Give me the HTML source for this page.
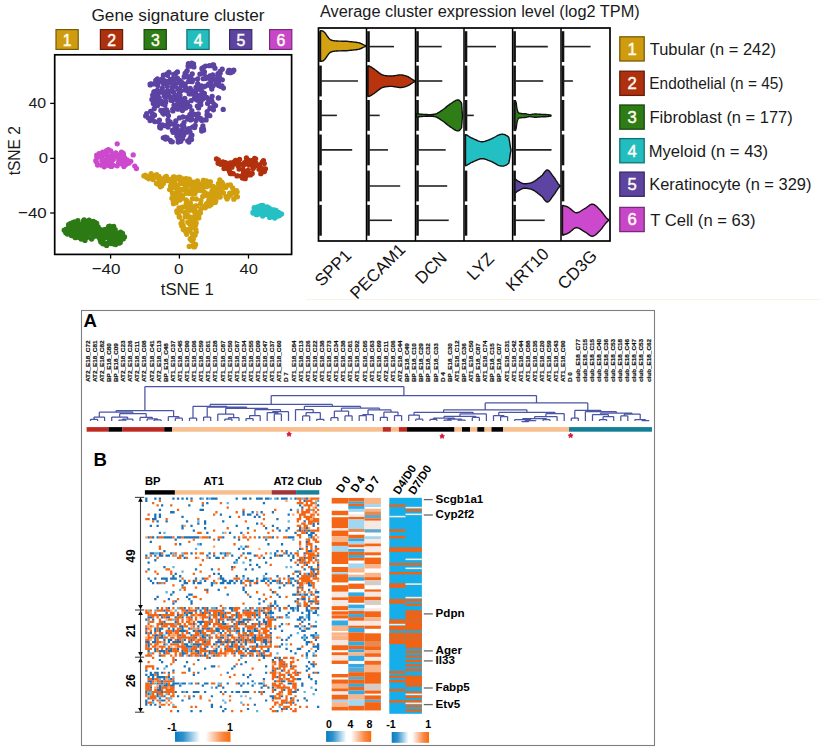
<!DOCTYPE html>
<html><head><meta charset="utf-8"><style>
html,body{margin:0;padding:0;background:#fff;}
body{width:820px;height:752px;overflow:hidden;}
svg{display:block;}
</style></head><body>
<svg width="820" height="752" viewBox="0 0 820 752">
<rect width="820" height="752" fill="#fff"/>
<text x="91.43" y="20.8" font-size="16.0" fill="#1a1a1a" textLength="173.15" lengthAdjust="spacingAndGlyphs" font-family="Liberation Sans, sans-serif" >Gene signature cluster</text>
<rect x="56.0" y="29.6" width="22.2" height="19.8" fill="#CE9C0E" stroke="#7A5C06" stroke-width="1.2"/>
<text x="67.2" y="45.9" font-size="15.8" fill="#FFFBEF" stroke="#FFFBEF" stroke-width="0.45" text-anchor="middle" font-family="Liberation Sans, sans-serif">1</text>
<rect x="100.39999999999999" y="29.6" width="22.2" height="19.8" fill="#AE310F" stroke="#661C08" stroke-width="1.2"/>
<text x="111.6" y="45.9" font-size="15.8" fill="#FFFBEF" stroke="#FFFBEF" stroke-width="0.45" text-anchor="middle" font-family="Liberation Sans, sans-serif">2</text>
<rect x="144.1" y="29.6" width="22.2" height="19.8" fill="#2E7C16" stroke="#1A480C" stroke-width="1.2"/>
<text x="155.3" y="45.9" font-size="15.8" fill="#FFFBEF" stroke="#FFFBEF" stroke-width="0.45" text-anchor="middle" font-family="Liberation Sans, sans-serif">3</text>
<rect x="186.9" y="29.6" width="22.2" height="19.8" fill="#22BDBF" stroke="#127172" stroke-width="1.2"/>
<text x="198.10000000000002" y="45.9" font-size="15.8" fill="#FFFBEF" stroke="#FFFBEF" stroke-width="0.45" text-anchor="middle" font-family="Liberation Sans, sans-serif">4</text>
<rect x="229.6" y="29.6" width="22.2" height="19.8" fill="#5D44A0" stroke="#392966" stroke-width="1.2"/>
<text x="240.8" y="45.9" font-size="15.8" fill="#FFFBEF" stroke="#FFFBEF" stroke-width="0.45" text-anchor="middle" font-family="Liberation Sans, sans-serif">5</text>
<rect x="269.6" y="29.6" width="22.2" height="19.8" fill="#C847C9" stroke="#772A78" stroke-width="1.2"/>
<text x="280.8" y="45.9" font-size="15.8" fill="#FFFBEF" stroke="#FFFBEF" stroke-width="0.45" text-anchor="middle" font-family="Liberation Sans, sans-serif">6</text>
<path d="M173.8 74.3h0M203.2 67.7h0M192.9 92.4h0M182.8 131.2h0M155.8 80.4h0M196.6 95.0h0M221.9 86.0h0M172.4 130.3h0M160.9 110.5h0M202.1 92.9h0M193.9 66.9h0M205.9 97.6h0M172.9 110.9h0M185.4 86.8h0M166.6 109.9h0M191.9 135.2h0M210.3 85.8h0M232.9 71.5h0M182.3 125.3h0M158.3 102.7h0M148.2 117.8h0M213.4 109.8h0M223.4 88.0h0M207.2 111.6h0M196.8 100.0h0M187.3 117.5h0M150.1 120.6h0M218.6 85.5h0M179.4 117.9h0M156.3 82.4h0M179.8 134.9h0M151.9 99.4h0M169.7 96.5h0M176.9 136.0h0M160.5 81.1h0M165.6 102.4h0M197.7 83.7h0M177.9 109.2h0M191.0 113.6h0M205.5 66.1h0M180.0 95.2h0M154.0 115.0h0M163.4 75.2h0M153.8 92.2h0M199.9 74.1h0M167.3 90.8h0M177.4 71.9h0M186.6 102.3h0M175.5 83.9h0M219.2 75.2h0M192.2 73.9h0M193.5 63.9h0M168.1 92.4h0M159.7 126.5h0M192.6 127.1h0M174.3 80.4h0M165.0 105.1h0M168.0 119.9h0M164.5 80.7h0M162.3 78.8h0M203.4 128.9h0M152.3 117.2h0M212.2 101.8h0M160.7 128.0h0M174.6 129.0h0M180.8 141.3h0M209.9 75.9h0M176.2 107.8h0M183.7 134.9h0M219.0 79.3h0M167.3 86.2h0M166.3 110.9h0M168.0 96.8h0M176.5 100.1h0M182.5 138.8h0M189.8 106.3h0M191.8 63.2h0M184.2 77.0h0M160.1 101.4h0M209.9 108.4h0M174.0 105.2h0M194.6 127.6h0M154.2 108.7h0M167.0 84.9h0M214.1 104.3h0M195.2 125.5h0M199.8 104.1h0M190.7 119.9h0M185.3 106.5h0M187.7 140.8h0M220.2 73.1h0M155.6 98.8h0M151.2 117.9h0M158.5 121.8h0M204.1 73.6h0M180.5 102.6h0M159.2 97.9h0M191.0 90.1h0M162.3 88.4h0M194.5 98.7h0M200.8 104.7h0M154.1 83.9h0M169.0 72.5h0M182.6 138.3h0M218.3 83.3h0M196.0 120.5h0M206.6 97.4h0M201.7 129.0h0M185.5 90.1h0M168.7 72.5h0M192.1 81.7h0M172.7 87.3h0M213.0 86.0h0M189.6 76.6h0M210.6 108.0h0M161.7 101.5h0M228.8 70.5h0M218.3 98.0h0M189.2 131.8h0M180.0 104.2h0M175.5 131.6h0M208.2 115.1h0M181.1 90.8h0M167.6 75.3h0M170.0 82.0h0M171.0 100.2h0M158.8 99.1h0M172.5 91.6h0M187.4 103.9h0M162.7 104.1h0M152.7 95.2h0M172.0 81.2h0M197.3 106.1h0M179.7 89.0h0M209.8 115.7h0M157.2 105.7h0M190.0 131.8h0M206.1 119.9h0M156.6 91.9h0M194.9 114.4h0M201.0 118.9h0M189.9 106.6h0M204.0 67.1h0M210.9 82.8h0M151.3 83.9h0M210.3 78.9h0M189.1 93.8h0M187.7 119.1h0M202.5 68.1h0M157.9 83.0h0M211.5 87.2h0M150.1 84.2h0M205.1 119.8h0M205.5 86.1h0M191.1 100.7h0M186.6 71.6h0M185.1 84.2h0M163.6 110.5h0M157.4 105.7h0M230.4 72.7h0M165.5 137.1h0M188.4 63.7h0M185.2 87.0h0M157.3 90.5h0M173.1 132.3h0M220.2 71.7h0M178.1 94.6h0M177.1 97.6h0M170.3 140.3h0M167.1 83.9h0M190.6 77.6h0M178.2 142.0h0M209.4 65.7h0M210.5 99.5h0M228.0 72.3h0M187.1 90.5h0M171.4 123.8h0M203.7 86.9h0M194.8 94.8h0M163.3 137.8h0M189.4 80.1h0M185.1 73.3h0M166.2 83.3h0M212.1 96.3h0M181.9 105.7h0M178.6 90.0h0M150.2 84.9h0M231.7 72.2h0M189.9 114.6h0M222.3 79.8h0M169.0 82.5h0M180.6 99.1h0M179.9 139.6h0M191.7 119.0h0M202.9 125.9h0M185.8 108.0h0M165.6 139.0h0M202.7 87.1h0M156.2 82.8h0M201.9 120.4h0M191.8 110.6h0M179.6 80.4h0M171.8 100.4h0M165.8 82.4h0M189.5 118.3h0M182.4 83.2h0M175.1 97.0h0M206.1 78.3h0M190.1 78.9h0M218.4 81.0h0M164.6 125.6h0M171.2 141.7h0M189.3 77.3h0M164.7 96.7h0M157.8 94.7h0M204.4 93.4h0M178.3 89.5h0M169.8 91.2h0M230.6 72.0h0M176.7 130.7h0M218.6 98.0h0M178.2 139.0h0M162.0 92.2h0M181.6 129.9h0M213.6 65.0h0M175.2 84.5h0M168.2 121.9h0M173.1 84.8h0M165.7 101.6h0M179.4 82.7h0M183.3 103.1h0M199.3 89.2h0M173.4 92.0h0M215.0 68.2h0M162.4 124.9h0M153.3 103.5h0M208.5 99.2h0M165.7 96.7h0M200.5 118.3h0M204.4 71.8h0M220.3 86.3h0M195.7 93.0h0M211.1 78.3h0M166.9 82.2h0M196.7 89.0h0M190.3 81.1h0M233.8 70.2h0M187.4 130.5h0M168.0 127.0h0M229.8 70.5h0M198.3 113.8h0M164.2 92.6h0M157.4 78.8h0M167.6 112.0h0M203.3 78.7h0M205.7 77.2h0M172.7 78.7h0M180.2 107.9h0M202.2 69.3h0M159.4 120.1h0M181.5 85.4h0M172.3 141.8h0M172.7 109.3h0M176.8 96.6h0M177.4 78.2h0M210.2 78.7h0M182.8 130.6h0M181.2 135.9h0M186.1 75.3h0M152.6 113.9h0M178.0 104.0h0M157.8 85.4h0M191.5 139.5h0M154.4 102.9h0M188.1 66.1h0M218.8 75.1h0M215.4 80.3h0M181.0 132.8h0M219.3 77.0h0M164.3 95.2h0M191.2 93.9h0M155.7 82.4h0M212.8 64.8h0M220.1 71.5h0M198.6 107.9h0M201.1 87.4h0M182.4 110.6h0M183.0 117.0h0M184.8 98.5h0M146.7 113.7h0M188.7 81.4h0M185.9 76.7h0M187.2 70.6h0M156.2 97.8h0M152.9 98.8h0M190.6 65.0h0M201.9 68.5h0M190.7 66.2h0M190.0 93.4h0M188.9 142.1h0M212.7 74.9h0M218.0 73.7h0M189.8 139.0h0M163.4 83.7h0M190.2 88.4h0M159.8 127.6h0M155.0 106.2h0M201.9 91.9h0M201.3 94.8h0M216.4 83.9h0M177.1 125.9h0M184.4 76.5h0M211.6 65.6h0M218.4 82.9h0M197.4 117.4h0M200.1 98.0h0M190.8 136.9h0M156.5 80.7h0M154.2 91.6h0M164.8 110.7h0M197.7 78.8h0M200.8 101.5h0M166.6 74.2h0M153.3 115.3h0M180.8 83.8h0M145.7 115.9h0M195.2 91.1h0M202.7 98.9h0M167.0 137.6h0M181.2 81.6h0M162.6 112.8h0M190.3 115.6h0M217.8 76.3h0M172.5 86.9h0M211.7 100.7h0M211.4 99.7h0M174.8 124.7h0M208.7 84.0h0M194.5 98.3h0M215.6 105.6h0M168.5 115.6h0M168.1 81.5h0M211.8 89.1h0M166.2 138.0h0M201.4 119.9h0M186.9 132.2h0M184.0 122.6h0M196.0 87.5h0M163.7 114.0h0M175.7 73.5h0M207.0 114.9h0M150.6 111.3h0M177.3 130.4h0M201.7 131.0h0M201.5 85.8h0M212.8 78.8h0M173.4 97.2h0M170.1 121.8h0M177.8 88.6h0M183.9 126.6h0M175.8 120.9h0M193.0 79.8h0M222.2 69.2h0M218.4 75.9h0M188.9 128.6h0M161.2 103.2h0M175.9 131.6h0M170.2 79.7h0M207.6 103.5h0M154.5 115.2h0M146.7 115.5h0M154.7 121.6h0M223.2 109.4h0M203.6 130.2h0" stroke="#5C42A2" stroke-width="5.3" stroke-linecap="round" fill="none"/>
<path d="M161.0 184.6h0M159.0 178.1h0M152.4 178.7h0M146.8 176.7h0M166.9 180.3h0M162.6 182.5h0M150.9 177.7h0M160.0 183.9h0M163.2 181.5h0M166.4 176.4h0M146.4 177.3h0M161.2 185.5h0M145.3 175.1h0M148.0 177.7h0M155.9 175.2h0M150.3 175.6h0M162.0 179.3h0M143.9 175.9h0M160.9 180.3h0M159.1 179.7h0M167.1 179.2h0M157.4 184.0h0M153.0 176.2h0M161.7 186.0h0M163.2 183.3h0M159.4 179.6h0M163.4 183.5h0M159.0 176.5h0M153.1 179.6h0M158.8 178.9h0M160.4 186.8h0M163.3 178.6h0M168.0 180.6h0M156.5 183.6h0M164.8 180.6h0M151.1 173.6h0M148.8 178.8h0M151.0 176.8h0M168.0 180.7h0M152.2 176.0h0M154.4 177.2h0M156.7 174.7h0M164.9 178.1h0M165.4 176.8h0M151.7 176.6h0" stroke="#D2A00E" stroke-width="5.3" stroke-linecap="round" fill="none"/>
<path d="M199.1 189.3h0M188.9 193.5h0M190.3 210.3h0M215.5 201.9h0M215.2 193.9h0M176.3 186.3h0M185.6 231.4h0M193.5 187.0h0M183.0 225.4h0M208.1 194.9h0M185.6 186.0h0M203.8 180.3h0M202.0 186.4h0M195.5 205.9h0M192.4 246.0h0M192.9 237.5h0M194.9 209.9h0M183.9 207.1h0M198.8 215.6h0M227.2 197.0h0M204.5 195.4h0M192.4 198.7h0M190.2 217.9h0M172.6 197.5h0M169.6 189.6h0M217.0 191.2h0M222.7 183.3h0M181.9 178.7h0M215.2 202.4h0M208.6 194.5h0M190.4 206.1h0M191.5 206.8h0M171.9 184.6h0M198.1 183.4h0M214.4 191.2h0M179.8 177.2h0M178.2 177.4h0M219.7 193.4h0M220.7 189.4h0M220.4 182.1h0M191.0 228.0h0M203.3 180.4h0M195.0 217.0h0M194.7 222.0h0M196.2 232.1h0M209.0 196.9h0M192.5 219.2h0M211.4 198.1h0M195.6 224.9h0M225.9 196.3h0M198.8 217.9h0M209.3 195.6h0M193.5 182.2h0M183.2 229.5h0M234.6 192.8h0M201.8 190.8h0M187.0 229.6h0M223.4 192.7h0M182.4 189.8h0M181.8 226.0h0M194.6 216.3h0M197.4 212.9h0M179.6 179.3h0M224.5 187.2h0M211.1 200.7h0M209.0 194.7h0M187.0 178.8h0M183.3 189.0h0M175.0 179.7h0M211.2 204.4h0M187.2 216.3h0M200.6 187.5h0M184.7 178.8h0M187.1 201.2h0M173.1 186.4h0M216.7 197.4h0M176.6 199.2h0M187.2 184.9h0M203.0 188.1h0M185.9 186.3h0M219.5 190.0h0M179.0 208.0h0M200.9 200.3h0M213.3 186.3h0M184.7 180.1h0M187.9 205.4h0M180.1 195.4h0M180.9 211.1h0M191.5 240.4h0M216.1 191.1h0M202.7 196.5h0M187.3 190.5h0M194.7 246.7h0M176.0 196.7h0M220.2 197.0h0M182.2 207.1h0M233.2 191.6h0M209.3 185.9h0M219.1 190.1h0M174.7 182.3h0M188.4 190.8h0M183.4 180.8h0M219.8 180.0h0M230.4 195.1h0M194.9 187.7h0M195.2 218.5h0M200.5 212.8h0M191.7 226.7h0M195.9 229.6h0M237.1 192.0h0M182.0 183.4h0M186.7 234.3h0M171.3 183.0h0M218.2 190.0h0M218.5 183.4h0M172.3 184.9h0M188.8 184.8h0M197.6 185.9h0M179.5 216.9h0M221.6 187.8h0M196.5 206.0h0M186.0 200.0h0M186.7 206.2h0M213.6 202.1h0M206.4 181.0h0M199.6 212.0h0M170.6 186.0h0M214.2 195.0h0M216.8 195.6h0M212.8 193.9h0M205.7 207.0h0M235.9 196.6h0M190.6 222.2h0M188.0 209.3h0M206.6 186.7h0M177.9 185.5h0M189.8 205.1h0M189.4 193.4h0M183.3 226.7h0M191.0 193.4h0M184.7 212.6h0M196.1 217.8h0M229.7 193.1h0M189.2 246.4h0M189.9 231.1h0M180.3 180.9h0M173.5 203.7h0M176.8 192.1h0M180.0 200.1h0M193.9 224.2h0M209.3 205.9h0M211.8 203.1h0M200.9 208.7h0M219.9 197.0h0M196.6 215.6h0M196.2 199.0h0M204.2 207.7h0M182.1 197.8h0M179.3 217.1h0M210.0 182.4h0M233.8 199.2h0M236.5 190.6h0M169.9 179.5h0M194.3 218.5h0M193.8 243.6h0M176.1 202.8h0M197.3 216.1h0M181.1 198.8h0M205.2 184.0h0M180.1 196.7h0M182.4 189.1h0M194.0 246.9h0M190.7 225.3h0M216.1 190.1h0M187.8 222.2h0M209.5 205.4h0M177.7 187.3h0M222.5 183.7h0M176.2 188.2h0M173.5 177.0h0M181.0 195.1h0M210.0 200.9h0M200.7 203.6h0M186.7 179.2h0M191.3 240.1h0M226.5 197.7h0M186.2 203.9h0M219.6 191.9h0M190.9 238.4h0M186.2 188.5h0M194.3 189.4h0M237.4 196.8h0M208.6 184.3h0M206.6 203.6h0M197.5 180.8h0M193.8 193.5h0M182.6 196.3h0M185.8 178.6h0M215.8 200.4h0M175.7 195.3h0M227.8 185.2h0M225.7 187.4h0M193.9 227.6h0M195.6 244.4h0M204.6 192.3h0M200.9 185.4h0M218.8 194.7h0M195.0 193.6h0M211.9 191.2h0M230.4 184.8h0M188.1 231.1h0M196.2 222.9h0M209.0 198.2h0M196.5 182.2h0M191.7 223.3h0M194.5 211.7h0M190.0 180.8h0M191.0 192.2h0M189.0 204.8h0M178.4 195.8h0M215.8 201.1h0M218.3 193.8h0M213.3 189.0h0M172.0 178.9h0M180.5 190.2h0M190.4 203.2h0M171.9 198.2h0M214.0 188.9h0M219.5 194.2h0M189.3 179.2h0M172.5 193.5h0M221.8 182.2h0M188.9 182.5h0M199.2 212.6h0M187.5 215.0h0M207.4 193.9h0M173.3 201.6h0M198.1 190.4h0M191.0 185.8h0M185.9 193.3h0M205.3 207.8h0M190.2 239.1h0M179.1 216.2h0M192.6 234.2h0M181.0 223.6h0M177.2 196.7h0M194.5 190.8h0M173.4 196.1h0M183.0 226.1h0M200.6 184.1h0M191.9 209.5h0M194.6 188.1h0M174.2 176.9h0M176.8 210.9h0M199.6 189.6h0M215.0 194.0h0M186.4 186.0h0M228.1 197.2h0M182.2 221.5h0M192.1 189.2h0M227.1 198.9h0M195.0 215.3h0M195.1 235.3h0M186.0 179.0h0M180.2 197.4h0M210.0 181.8h0M217.5 187.8h0M175.4 178.9h0M200.0 189.7h0M189.0 223.2h0M205.3 206.1h0M192.9 207.3h0M232.6 187.8h0M189.9 207.7h0M208.7 200.9h0M182.9 182.2h0M191.9 208.9h0M190.0 216.8h0M214.6 197.4h0M193.3 239.1h0M171.1 189.5h0M195.3 217.5h0M198.4 213.8h0M208.8 204.3h0M177.2 189.0h0M187.0 182.9h0M206.4 194.0h0M185.1 216.9h0M177.1 212.6h0M210.5 181.8h0" stroke="#D2A00E" stroke-width="5.3" stroke-linecap="round" fill="none"/>
<path d="M237.6 175.8h0M243.6 172.3h0M254.6 158.3h0M265.5 168.8h0M255.6 158.8h0M226.7 164.3h0M225.5 162.6h0M252.0 165.6h0M261.7 170.2h0M260.8 168.8h0M232.3 173.5h0M250.5 174.9h0M220.6 164.3h0M246.4 157.9h0M243.5 174.4h0M250.3 161.6h0M224.4 166.1h0M259.0 169.2h0M224.0 168.6h0M229.6 171.7h0M261.0 168.2h0M251.0 174.5h0M240.9 176.1h0M250.5 164.8h0M239.6 159.3h0M259.4 164.8h0M260.9 169.9h0M218.1 163.3h0M223.1 164.1h0M239.1 169.1h0M234.8 163.9h0M216.5 159.0h0M250.0 162.0h0M228.7 167.3h0M228.1 168.9h0M242.4 178.0h0M244.1 173.7h0M260.8 173.7h0M248.0 170.5h0M233.5 162.2h0M264.4 171.6h0M230.3 173.5h0M253.7 167.5h0M248.1 163.8h0M243.6 165.1h0M239.9 164.2h0M238.3 166.0h0M244.5 162.7h0M230.2 162.8h0M253.0 168.5h0M264.3 163.6h0M263.5 169.3h0M218.3 159.8h0M245.2 178.7h0M233.2 173.7h0M237.0 175.9h0M262.3 162.1h0M222.9 161.9h0M251.8 160.7h0M235.5 160.3h0M246.4 175.8h0M248.8 160.2h0M224.1 168.2h0M261.0 170.6h0M263.5 160.6h0M231.6 173.2h0M248.8 165.1h0M250.5 163.5h0M232.0 167.2h0M246.1 161.6h0M263.7 168.8h0M247.0 172.6h0M257.7 165.5h0M242.9 169.4h0M243.8 171.0h0M246.3 163.4h0M253.8 161.6h0M252.2 173.5h0M255.7 162.9h0M238.3 162.1h0" stroke="#B2300C" stroke-width="5.3" stroke-linecap="round" fill="none"/>
<path d="M266.4 214.3h0M276.0 210.3h0M253.0 212.2h0M269.0 207.8h0M255.9 207.8h0M274.8 218.0h0M271.6 210.1h0M276.9 211.7h0M253.0 213.1h0M281.5 213.9h0M258.3 208.8h0M259.5 211.3h0M258.5 208.1h0M275.5 214.1h0M258.1 213.1h0M275.3 216.6h0M260.2 209.9h0M256.3 214.7h0M270.3 211.6h0M269.7 217.4h0M262.7 216.0h0M260.7 205.7h0M254.2 207.7h0M274.2 217.4h0M267.3 208.5h0M265.0 206.8h0M255.0 212.0h0M255.5 211.2h0M256.9 214.7h0M267.2 206.9h0M262.5 212.1h0M279.5 215.4h0M259.9 207.8h0M259.6 206.3h0M264.2 213.0h0M262.8 205.5h0M273.3 214.3h0M268.6 212.9h0M279.2 215.2h0M264.0 209.7h0M263.6 210.6h0M264.3 207.3h0M259.3 213.7h0M263.2 208.7h0M257.5 207.0h0M278.2 216.1h0M273.4 209.8h0M271.9 212.9h0M278.6 212.3h0M258.6 214.0h0M275.0 210.5h0M274.0 210.7h0M268.0 213.7h0M272.9 209.8h0M271.3 212.8h0" stroke="#24C0C4" stroke-width="5.3" stroke-linecap="round" fill="none"/>
<path d="M102.7 161.1h0M104.2 166.8h0M111.5 163.2h0M113.2 158.5h0M102.7 152.1h0M113.3 159.5h0M123.4 153.9h0M100.9 165.1h0M111.1 161.6h0M123.9 166.5h0M108.3 165.3h0M100.3 154.2h0M98.5 156.2h0M123.1 159.3h0M110.8 151.0h0M119.3 158.0h0M111.7 164.6h0M121.5 152.2h0M118.8 156.4h0M113.2 153.9h0M107.9 155.9h0M108.3 149.7h0M101.9 160.3h0M120.1 154.6h0M106.3 154.0h0M117.2 165.8h0M102.0 157.5h0M122.7 161.2h0M107.9 150.2h0M110.4 156.4h0M119.9 155.0h0M109.2 161.8h0M123.4 156.1h0M108.4 160.4h0M129.0 163.0h0M108.0 162.1h0M106.5 150.7h0M121.4 156.6h0M113.3 158.9h0M126.5 163.9h0M95.8 160.7h0M111.1 158.2h0M124.4 157.3h0M111.5 166.4h0M110.3 158.8h0M112.9 165.2h0M118.4 163.5h0M109.0 150.1h0M118.8 160.0h0M121.9 164.1h0M99.0 153.6h0M97.6 165.0h0M121.3 160.2h0M96.8 162.4h0M119.9 158.6h0M96.8 162.6h0M109.6 160.5h0M106.6 159.3h0M104.5 154.4h0M105.9 154.2h0M125.0 160.0h0M112.8 157.4h0M96.7 155.2h0M125.3 164.7h0M113.7 156.5h0M111.2 158.7h0M115.4 156.4h0M123.0 153.2h0M127.2 160.0h0M96.7 155.4h0M113.6 157.2h0M114.7 155.6h0M104.5 164.6h0M105.1 163.0h0M123.1 160.7h0M110.5 166.2h0M96.9 157.7h0M115.8 152.8h0M127.3 160.1h0M123.0 158.9h0M117.2 143.8h0M133.2 154.9h0M136.4 168.5h0M130.8 161.3h0M134.8 166.1h0" stroke="#CC48CC" stroke-width="5.3" stroke-linecap="round" fill="none"/>
<path d="M87.7 233.9h0M73.8 223.5h0M93.7 222.0h0M96.7 223.4h0M78.2 233.5h0M88.2 222.2h0M73.8 224.0h0M84.3 225.9h0M83.6 222.2h0M96.4 226.0h0M93.9 222.2h0M76.9 233.1h0M71.2 231.0h0M66.4 229.1h0M89.7 228.4h0M87.9 221.3h0M93.4 221.5h0M97.5 230.5h0M73.6 226.5h0M90.5 229.9h0M80.8 238.1h0M84.9 230.9h0M94.0 223.8h0M85.0 240.4h0M75.2 228.8h0M72.1 235.4h0M83.5 220.9h0M83.2 236.4h0M84.8 229.1h0M64.2 230.2h0M66.5 233.2h0M67.8 231.7h0M75.9 227.1h0M87.3 222.4h0M75.1 237.6h0M95.0 229.5h0M81.2 230.7h0M67.3 229.2h0M69.0 230.7h0M81.6 227.0h0M70.2 227.8h0M81.4 238.7h0M80.9 236.4h0M83.9 234.2h0M71.4 235.5h0M68.6 224.7h0M82.0 225.3h0M84.2 224.0h0M84.8 236.3h0M89.1 220.2h0M72.0 232.2h0M85.7 234.2h0M92.9 226.4h0M92.7 229.1h0M97.5 228.0h0M77.9 220.7h0M72.0 235.2h0M87.9 222.2h0M75.6 221.9h0M70.3 223.7h0M80.6 229.9h0M91.6 239.1h0M90.6 233.0h0M70.3 232.7h0M94.0 236.3h0M75.8 222.4h0M98.4 233.8h0M90.3 221.8h0M96.2 235.4h0M93.5 236.7h0M84.6 228.5h0M93.3 236.3h0M94.9 225.5h0M98.2 230.6h0M71.5 223.2h0M79.8 224.1h0M81.1 239.1h0M88.1 234.6h0M77.4 236.3h0M92.1 234.0h0M77.9 220.7h0M86.9 237.5h0M75.4 232.1h0M93.7 236.5h0M92.8 228.1h0M85.2 229.0h0M75.3 223.5h0M76.0 237.6h0M85.7 225.3h0M88.7 228.6h0M87.2 236.8h0M67.4 234.0h0M69.7 224.8h0M98.1 226.9h0M85.4 238.7h0M77.5 229.9h0M98.1 230.1h0M93.5 222.4h0M79.7 236.9h0M72.2 226.6h0M66.7 231.1h0M94.6 230.3h0M95.8 233.7h0M65.8 232.7h0M76.3 233.5h0M86.2 227.2h0M82.1 233.9h0M96.3 229.9h0M88.1 231.2h0M79.4 235.6h0M95.7 235.1h0M74.9 221.8h0M68.3 231.9h0M84.1 219.8h0M77.4 235.5h0M86.5 225.0h0M91.0 225.3h0M83.0 228.2h0M98.9 233.3h0M92.5 233.9h0M89.0 234.2h0M73.2 222.4h0M84.1 237.2h0M92.1 226.5h0M68.1 230.3h0M95.2 222.4h0M90.1 222.6h0M73.9 227.3h0M69.8 225.7h0M74.8 228.6h0M77.4 227.4h0M79.5 237.5h0M86.4 236.2h0M74.5 222.2h0M90.8 229.3h0M83.5 233.8h0M90.6 224.9h0M82.4 225.2h0M86.1 224.6h0M93.3 231.4h0" stroke="#2C7A14" stroke-width="5.3" stroke-linecap="round" fill="none"/>
<path d="M106.6 245.4h0M104.1 230.4h0M98.5 237.0h0M118.1 239.8h0M108.3 242.6h0M99.7 231.8h0M114.7 240.1h0M118.7 233.7h0M106.3 233.6h0M119.6 232.7h0M111.8 236.4h0M115.7 244.6h0M100.3 232.5h0M98.4 234.1h0M110.9 243.5h0M115.7 237.6h0M108.1 237.5h0M104.4 243.4h0M119.1 243.2h0M100.8 239.6h0M118.1 235.9h0M117.8 242.8h0M115.1 244.1h0M100.3 240.3h0M116.7 238.3h0M113.8 242.9h0M104.3 229.7h0M119.5 232.9h0M120.6 232.2h0M100.5 231.1h0M98.2 234.8h0M112.4 242.5h0M99.7 230.0h0M114.6 232.5h0M106.0 237.4h0M102.7 242.2h0M102.5 243.2h0M119.7 236.7h0M97.3 236.0h0M108.7 226.5h0M114.6 240.8h0M113.3 233.8h0M111.2 237.8h0M103.0 243.8h0M110.2 228.0h0M109.5 239.9h0M116.8 234.9h0M106.3 229.2h0M108.1 231.2h0M102.1 241.0h0M111.3 234.6h0M102.2 240.3h0M102.1 230.9h0M112.6 240.3h0M117.2 240.7h0M117.2 238.7h0M104.1 232.8h0M101.2 238.8h0M106.7 244.5h0M119.6 235.0h0M100.9 241.9h0M110.2 242.9h0M112.7 236.1h0M102.5 230.6h0M117.5 233.4h0M102.6 237.8h0M120.3 242.1h0M109.8 226.1h0M122.0 236.7h0M98.5 232.1h0M114.4 244.2h0M110.4 238.9h0M102.4 230.4h0M122.5 233.4h0M99.5 237.9h0M100.1 229.5h0M109.6 237.8h0M114.8 240.4h0M109.1 226.6h0M110.0 233.8h0M115.8 240.5h0M103.4 239.1h0M116.4 235.3h0M113.7 226.5h0M103.1 233.6h0M119.1 242.9h0M114.7 241.1h0M102.8 239.6h0M123.2 238.9h0M101.9 242.5h0M101.2 236.2h0M112.5 242.8h0M110.9 238.5h0M113.6 242.4h0M112.2 231.4h0M120.3 242.6h0M109.6 227.8h0M115.2 229.6h0M108.8 227.5h0M124.5 236.9h0" stroke="#2C7A14" stroke-width="5.3" stroke-linecap="round" fill="none"/>
<rect x="54.7" y="54.8" width="236.9" height="199.6" fill="none" stroke="#000" stroke-width="1.7"/>
<line x1="50.2" y1="103.4" x2="54.7" y2="103.4" stroke="#000" stroke-width="1.3"/>
<line x1="50.2" y1="158.4" x2="54.7" y2="158.4" stroke="#000" stroke-width="1.3"/>
<line x1="50.2" y1="213.0" x2="54.7" y2="213.0" stroke="#000" stroke-width="1.3"/>
<line x1="110.6" y1="254.4" x2="110.6" y2="258.6" stroke="#000" stroke-width="1.3"/>
<line x1="179.4" y1="254.4" x2="179.4" y2="258.6" stroke="#000" stroke-width="1.3"/>
<line x1="248.5" y1="254.4" x2="248.5" y2="258.6" stroke="#000" stroke-width="1.3"/>
<text x="28.54" y="107.9" font-size="15.4" fill="#1a1a1a" textLength="17.69" lengthAdjust="spacingAndGlyphs" font-family="Liberation Sans, sans-serif" >40</text>
<text x="38.75" y="162.8" font-size="15.4" fill="#1a1a1a" textLength="9.31" lengthAdjust="spacingAndGlyphs" font-family="Liberation Sans, sans-serif" >0</text>
<text x="18.07" y="218.4" font-size="15.4" fill="#1a1a1a" textLength="28.70" lengthAdjust="spacingAndGlyphs" font-family="Liberation Sans, sans-serif" >−40</text>
<text x="91.66" y="274.0" font-size="15.4" fill="#1a1a1a" textLength="28.91" lengthAdjust="spacingAndGlyphs" font-family="Liberation Sans, sans-serif" >−40</text>
<text x="173.93" y="274.0" font-size="15.4" fill="#1a1a1a" textLength="9.54" lengthAdjust="spacingAndGlyphs" font-family="Liberation Sans, sans-serif" >0</text>
<text x="239.52" y="274.0" font-size="15.4" fill="#1a1a1a" textLength="18.32" lengthAdjust="spacingAndGlyphs" font-family="Liberation Sans, sans-serif" >40</text>
<text x="160.75" y="295.2" font-size="15.6" fill="#1a1a1a" textLength="52.97" lengthAdjust="spacingAndGlyphs" font-family="Liberation Sans, sans-serif" >tSNE 1</text>
<text transform="translate(20.40,175.10) rotate(-90)" x="-0.23" y="0" font-size="15.6" fill="#1a1a1a" textLength="49.11" lengthAdjust="spacingAndGlyphs" font-family="Liberation Sans, sans-serif" >tSNE 2</text>
<text x="319.97" y="16.7" font-size="16.0" fill="#1a1a1a" textLength="319.74" lengthAdjust="spacingAndGlyphs" font-family="Liberation Sans, sans-serif" >Average cluster expression level (log2 TPM)</text>
<line x1="320.5" y1="31.2" x2="320.5" y2="62.0" stroke="#111" stroke-width="2.6"/>
<line x1="320.5" y1="65.6" x2="320.5" y2="96.4" stroke="#111" stroke-width="2.6"/>
<line x1="320.5" y1="100.0" x2="320.5" y2="130.8" stroke="#111" stroke-width="2.6"/>
<line x1="320.5" y1="134.5" x2="320.5" y2="165.3" stroke="#111" stroke-width="2.6"/>
<line x1="320.5" y1="170.6" x2="320.5" y2="201.4" stroke="#111" stroke-width="2.6"/>
<line x1="320.5" y1="204.9" x2="320.5" y2="235.7" stroke="#111" stroke-width="2.6"/>
<line x1="368.5" y1="31.2" x2="368.5" y2="62.0" stroke="#111" stroke-width="2.6"/>
<line x1="368.5" y1="65.6" x2="368.5" y2="96.4" stroke="#111" stroke-width="2.6"/>
<line x1="368.5" y1="100.0" x2="368.5" y2="130.8" stroke="#111" stroke-width="2.6"/>
<line x1="368.5" y1="134.5" x2="368.5" y2="165.3" stroke="#111" stroke-width="2.6"/>
<line x1="368.5" y1="170.6" x2="368.5" y2="201.4" stroke="#111" stroke-width="2.6"/>
<line x1="368.5" y1="204.9" x2="368.5" y2="235.7" stroke="#111" stroke-width="2.6"/>
<line x1="417.5" y1="31.2" x2="417.5" y2="62.0" stroke="#111" stroke-width="2.6"/>
<line x1="417.5" y1="65.6" x2="417.5" y2="96.4" stroke="#111" stroke-width="2.6"/>
<line x1="417.5" y1="100.0" x2="417.5" y2="130.8" stroke="#111" stroke-width="2.6"/>
<line x1="417.5" y1="134.5" x2="417.5" y2="165.3" stroke="#111" stroke-width="2.6"/>
<line x1="417.5" y1="170.6" x2="417.5" y2="201.4" stroke="#111" stroke-width="2.6"/>
<line x1="417.5" y1="204.9" x2="417.5" y2="235.7" stroke="#111" stroke-width="2.6"/>
<line x1="466.0" y1="31.2" x2="466.0" y2="62.0" stroke="#111" stroke-width="2.6"/>
<line x1="466.0" y1="65.6" x2="466.0" y2="96.4" stroke="#111" stroke-width="2.6"/>
<line x1="466.0" y1="100.0" x2="466.0" y2="130.8" stroke="#111" stroke-width="2.6"/>
<line x1="466.0" y1="134.5" x2="466.0" y2="165.3" stroke="#111" stroke-width="2.6"/>
<line x1="466.0" y1="170.6" x2="466.0" y2="201.4" stroke="#111" stroke-width="2.6"/>
<line x1="466.0" y1="204.9" x2="466.0" y2="235.7" stroke="#111" stroke-width="2.6"/>
<line x1="514.6" y1="31.2" x2="514.6" y2="62.0" stroke="#111" stroke-width="2.6"/>
<line x1="514.6" y1="65.6" x2="514.6" y2="96.4" stroke="#111" stroke-width="2.6"/>
<line x1="514.6" y1="100.0" x2="514.6" y2="130.8" stroke="#111" stroke-width="2.6"/>
<line x1="514.6" y1="134.5" x2="514.6" y2="165.3" stroke="#111" stroke-width="2.6"/>
<line x1="514.6" y1="170.6" x2="514.6" y2="201.4" stroke="#111" stroke-width="2.6"/>
<line x1="514.6" y1="204.9" x2="514.6" y2="235.7" stroke="#111" stroke-width="2.6"/>
<line x1="563.0" y1="31.2" x2="563.0" y2="62.0" stroke="#111" stroke-width="2.6"/>
<line x1="563.0" y1="65.6" x2="563.0" y2="96.4" stroke="#111" stroke-width="2.6"/>
<line x1="563.0" y1="100.0" x2="563.0" y2="130.8" stroke="#111" stroke-width="2.6"/>
<line x1="563.0" y1="134.5" x2="563.0" y2="165.3" stroke="#111" stroke-width="2.6"/>
<line x1="563.0" y1="170.6" x2="563.0" y2="201.4" stroke="#111" stroke-width="2.6"/>
<line x1="563.0" y1="204.9" x2="563.0" y2="235.7" stroke="#111" stroke-width="2.6"/>
<line x1="320.5" y1="81.0" x2="358.0" y2="81.0" stroke="#222" stroke-width="1.6"/>
<line x1="320.5" y1="115.4" x2="336.9" y2="115.4" stroke="#222" stroke-width="1.6"/>
<line x1="320.5" y1="149.9" x2="352.2" y2="149.9" stroke="#222" stroke-width="1.6"/>
<line x1="368.5" y1="46.6" x2="394.0" y2="46.6" stroke="#222" stroke-width="1.6"/>
<line x1="368.5" y1="115.4" x2="379.7" y2="115.4" stroke="#222" stroke-width="1.6"/>
<line x1="368.5" y1="149.9" x2="388.0" y2="149.9" stroke="#222" stroke-width="1.6"/>
<line x1="368.5" y1="186.0" x2="400.2" y2="186.0" stroke="#222" stroke-width="1.6"/>
<line x1="368.5" y1="220.3" x2="392.0" y2="220.3" stroke="#222" stroke-width="1.6"/>
<line x1="417.5" y1="46.6" x2="441.7" y2="46.6" stroke="#222" stroke-width="1.6"/>
<line x1="417.5" y1="81.0" x2="442.3" y2="81.0" stroke="#222" stroke-width="1.6"/>
<line x1="417.5" y1="149.9" x2="445.7" y2="149.9" stroke="#222" stroke-width="1.6"/>
<line x1="417.5" y1="186.0" x2="447.2" y2="186.0" stroke="#222" stroke-width="1.6"/>
<line x1="417.5" y1="220.3" x2="448.7" y2="220.3" stroke="#222" stroke-width="1.6"/>
<line x1="466.0" y1="46.6" x2="496.0" y2="46.6" stroke="#222" stroke-width="1.6"/>
<line x1="466.0" y1="115.4" x2="473.8" y2="115.4" stroke="#222" stroke-width="1.6"/>
<line x1="514.6" y1="46.6" x2="547.8" y2="46.6" stroke="#222" stroke-width="1.6"/>
<line x1="514.6" y1="81.0" x2="543.2" y2="81.0" stroke="#222" stroke-width="1.6"/>
<line x1="514.6" y1="149.9" x2="551.5" y2="149.9" stroke="#222" stroke-width="1.6"/>
<line x1="514.6" y1="220.3" x2="544.7" y2="220.3" stroke="#222" stroke-width="1.6"/>
<line x1="563.0" y1="46.6" x2="590.6" y2="46.6" stroke="#222" stroke-width="1.6"/>
<line x1="563.0" y1="81.0" x2="572.9" y2="81.0" stroke="#222" stroke-width="1.6"/>
<path d="M320.5,30.7 L320.8,30.7 L321.1,30.8 L321.4,30.8 L321.7,30.8 L322.0,30.9 L322.3,30.9 L322.6,31.0 L322.9,31.1 L323.2,31.2 L323.5,31.4 L323.8,31.7 L324.1,32.0 L324.6,32.4 L325.1,32.9 L325.5,33.5 L326.0,34.1 L326.4,34.8 L326.9,35.5 L327.3,36.2 L327.8,36.8 L328.2,37.5 L328.7,38.1 L329.1,38.6 L329.6,39.0 L330.0,39.3 L330.4,39.6 L330.7,39.8 L331.1,40.0 L331.5,40.2 L331.9,40.3 L332.3,40.4 L332.6,40.5 L333.0,40.6 L333.4,40.6 L333.8,40.7 L334.1,40.8 L335.3,40.9 L336.4,41.0 L337.6,41.0 L338.7,41.1 L339.8,41.1 L341.0,41.1 L342.1,41.2 L343.2,41.2 L344.4,41.2 L345.5,41.3 L346.7,41.3 L347.8,41.4 L348.7,41.5 L349.7,41.6 L350.6,41.7 L351.6,41.8 L352.5,41.9 L353.5,42.0 L354.4,42.1 L355.4,42.2 L356.3,42.3 L357.3,42.5 L358.2,42.6 L359.2,42.8 L359.7,43.0 L360.3,43.2 L360.9,43.5 L361.4,43.7 L362.0,44.0 L362.6,44.3 L363.2,44.6 L363.7,44.8 L364.3,45.1 L364.9,45.3 L365.4,45.5 L366.0,45.6 L366.0,46.4 L365.4,46.5 L364.9,46.7 L364.3,46.9 L363.7,47.2 L363.2,47.4 L362.6,47.7 L362.0,48.0 L361.4,48.3 L360.9,48.5 L360.3,48.8 L359.7,49.0 L359.2,49.2 L358.2,49.4 L357.3,49.5 L356.3,49.7 L355.4,49.8 L354.4,49.9 L353.5,50.0 L352.5,50.1 L351.6,50.2 L350.6,50.3 L349.7,50.4 L348.7,50.5 L347.8,50.6 L346.7,50.7 L345.5,50.7 L344.4,50.8 L343.2,50.8 L342.1,50.8 L341.0,50.9 L339.8,50.9 L338.7,50.9 L337.6,51.0 L336.4,51.0 L335.3,51.1 L334.1,51.2 L333.8,51.3 L333.4,51.4 L333.0,51.4 L332.6,51.5 L332.3,51.6 L331.9,51.7 L331.5,51.8 L331.1,52.0 L330.7,52.2 L330.4,52.4 L330.0,52.7 L329.6,53.0 L329.1,53.4 L328.7,53.9 L328.2,54.5 L327.8,55.2 L327.3,55.8 L326.9,56.5 L326.4,57.2 L326.0,57.9 L325.5,58.5 L325.1,59.1 L324.6,59.6 L324.1,60.0 L323.8,60.3 L323.5,60.6 L323.2,60.8 L322.9,60.9 L322.6,61.0 L322.3,61.1 L322.0,61.1 L321.7,61.2 L321.4,61.2 L321.1,61.2 L320.8,61.3 L320.5,61.3Z" fill="#D4A112" stroke="#111" stroke-width="1.4" stroke-linejoin="round"/>
<path d="M368.0,65.9 L368.4,66.0 L368.8,66.1 L369.2,66.2 L369.6,66.3 L370.0,66.5 L370.4,66.6 L370.7,66.8 L371.1,67.0 L371.5,67.3 L371.9,67.5 L372.3,67.9 L372.7,68.2 L373.5,68.6 L374.3,69.1 L375.1,69.7 L375.8,70.2 L376.6,70.9 L377.4,71.5 L378.2,72.1 L379.0,72.8 L379.8,73.3 L380.5,73.9 L381.3,74.3 L382.1,74.7 L382.9,75.0 L383.7,75.2 L384.4,75.4 L385.2,75.6 L386.0,75.7 L386.8,75.8 L387.6,75.9 L388.4,75.9 L389.1,76.0 L389.9,76.0 L390.7,76.0 L391.5,76.0 L392.3,76.0 L393.1,75.9 L393.9,75.8 L394.6,75.7 L395.4,75.6 L396.2,75.4 L397.0,75.3 L397.8,75.1 L398.6,75.0 L399.3,74.9 L400.1,74.9 L400.9,74.9 L401.5,74.9 L402.1,75.0 L402.7,75.1 L403.2,75.2 L403.8,75.3 L404.4,75.5 L405.0,75.6 L405.6,75.8 L406.2,76.0 L406.8,76.2 L407.4,76.5 L407.9,76.7 L408.5,77.0 L409.1,77.3 L409.7,77.7 L410.3,78.0 L410.9,78.5 L411.5,78.9 L412.1,79.3 L412.6,79.7 L413.2,80.0 L413.8,80.3 L414.4,80.6 L415.0,80.8 L415.0,81.6 L414.4,81.8 L413.8,82.1 L413.2,82.4 L412.6,82.7 L412.1,83.1 L411.5,83.5 L410.9,83.9 L410.3,84.4 L409.7,84.7 L409.1,85.1 L408.5,85.4 L407.9,85.7 L407.4,85.9 L406.8,86.2 L406.2,86.4 L405.6,86.6 L405.0,86.8 L404.4,86.9 L403.8,87.1 L403.2,87.2 L402.7,87.3 L402.1,87.4 L401.5,87.5 L400.9,87.5 L400.1,87.5 L399.3,87.5 L398.6,87.4 L397.8,87.3 L397.0,87.1 L396.2,87.0 L395.4,86.8 L394.6,86.7 L393.9,86.6 L393.1,86.5 L392.3,86.4 L391.5,86.4 L390.7,86.4 L389.9,86.4 L389.1,86.4 L388.4,86.5 L387.6,86.5 L386.8,86.6 L386.0,86.7 L385.2,86.8 L384.4,87.0 L383.7,87.2 L382.9,87.4 L382.1,87.7 L381.3,88.1 L380.5,88.5 L379.8,89.1 L379.0,89.6 L378.2,90.3 L377.4,90.9 L376.6,91.5 L375.8,92.2 L375.1,92.7 L374.3,93.3 L373.5,93.8 L372.7,94.2 L372.3,94.5 L371.9,94.9 L371.5,95.1 L371.1,95.4 L370.7,95.6 L370.4,95.8 L370.0,95.9 L369.6,96.1 L369.2,96.2 L368.8,96.3 L368.4,96.4 L368.0,96.5Z" fill="#B8340F" stroke="#111" stroke-width="1.4" stroke-linejoin="round"/>
<path d="M416.5,113.8 L417.1,113.8 L417.6,113.9 L418.2,113.9 L418.8,114.0 L419.4,114.0 L419.9,114.1 L420.5,114.2 L421.1,114.2 L421.7,114.3 L422.2,114.3 L422.8,114.4 L423.4,114.4 L424.4,114.4 L425.3,114.5 L426.3,114.5 L427.2,114.5 L428.2,114.6 L429.1,114.6 L430.1,114.6 L431.1,114.6 L432.0,114.5 L433.0,114.5 L433.9,114.3 L434.9,114.2 L435.5,114.0 L436.1,113.8 L436.6,113.6 L437.2,113.3 L437.8,113.0 L438.4,112.7 L438.9,112.3 L439.5,112.0 L440.1,111.6 L440.6,111.2 L441.2,110.8 L441.8,110.4 L442.5,110.0 L443.1,109.5 L443.8,109.0 L444.4,108.5 L445.1,108.0 L445.7,107.4 L446.4,106.9 L447.0,106.4 L447.7,105.8 L448.3,105.3 L449.0,104.9 L449.6,104.4 L450.3,103.9 L451.0,103.5 L451.7,103.0 L452.4,102.5 L453.1,102.0 L453.8,101.6 L454.4,101.1 L455.1,100.8 L455.8,100.4 L456.5,100.2 L457.2,100.0 L457.9,99.9 L458.2,99.9 L458.5,99.9 L458.8,100.0 L459.1,100.2 L459.4,100.4 L459.7,100.7 L460.0,101.0 L460.4,101.3 L460.7,101.8 L461.0,102.3 L461.3,102.8 L461.6,103.4 L461.7,104.1 L461.7,105.0 L461.8,106.0 L461.9,107.1 L462.0,108.2 L462.0,109.4 L462.1,110.5 L462.2,111.6 L462.3,112.6 L462.3,113.6 L462.4,114.3 L462.5,114.9 L462.5,115.9 L462.4,116.5 L462.3,117.2 L462.3,118.2 L462.2,119.2 L462.1,120.3 L462.0,121.4 L462.0,122.6 L461.9,123.7 L461.8,124.8 L461.7,125.8 L461.7,126.7 L461.6,127.4 L461.3,128.0 L461.0,128.5 L460.7,129.0 L460.4,129.5 L460.0,129.8 L459.7,130.2 L459.4,130.4 L459.1,130.6 L458.8,130.8 L458.5,130.9 L458.2,130.9 L457.9,130.9 L457.2,130.8 L456.5,130.6 L455.8,130.4 L455.1,130.0 L454.4,129.7 L453.8,129.2 L453.1,128.8 L452.4,128.3 L451.7,127.8 L451.0,127.3 L450.3,126.9 L449.6,126.4 L449.0,125.9 L448.3,125.5 L447.7,125.0 L447.0,124.4 L446.4,123.9 L445.7,123.4 L445.1,122.8 L444.4,122.3 L443.8,121.8 L443.1,121.3 L442.5,120.8 L441.8,120.4 L441.2,120.0 L440.6,119.6 L440.1,119.2 L439.5,118.8 L438.9,118.5 L438.4,118.1 L437.8,117.8 L437.2,117.5 L436.6,117.2 L436.1,117.0 L435.5,116.8 L434.9,116.6 L433.9,116.5 L433.0,116.3 L432.0,116.3 L431.1,116.2 L430.1,116.2 L429.1,116.2 L428.2,116.2 L427.2,116.3 L426.3,116.3 L425.3,116.3 L424.4,116.4 L423.4,116.4 L422.8,116.4 L422.2,116.5 L421.7,116.5 L421.1,116.6 L420.5,116.6 L419.9,116.7 L419.4,116.8 L418.8,116.8 L418.2,116.9 L417.6,116.9 L417.1,117.0 L416.5,117.0Z" fill="#2E7D16" stroke="#111" stroke-width="1.4" stroke-linejoin="round"/>
<path d="M465.5,134.7 L466.0,134.8 L466.4,135.0 L466.9,135.2 L467.3,135.4 L467.8,135.7 L468.2,135.9 L468.7,136.2 L469.1,136.5 L469.6,136.8 L470.1,137.1 L470.5,137.4 L471.0,137.7 L471.8,138.0 L472.7,138.4 L473.6,138.8 L474.4,139.2 L475.3,139.6 L476.2,140.0 L477.1,140.4 L477.9,140.8 L478.8,141.1 L479.7,141.4 L480.6,141.6 L481.4,141.7 L482.2,141.7 L482.9,141.7 L483.7,141.6 L484.5,141.4 L485.2,141.2 L486.0,141.0 L486.7,140.7 L487.5,140.4 L488.2,140.1 L489.0,139.8 L489.8,139.5 L490.5,139.2 L491.4,138.9 L492.3,138.4 L493.1,138.0 L494.0,137.5 L494.9,137.0 L495.8,136.5 L496.6,136.0 L497.5,135.5 L498.4,135.1 L499.2,134.8 L500.1,134.5 L501.0,134.4 L501.6,134.3 L502.3,134.3 L502.9,134.3 L503.6,134.4 L504.2,134.5 L504.9,134.7 L505.5,135.0 L506.1,135.3 L506.8,135.6 L507.4,136.1 L508.1,136.6 L508.7,137.2 L508.9,137.9 L509.1,138.9 L509.3,139.9 L509.5,141.1 L509.7,142.4 L509.9,143.6 L510.1,144.9 L510.2,146.1 L510.4,147.2 L510.6,148.2 L510.8,149.1 L511.0,149.7 L511.0,150.7 L510.8,151.3 L510.6,152.2 L510.4,153.2 L510.2,154.3 L510.1,155.5 L509.9,156.8 L509.7,158.0 L509.5,159.3 L509.3,160.5 L509.1,161.5 L508.9,162.5 L508.7,163.2 L508.1,163.8 L507.4,164.3 L506.8,164.8 L506.1,165.1 L505.5,165.4 L504.9,165.7 L504.2,165.9 L503.6,166.0 L502.9,166.1 L502.3,166.1 L501.6,166.1 L501.0,166.0 L500.1,165.9 L499.2,165.6 L498.4,165.3 L497.5,164.9 L496.6,164.4 L495.8,163.9 L494.9,163.4 L494.0,162.9 L493.1,162.4 L492.3,162.0 L491.4,161.5 L490.5,161.2 L489.8,160.9 L489.0,160.6 L488.2,160.3 L487.5,160.0 L486.7,159.7 L486.0,159.4 L485.2,159.2 L484.5,159.0 L483.7,158.8 L482.9,158.7 L482.2,158.7 L481.4,158.7 L480.6,158.8 L479.7,159.0 L478.8,159.3 L477.9,159.6 L477.1,160.0 L476.2,160.4 L475.3,160.8 L474.4,161.2 L473.6,161.6 L472.7,162.0 L471.8,162.4 L471.0,162.7 L470.5,163.0 L470.1,163.3 L469.6,163.6 L469.1,163.9 L468.7,164.2 L468.2,164.4 L467.8,164.7 L467.3,165.0 L466.9,165.2 L466.4,165.4 L466.0,165.6 L465.5,165.7Z" fill="#22BFC3" stroke="#111" stroke-width="1.4" stroke-linejoin="round"/>
<path d="M515.0,100.6 L515.1,100.7 L515.2,100.8 L515.3,100.8 L515.4,100.9 L515.5,101.0 L515.5,101.2 L515.6,101.3 L515.7,101.5 L515.8,101.7 L515.9,102.0 L516.0,102.3 L516.1,102.6 L516.2,103.0 L516.3,103.5 L516.4,104.1 L516.4,104.7 L516.5,105.3 L516.6,106.0 L516.7,106.7 L516.8,107.3 L516.9,108.0 L517.0,108.6 L517.1,109.1 L517.2,109.6 L517.3,110.0 L517.4,110.4 L517.5,110.8 L517.6,111.1 L517.8,111.4 L517.9,111.7 L518.0,111.9 L518.1,112.2 L518.2,112.4 L518.4,112.6 L518.5,112.8 L518.6,113.0 L519.2,113.2 L519.8,113.3 L520.4,113.4 L521.0,113.5 L521.6,113.5 L522.2,113.6 L522.8,113.6 L523.4,113.6 L524.0,113.7 L524.6,113.7 L525.2,113.7 L525.8,113.8 L526.1,113.9 L526.4,113.9 L526.7,114.0 L527.0,114.1 L527.3,114.2 L527.6,114.3 L527.9,114.4 L528.2,114.4 L528.5,114.5 L528.8,114.5 L529.1,114.6 L529.4,114.6 L529.9,114.6 L530.3,114.6 L530.8,114.5 L531.2,114.5 L531.6,114.4 L532.1,114.3 L532.5,114.2 L533.0,114.2 L533.5,114.1 L533.9,114.1 L534.4,114.0 L534.8,114.0 L535.4,114.0 L536.0,114.0 L536.6,114.0 L537.2,114.1 L537.8,114.1 L538.4,114.1 L539.0,114.2 L539.6,114.2 L540.2,114.3 L540.8,114.3 L541.4,114.4 L542.0,114.4 L542.5,114.4 L542.9,114.4 L543.4,114.5 L543.8,114.5 L544.2,114.5 L544.7,114.5 L545.1,114.5 L545.6,114.5 L546.0,114.5 L546.5,114.6 L547.0,114.6 L547.4,114.6 L547.7,114.6 L548.0,114.7 L548.3,114.7 L548.6,114.8 L548.9,114.8 L549.2,114.9 L549.5,114.9 L549.8,115.0 L550.1,115.0 L550.4,115.0 L550.7,115.1 L551.0,115.1 L551.0,116.1 L550.7,116.1 L550.4,116.2 L550.1,116.2 L549.8,116.2 L549.5,116.3 L549.2,116.3 L548.9,116.4 L548.6,116.4 L548.3,116.5 L548.0,116.5 L547.7,116.6 L547.4,116.6 L547.0,116.6 L546.5,116.6 L546.0,116.7 L545.6,116.7 L545.1,116.7 L544.7,116.7 L544.2,116.7 L543.8,116.7 L543.4,116.7 L542.9,116.8 L542.5,116.8 L542.0,116.8 L541.4,116.8 L540.8,116.9 L540.2,116.9 L539.6,117.0 L539.0,117.0 L538.4,117.0 L537.8,117.1 L537.2,117.1 L536.6,117.2 L536.0,117.2 L535.4,117.2 L534.8,117.2 L534.4,117.2 L533.9,117.1 L533.5,117.1 L533.0,117.0 L532.5,116.9 L532.1,116.9 L531.6,116.8 L531.2,116.7 L530.8,116.7 L530.3,116.6 L529.9,116.6 L529.4,116.6 L529.1,116.6 L528.8,116.7 L528.5,116.7 L528.2,116.8 L527.9,116.8 L527.6,116.9 L527.3,117.0 L527.0,117.1 L526.7,117.2 L526.4,117.3 L526.1,117.3 L525.8,117.4 L525.2,117.5 L524.6,117.5 L524.0,117.5 L523.4,117.6 L522.8,117.6 L522.2,117.6 L521.6,117.7 L521.0,117.7 L520.4,117.8 L519.8,117.9 L519.2,118.0 L518.6,118.2 L518.5,118.4 L518.4,118.6 L518.2,118.8 L518.1,119.0 L518.0,119.3 L517.9,119.5 L517.8,119.8 L517.6,120.1 L517.5,120.4 L517.4,120.8 L517.3,121.2 L517.2,121.6 L517.1,122.1 L517.0,122.6 L516.9,123.2 L516.8,123.9 L516.7,124.5 L516.6,125.2 L516.5,125.9 L516.4,126.5 L516.4,127.1 L516.3,127.7 L516.2,128.2 L516.1,128.6 L516.0,128.9 L515.9,129.2 L515.8,129.5 L515.7,129.7 L515.6,129.9 L515.5,130.0 L515.5,130.2 L515.4,130.3 L515.3,130.4 L515.2,130.4 L515.1,130.5 L515.0,130.6Z" fill="#2E7D16" stroke="#151515" stroke-width="1.4" stroke-linejoin="round"/>
<path d="M515.0,179.0 L515.2,179.1 L515.5,179.2 L515.7,179.3 L515.9,179.5 L516.1,179.7 L516.4,179.8 L516.6,180.0 L516.8,180.2 L517.0,180.4 L517.2,180.6 L517.5,180.8 L517.7,181.0 L518.2,181.2 L518.8,181.5 L519.3,181.7 L519.8,182.0 L520.3,182.3 L520.9,182.6 L521.4,182.9 L521.9,183.1 L522.4,183.3 L523.0,183.5 L523.5,183.6 L524.0,183.7 L524.8,183.7 L525.5,183.7 L526.2,183.7 L527.0,183.6 L527.8,183.5 L528.5,183.4 L529.2,183.3 L530.0,183.1 L530.8,182.9 L531.5,182.6 L532.2,182.3 L533.0,182.0 L533.8,181.6 L534.5,181.2 L535.2,180.7 L536.0,180.2 L536.8,179.6 L537.5,179.0 L538.2,178.4 L539.0,177.8 L539.8,177.2 L540.5,176.6 L541.2,176.0 L542.0,175.5 L542.5,175.0 L542.9,174.4 L543.4,173.8 L543.8,173.1 L544.2,172.5 L544.7,171.9 L545.1,171.4 L545.6,170.9 L546.0,170.5 L546.5,170.2 L547.0,170.0 L547.4,170.0 L547.9,170.1 L548.5,170.4 L549.0,170.8 L549.5,171.3 L550.0,171.9 L550.5,172.6 L551.1,173.3 L551.6,174.1 L552.1,174.8 L552.6,175.6 L553.2,176.3 L553.7,177.0 L554.2,177.7 L554.8,178.4 L555.3,179.2 L555.8,180.1 L556.3,180.9 L556.9,181.7 L557.4,182.5 L557.9,183.3 L558.4,184.0 L559.0,184.6 L559.5,185.2 L560.0,185.6 L560.0,186.4 L559.5,186.8 L559.0,187.4 L558.4,188.0 L557.9,188.7 L557.4,189.5 L556.9,190.3 L556.3,191.1 L555.8,191.9 L555.3,192.8 L554.8,193.6 L554.2,194.3 L553.7,195.0 L553.2,195.7 L552.6,196.4 L552.1,197.2 L551.6,197.9 L551.1,198.7 L550.5,199.4 L550.0,200.1 L549.5,200.7 L549.0,201.2 L548.5,201.6 L547.9,201.9 L547.4,202.0 L547.0,202.0 L546.5,201.8 L546.0,201.5 L545.6,201.1 L545.1,200.6 L544.7,200.1 L544.2,199.5 L543.8,198.9 L543.4,198.2 L542.9,197.6 L542.5,197.0 L542.0,196.5 L541.2,196.0 L540.5,195.4 L539.8,194.8 L539.0,194.2 L538.2,193.6 L537.5,193.0 L536.8,192.4 L536.0,191.8 L535.2,191.3 L534.5,190.8 L533.8,190.4 L533.0,190.0 L532.2,189.7 L531.5,189.4 L530.8,189.1 L530.0,188.9 L529.2,188.7 L528.5,188.6 L527.8,188.5 L527.0,188.4 L526.2,188.3 L525.5,188.3 L524.8,188.3 L524.0,188.3 L523.5,188.4 L523.0,188.5 L522.4,188.7 L521.9,188.9 L521.4,189.1 L520.9,189.4 L520.3,189.7 L519.8,190.0 L519.3,190.3 L518.8,190.5 L518.2,190.8 L517.7,191.0 L517.5,191.2 L517.2,191.4 L517.0,191.6 L516.8,191.8 L516.6,192.0 L516.4,192.2 L516.1,192.3 L515.9,192.5 L515.7,192.7 L515.5,192.8 L515.2,192.9 L515.0,193.0Z" fill="#5E44A2" stroke="#111" stroke-width="1.4" stroke-linejoin="round"/>
<path d="M562.5,205.7 L563.0,205.8 L563.4,205.8 L563.9,205.9 L564.3,205.9 L564.8,206.0 L565.3,206.1 L565.7,206.2 L566.2,206.3 L566.6,206.5 L567.1,206.7 L567.6,206.9 L568.0,207.2 L568.7,207.6 L569.4,208.0 L570.1,208.5 L570.8,209.1 L571.5,209.7 L572.2,210.3 L572.9,210.9 L573.5,211.5 L574.2,211.9 L574.9,212.3 L575.6,212.6 L576.3,212.7 L577.1,212.7 L577.8,212.5 L578.6,212.3 L579.4,211.9 L580.1,211.5 L580.9,211.0 L581.7,210.5 L582.4,210.0 L583.2,209.5 L584.0,209.0 L584.7,208.6 L585.5,208.2 L586.1,207.8 L586.6,207.4 L587.2,207.0 L587.8,206.5 L588.4,206.0 L589.0,205.6 L589.5,205.2 L590.1,204.8 L590.7,204.6 L591.2,204.3 L591.8,204.2 L592.4,204.2 L593.0,204.3 L593.5,204.4 L594.1,204.7 L594.7,205.0 L595.3,205.4 L595.9,205.8 L596.4,206.3 L597.0,206.8 L597.6,207.4 L598.1,207.9 L598.7,208.6 L599.3,209.2 L600.1,209.9 L600.8,210.8 L601.6,211.7 L602.4,212.7 L603.1,213.7 L603.9,214.8 L604.7,215.8 L605.4,216.8 L606.2,217.7 L607.0,218.5 L607.7,219.2 L608.5,219.7 L608.5,220.7 L607.7,221.2 L607.0,221.9 L606.2,222.7 L605.4,223.6 L604.7,224.6 L603.9,225.6 L603.1,226.7 L602.4,227.7 L601.6,228.7 L600.8,229.6 L600.1,230.5 L599.3,231.2 L598.7,231.8 L598.1,232.5 L597.6,233.0 L597.0,233.6 L596.4,234.1 L595.9,234.6 L595.3,235.0 L594.7,235.4 L594.1,235.7 L593.5,236.0 L593.0,236.1 L592.4,236.2 L591.8,236.2 L591.2,236.1 L590.7,235.8 L590.1,235.6 L589.5,235.2 L589.0,234.8 L588.4,234.4 L587.8,233.9 L587.2,233.4 L586.6,233.0 L586.1,232.6 L585.5,232.2 L584.7,231.8 L584.0,231.4 L583.2,230.9 L582.4,230.4 L581.7,229.9 L580.9,229.4 L580.1,228.9 L579.4,228.5 L578.6,228.1 L577.8,227.9 L577.1,227.7 L576.3,227.7 L575.6,227.8 L574.9,228.1 L574.2,228.5 L573.5,228.9 L572.9,229.5 L572.2,230.1 L571.5,230.7 L570.8,231.3 L570.1,231.9 L569.4,232.4 L568.7,232.8 L568.0,233.2 L567.6,233.5 L567.1,233.7 L566.6,233.9 L566.2,234.1 L565.7,234.2 L565.3,234.3 L564.8,234.4 L564.3,234.5 L563.9,234.5 L563.4,234.6 L563.0,234.6 L562.5,234.7Z" fill="#CC48CC" stroke="#111" stroke-width="1.4" stroke-linejoin="round"/>
<rect x="318.5" y="28.0" width="291.5" height="213.0" fill="none" stroke="#000" stroke-width="1.7"/>
<line x1="366.5" y1="28.0" x2="366.5" y2="241.0" stroke="#000" stroke-width="1.5"/>
<line x1="415.5" y1="28.0" x2="415.5" y2="241.0" stroke="#000" stroke-width="1.5"/>
<line x1="464.0" y1="28.0" x2="464.0" y2="241.0" stroke="#000" stroke-width="1.5"/>
<line x1="512.6" y1="28.0" x2="512.6" y2="241.0" stroke="#000" stroke-width="1.5"/>
<line x1="561.0" y1="28.0" x2="561.0" y2="241.0" stroke="#000" stroke-width="1.5"/>
<text transform="translate(352.5,256.5) rotate(-45)" font-size="17" fill="#111" text-anchor="end" font-family="Liberation Sans, sans-serif">SPP1</text>
<text transform="translate(406.5,250.5) rotate(-45)" font-size="17" fill="#111" text-anchor="end" font-family="Liberation Sans, sans-serif">PECAM1</text>
<text transform="translate(448,259) rotate(-45)" font-size="17" fill="#111" text-anchor="end" font-family="Liberation Sans, sans-serif">DCN</text>
<text transform="translate(495,260) rotate(-45)" font-size="17" fill="#111" text-anchor="end" font-family="Liberation Sans, sans-serif">LYZ</text>
<text transform="translate(550,255) rotate(-45)" font-size="17" fill="#111" text-anchor="end" font-family="Liberation Sans, sans-serif">KRT10</text>
<text transform="translate(598,257) rotate(-45)" font-size="17" fill="#111" text-anchor="end" font-family="Liberation Sans, sans-serif">CD3G</text>
<rect x="619.8" y="36.8" width="24.4" height="24.2" fill="#CE9C0E" stroke="#7A5C06" stroke-width="1.3"/>
<text x="632.1" y="54.8" font-size="16.6" fill="#FFFBEF" stroke="#FFFBEF" stroke-width="0.45" text-anchor="middle" font-family="Liberation Sans, sans-serif">1</text>
<text x="649.73" y="54.9" font-size="16.0" fill="#1a1a1a" textLength="126.18" lengthAdjust="spacingAndGlyphs" font-family="Liberation Sans, sans-serif" >Tubular (n = 242)</text>
<rect x="619.8" y="71.2" width="24.4" height="24.2" fill="#AE310F" stroke="#661C08" stroke-width="1.3"/>
<text x="632.1" y="89.2" font-size="16.6" fill="#FFFBEF" stroke="#FFFBEF" stroke-width="0.45" text-anchor="middle" font-family="Liberation Sans, sans-serif">2</text>
<text x="649.34" y="89.3" font-size="16.0" fill="#1a1a1a" textLength="134.12" lengthAdjust="spacingAndGlyphs" font-family="Liberation Sans, sans-serif" >Endothelial (n = 45)</text>
<rect x="619.8" y="105.0" width="24.4" height="24.2" fill="#2E7C16" stroke="#1A480C" stroke-width="1.3"/>
<text x="632.1" y="123.0" font-size="16.6" fill="#FFFBEF" stroke="#FFFBEF" stroke-width="0.45" text-anchor="middle" font-family="Liberation Sans, sans-serif">3</text>
<text x="649.55" y="123.1" font-size="16.0" fill="#1a1a1a" textLength="143.17" lengthAdjust="spacingAndGlyphs" font-family="Liberation Sans, sans-serif" >Fibroblast (n = 177)</text>
<rect x="619.8" y="138.6" width="24.4" height="24.2" fill="#22BDBF" stroke="#127172" stroke-width="1.3"/>
<text x="632.1" y="156.6" font-size="16.6" fill="#FFFBEF" stroke="#FFFBEF" stroke-width="0.45" text-anchor="middle" font-family="Liberation Sans, sans-serif">4</text>
<text x="648.74" y="156.7" font-size="16.0" fill="#1a1a1a" textLength="119.39" lengthAdjust="spacingAndGlyphs" font-family="Liberation Sans, sans-serif" >Myeloid (n = 43)</text>
<rect x="619.8" y="172.1" width="24.4" height="24.2" fill="#5D44A0" stroke="#392966" stroke-width="1.3"/>
<text x="632.1" y="190.1" font-size="16.6" fill="#FFFBEF" stroke="#FFFBEF" stroke-width="0.45" text-anchor="middle" font-family="Liberation Sans, sans-serif">5</text>
<text x="649.25" y="190.2" font-size="16.0" fill="#1a1a1a" textLength="162.17" lengthAdjust="spacingAndGlyphs" font-family="Liberation Sans, sans-serif" >Keratinocyte (n = 329)</text>
<rect x="619.8" y="207.4" width="24.4" height="24.2" fill="#C847C9" stroke="#772A78" stroke-width="1.3"/>
<text x="632.1" y="225.4" font-size="16.6" fill="#FFFBEF" stroke="#FFFBEF" stroke-width="0.45" text-anchor="middle" font-family="Liberation Sans, sans-serif">6</text>
<text x="650.23" y="225.5" font-size="16.0" fill="#1a1a1a" textLength="105.30" lengthAdjust="spacingAndGlyphs" font-family="Liberation Sans, sans-serif" >T Cell (n = 63)</text>
<line x1="306" y1="299.5" x2="820" y2="299.5" stroke="#F7F4E6" stroke-width="1.2"/>
<rect x="81.5" y="310.5" width="573" height="435" fill="none" stroke="#7f7f7f" stroke-width="1.1"/>
<text x="83.6" y="326.6" font-size="18.6" font-weight="bold" fill="#000" font-family="Liberation Sans, sans-serif">A</text>
<g font-size="6.35" font-weight="bold" fill="#111" stroke="#111" stroke-width="0.2" font-family="Liberation Sans, sans-serif"><text transform="translate(89.60,382) rotate(-90) scale(1,0.92)">AT2_E18_C72</text><text transform="translate(96.70,382) rotate(-90) scale(1,0.92)">AT2_E18_C81</text><text transform="translate(103.80,382) rotate(-90) scale(1,0.92)">AT2_E18_C82</text><text transform="translate(110.90,382) rotate(-90) scale(1,0.92)">BP_E18_C80</text><text transform="translate(118.00,382) rotate(-90) scale(1,0.92)">BP_E18_C09</text><text transform="translate(125.10,382) rotate(-90) scale(1,0.92)">AT2_E18_C23</text><text transform="translate(132.20,382) rotate(-90) scale(1,0.92)">AT2_E18_C26</text><text transform="translate(139.30,382) rotate(-90) scale(1,0.92)">AT2_E18_C11</text><text transform="translate(146.40,382) rotate(-90) scale(1,0.92)">AT2_E18_C08</text><text transform="translate(153.50,382) rotate(-90) scale(1,0.92)">AT2_E18_C41</text><text transform="translate(160.60,382) rotate(-90) scale(1,0.92)">AT2_E18_C13</text><text transform="translate(167.70,382) rotate(-90) scale(1,0.92)">BP_E18_C48</text><text transform="translate(174.80,382) rotate(-90) scale(1,0.92)">AT1_E18_C37</text><text transform="translate(181.90,382) rotate(-90) scale(1,0.92)">AT1_E18_C45</text><text transform="translate(189.00,382) rotate(-90) scale(1,0.92)">AT1_E18_C90</text><text transform="translate(196.10,382) rotate(-90) scale(1,0.92)">AT1_E18_C06</text><text transform="translate(203.20,382) rotate(-90) scale(1,0.92)">AT1_E18_C59</text><text transform="translate(210.30,382) rotate(-90) scale(1,0.92)">AT1_E18_C61</text><text transform="translate(217.40,382) rotate(-90) scale(1,0.92)">AT1_E18_C28</text><text transform="translate(224.50,382) rotate(-90) scale(1,0.92)">AT1_E18_C87</text><text transform="translate(231.60,382) rotate(-90) scale(1,0.92)">AT1_E18_C50</text><text transform="translate(238.70,382) rotate(-90) scale(1,0.92)">AT1_E18_C67</text><text transform="translate(245.80,382) rotate(-90) scale(1,0.92)">AT1_E18_C34</text><text transform="translate(252.90,382) rotate(-90) scale(1,0.92)">AT1_E18_C55</text><text transform="translate(260.00,382) rotate(-90) scale(1,0.92)">AT1_E18_C09</text><text transform="translate(267.10,382) rotate(-90) scale(1,0.92)">AT1_E18_C47</text><text transform="translate(274.20,382) rotate(-90) scale(1,0.92)">AT1_E18_C37</text><text transform="translate(281.30,382) rotate(-90) scale(1,0.92)">AT1_E18_C60</text><text transform="translate(288.40,382) rotate(-90) scale(1,0.92)">D 7</text><text transform="translate(295.50,382) rotate(-90) scale(1,0.92)">AT1_E18_C84</text><text transform="translate(302.60,382) rotate(-90) scale(1,0.92)">AT1_E18_C13</text><text transform="translate(309.70,382) rotate(-90) scale(1,0.92)">AT1_E18_C26</text><text transform="translate(316.80,382) rotate(-90) scale(1,0.92)">AT1_E18_C22</text><text transform="translate(323.90,382) rotate(-90) scale(1,0.92)">AT1_E18_C38</text><text transform="translate(331.00,382) rotate(-90) scale(1,0.92)">AT1_E18_C73</text><text transform="translate(338.10,382) rotate(-90) scale(1,0.92)">AT1_E18_C34</text><text transform="translate(345.20,382) rotate(-90) scale(1,0.92)">AT1_E18_C38</text><text transform="translate(352.30,382) rotate(-90) scale(1,0.92)">AT1_E18_C61</text><text transform="translate(359.40,382) rotate(-90) scale(1,0.92)">AT1_E18_C92</text><text transform="translate(366.50,382) rotate(-90) scale(1,0.92)">AT1_E18_C65</text><text transform="translate(373.60,382) rotate(-90) scale(1,0.92)">AT1_E18_C63</text><text transform="translate(380.70,382) rotate(-90) scale(1,0.92)">AT1_E18_C69</text><text transform="translate(387.80,382) rotate(-90) scale(1,0.92)">AT2_E18_C11</text><text transform="translate(394.90,382) rotate(-90) scale(1,0.92)">AT1_E18_C06</text><text transform="translate(402.00,382) rotate(-90) scale(1,0.92)">AT2_E18_C44</text><text transform="translate(409.10,382) rotate(-90) scale(1,0.92)">BP_E18_C49</text><text transform="translate(416.20,382) rotate(-90) scale(1,0.92)">BP_E18_C10</text><text transform="translate(423.30,382) rotate(-90) scale(1,0.92)">BP_E18_C29</text><text transform="translate(430.40,382) rotate(-90) scale(1,0.92)">BP_E18_C32</text><text transform="translate(437.50,382) rotate(-90) scale(1,0.92)">BP_E18_C33</text><text transform="translate(444.60,382) rotate(-90) scale(1,0.92)">D 4</text><text transform="translate(451.70,382) rotate(-90) scale(1,0.92)">BP_E18_C30</text><text transform="translate(458.80,382) rotate(-90) scale(1,0.92)">AT1_E18_C12</text><text transform="translate(465.90,382) rotate(-90) scale(1,0.92)">BP_E18_C36</text><text transform="translate(473.00,382) rotate(-90) scale(1,0.92)">AT1_E18_C50</text><text transform="translate(480.10,382) rotate(-90) scale(1,0.92)">BP_E18_C87</text><text transform="translate(487.20,382) rotate(-90) scale(1,0.92)">AT1_E18_C74</text><text transform="translate(494.30,382) rotate(-90) scale(1,0.92)">BP_E18_C15</text><text transform="translate(501.40,382) rotate(-90) scale(1,0.92)">BP_E18_C07</text><text transform="translate(508.50,382) rotate(-90) scale(1,0.92)">AT1_E18_C31</text><text transform="translate(515.60,382) rotate(-90) scale(1,0.92)">AT1_E18_C42</text><text transform="translate(522.70,382) rotate(-90) scale(1,0.92)">AT1_E18_C44</text><text transform="translate(529.80,382) rotate(-90) scale(1,0.92)">AT1_E18_C88</text><text transform="translate(536.90,382) rotate(-90) scale(1,0.92)">AT1_E18_C35</text><text transform="translate(544.00,382) rotate(-90) scale(1,0.92)">AT1_E18_C20</text><text transform="translate(551.10,382) rotate(-90) scale(1,0.92)">AT1_E18_C59</text><text transform="translate(558.20,382) rotate(-90) scale(1,0.92)">AT1_E18_C43</text><text transform="translate(565.30,382) rotate(-90) scale(1,0.92)">AT1_E18_C90</text><text transform="translate(572.40,382) rotate(-90) scale(1,0.92)">D 0</text><text transform="translate(579.50,382) rotate(-90) scale(1,0.92)">club_E18_C77</text><text transform="translate(586.60,382) rotate(-90) scale(1,0.92)">club_E18_C15</text><text transform="translate(593.70,382) rotate(-90) scale(1,0.92)">club_E18_C15</text><text transform="translate(600.80,382) rotate(-90) scale(1,0.92)">club_E18_C40</text><text transform="translate(607.90,382) rotate(-90) scale(1,0.92)">club_E18_C36</text><text transform="translate(615.00,382) rotate(-90) scale(1,0.92)">club_E18_C53</text><text transform="translate(622.10,382) rotate(-90) scale(1,0.92)">club_E18_C18</text><text transform="translate(629.20,382) rotate(-90) scale(1,0.92)">club_E18_C46</text><text transform="translate(636.30,382) rotate(-90) scale(1,0.92)">club_E18_C47</text><text transform="translate(643.40,382) rotate(-90) scale(1,0.92)">club_E18_C53</text><text transform="translate(650.50,382) rotate(-90) scale(1,0.92)">club_E18_C62</text></g>
<path d="M90.5 421.0V419.3M97.6 421.0V419.3M90.5 419.3H97.6M94.0 419.3V417.0M104.6 421.0V417.0M94.0 417.0H104.6M118.8 421.0V420.2M125.8 421.0V420.2M118.8 420.2H125.8M122.3 420.2V419.2M132.9 421.0V419.2M122.3 419.2H132.9M111.7 421.0V417.0M127.6 419.2V417.0M111.7 417.0H127.6M154.1 421.0V419.9M161.2 421.0V419.9M154.1 419.9H161.2M147.1 421.0V418.9M157.7 419.9V418.9M147.1 418.9H157.7M140.0 421.0V417.4M152.4 418.9V417.4M140.0 417.4H152.4M119.7 417.0V413.5M146.2 417.4V413.5M119.7 413.5H146.2M99.3 417.0V412.2M132.9 413.5V412.2M99.3 412.2H132.9M175.3 421.0V418.2M182.4 421.0V418.2M175.3 418.2H182.4M168.3 421.0V416.5M178.9 418.2V416.5M168.3 416.5H178.9M116.1 412.2V410.6M173.6 416.5V410.6M116.1 410.6H173.6M246.0 421.0V418.5M253.1 421.0V418.5M246.0 418.5H253.1M249.6 418.5V415.5M260.2 421.0V415.5M249.6 415.5H260.2M274.3 421.0V413.9M281.4 421.0V413.9M274.3 413.9H281.4M267.2 421.0V412.6M277.9 413.9V412.6M267.2 412.6H277.9M272.6 412.6V411.5M288.5 421.0V411.5M272.6 411.5H288.5M254.9 415.5V409.5M280.5 411.5V409.5M254.9 409.5H280.5M224.8 421.0V419.0M231.9 421.0V419.0M224.8 419.0H231.9M228.4 419.0V417.7M239.0 421.0V417.7M228.4 417.7H239.0M217.8 421.0V414.0M233.7 417.7V414.0M217.8 414.0H233.7M225.7 414.0V408.3M267.7 409.5V408.3M225.7 408.3H267.7M203.6 421.0V417.0M210.7 421.0V417.0M203.6 417.0H210.7M207.2 417.0V407.2M246.7 408.3V407.2M207.2 407.2H246.7M189.5 421.0V418.0M196.6 421.0V418.0M189.5 418.0H196.6M193.0 418.0V406.3M226.9 407.2V406.3M193.0 406.3H226.9M359.2 421.0V415.5M366.2 421.0V415.5M359.2 415.5H366.2M362.7 415.5V414.5M373.3 421.0V414.5M362.7 414.5H373.3M380.4 421.0V417.3M387.4 421.0V417.3M380.4 417.3H387.4M394.5 421.0V415.6M401.6 421.0V415.6M394.5 415.6H401.6M383.9 417.3V412.0M398.0 415.6V412.0M383.9 412.0H398.0M368.0 414.5V409.8M391.0 412.0V409.8M368.0 409.8H391.0M330.9 421.0V417.7M338.0 421.0V417.7M330.9 417.7H338.0M345.0 421.0V415.8M352.1 421.0V415.8M345.0 415.8H352.1M334.4 417.7V411.0M348.6 415.8V411.0M334.4 411.0H348.6M341.5 411.0V408.2M379.5 409.8V408.2M341.5 408.2H379.5M302.6 421.0V415.9M309.7 421.0V415.9M302.6 415.9H309.7M316.7 421.0V419.3M323.8 421.0V419.3M316.7 419.3H323.8M306.1 415.9V412.6M320.3 419.3V412.6M306.1 412.6H320.3M295.5 421.0V409.5M313.2 412.6V409.5M295.5 409.5H313.2M304.4 409.5V406.3M360.5 408.2V406.3M304.4 406.3H360.5M210.0 406.3V404.4M332.4 406.3V404.4M210.0 404.4H332.4M415.7 421.0V419.2M422.8 421.0V419.2M415.7 419.2H422.8M408.7 421.0V415.0M419.3 419.2V415.0M408.7 415.0H419.3M429.9 421.0V419.4M436.9 421.0V419.4M429.9 419.4H436.9M444.0 421.0V420.2M451.1 421.0V420.2M444.0 420.2H451.1M458.1 421.0V420.2M465.2 421.0V420.2M458.1 420.2H465.2M447.5 420.2V419.2M461.7 420.2V419.2M447.5 419.2H461.7M433.4 419.4V418.1M454.6 419.2V418.1M433.4 418.1H454.6M472.3 421.0V417.4M479.4 421.0V417.4M472.3 417.4H479.4M444.0 418.1V416.3M475.8 417.4V416.3M444.0 416.3H475.8M459.9 416.3V413.8M486.4 421.0V413.8M459.9 413.8H486.4M414.0 415.0V412.3M473.2 413.8V412.3M414.0 412.3H473.2M500.6 421.0V416.5M507.6 421.0V416.5M500.6 416.5H507.6M493.5 421.0V415.5M504.1 416.5V415.5M493.5 415.5H504.1M521.8 421.0V421.6M528.8 421.0V421.6M521.8 421.6H528.8M525.3 421.6V420.6M535.9 421.0V420.6M525.3 420.6H535.9M514.7 421.0V419.6M530.6 420.6V419.6M514.7 419.6H530.6M543.0 421.0V419.6M550.0 421.0V419.6M543.0 419.6H550.0M522.7 419.6V418.6M546.5 419.6V418.6M522.7 418.6H546.5M534.6 418.6V416.5M557.1 421.0V416.5M534.6 416.5H557.1M545.9 416.5V413.5M564.2 421.0V413.5M545.9 413.5H564.2M498.8 415.5V412.3M555.0 413.5V412.3M498.8 412.3H555.0M443.6 412.3V409.8M526.9 412.3V409.8M443.6 409.8H526.9M599.5 421.0V419.5M606.6 421.0V419.5M599.5 419.5H606.6M603.1 419.5V416.6M613.7 421.0V416.6M603.1 416.6H613.7M592.5 421.0V414.5M608.4 416.6V414.5M592.5 414.5H608.4M620.8 421.0V415.8M627.8 421.0V415.8M620.8 415.8H627.8M642.0 421.0V420.5M649.0 421.0V420.5M642.0 420.5H649.0M634.9 421.0V419.5M645.5 420.5V419.5M634.9 419.5H645.5M624.3 415.8V414.0M640.2 419.5V414.0M624.3 414.0H640.2M600.4 414.5V413.2M632.2 414.0V413.2M600.4 413.2H632.2M585.4 421.0V411.5M616.3 413.2V411.5M585.4 411.5H616.3M571.3 421.0V418.0M578.3 421.0V418.0M571.3 418.0H578.3M574.8 418.0V410.3M600.9 411.5V410.3M574.8 410.3H600.9M485.2 409.8V402.9M587.8 410.3V402.9M485.2 402.9H587.8M271.2 404.4V395.6M536.5 402.9V395.6M271.2 395.6H536.5M144.9 410.6V386.5M403.9 395.6V386.5M144.9 386.5H403.9" stroke="#4A55A6" stroke-width="1.25" fill="none"/>
<rect x="86.6" y="427.1" width="21.95" height="4.6" fill="#BE2A22"/>
<rect x="108.5" y="427.1" width="13.85" height="4.6" fill="#000"/>
<rect x="122.3" y="427.1" width="41.95" height="4.6" fill="#BE2A22"/>
<rect x="164.2" y="427.1" width="8.05" height="4.6" fill="#000"/>
<rect x="172.2" y="427.1" width="210.65" height="4.6" fill="#F8BE8E"/>
<rect x="382.8" y="427.1" width="8.15" height="4.6" fill="#BE2A22"/>
<rect x="390.9" y="427.1" width="8.05" height="4.6" fill="#F8BE8E"/>
<rect x="398.9" y="427.1" width="8.15" height="4.6" fill="#BE2A22"/>
<rect x="407.0" y="427.1" width="47.55" height="4.6" fill="#000"/>
<rect x="454.5" y="427.1" width="7.55" height="4.6" fill="#F8BE8E"/>
<rect x="462.0" y="427.1" width="8.05" height="4.6" fill="#000"/>
<rect x="470.0" y="427.1" width="7.35" height="4.6" fill="#F8BE8E"/>
<rect x="477.3" y="427.1" width="7.25" height="4.6" fill="#000"/>
<rect x="484.5" y="427.1" width="7.05" height="4.6" fill="#F8BE8E"/>
<rect x="491.5" y="427.1" width="11.55" height="4.6" fill="#000"/>
<rect x="503.0" y="427.1" width="66.05" height="4.6" fill="#F8BE8E"/>
<rect x="569.0" y="427.1" width="82.95" height="4.6" fill="#137F96"/>
<path d="M289.1 431.7L290.0 433.2L291.40000000000003 433.6L290.40000000000003 434.9L290.6 436.3L289.1 435.6L287.6 436.3L287.8 434.9L286.8 433.6L288.20000000000005 433.2Z" fill="#D21E3C" stroke="#D21E3C" stroke-width="0.8"/>
<path d="M442.1 433.7L443.0 435.2L444.40000000000003 435.6L443.40000000000003 436.9L443.6 438.3L442.1 437.6L440.6 438.3L440.8 436.9L439.8 435.6L441.20000000000005 435.2Z" fill="#D21E3C" stroke="#D21E3C" stroke-width="0.8"/>
<path d="M570.6 433.0L571.5 434.5L572.9 434.90000000000003L571.9 436.2L572.1 437.6L570.6 436.90000000000003L569.1 437.6L569.3000000000001 436.2L568.3000000000001 434.90000000000003L569.7 434.5Z" fill="#D21E3C" stroke="#D21E3C" stroke-width="0.8"/>
<text x="93.6" y="466.2" font-size="18.6" font-weight="bold" fill="#000" font-family="Liberation Sans, sans-serif">B</text>
<text x="145.0" y="485.2" font-size="11.2" font-weight="bold" fill="#000" font-family="Liberation Sans, sans-serif">BP</text>
<text x="203.6" y="485.2" font-size="11.2" font-weight="bold" fill="#000" font-family="Liberation Sans, sans-serif">AT1</text>
<text x="273.4" y="485.2" font-size="11.2" font-weight="bold" fill="#000" font-family="Liberation Sans, sans-serif">AT2</text>
<text x="297.2" y="485.2" font-size="11.2" font-weight="bold" fill="#000" font-family="Liberation Sans, sans-serif">Club</text>
<rect x="144.9" y="490.2" width="30.00" height="4.4" fill="#000"/>
<rect x="174.9" y="490.2" width="96.80" height="4.4" fill="#F8BE8E"/>
<rect x="271.7" y="490.2" width="24.40" height="4.4" fill="#A3333A"/>
<rect x="296.1" y="490.2" width="23.20" height="4.4" fill="#1A8298"/>
<path d="M145.2 497.4h2.26v2.29h-2.26zM154.2 497.4h2.26v2.29h-2.26zM158.8 497.4h2.26v2.29h-2.26zM172.3 497.4h2.26v2.29h-2.26zM176.9 497.4h2.26v2.29h-2.26zM181.4 497.4h2.26v2.29h-2.26zM185.9 497.4h2.26v2.29h-2.26zM190.4 497.4h2.26v2.29h-2.26zM199.5 497.4h2.26v2.29h-2.26zM206.2 497.4h2.26v2.29h-2.26zM210.8 497.4h6.78v2.29h-6.78zM235.6 497.4h2.26v2.29h-2.26zM242.4 497.4h4.52v2.29h-4.52zM249.2 497.4h2.26v2.29h-2.26zM256.0 497.4h6.78v2.29h-6.78zM265.0 497.4h4.52v2.29h-4.52zM276.3 497.4h2.26v2.29h-2.26zM280.9 497.4h6.78v2.29h-6.78zM294.4 497.4h2.26v2.29h-2.26zM305.7 497.4h2.26v2.29h-2.26zM145.2 499.7h2.26v2.29h-2.26zM303.5 499.7h2.26v2.29h-2.26zM206.2 502.0h2.26v2.29h-2.26zM262.8 502.0h2.26v2.29h-2.26zM161.0 504.3h2.26v2.29h-2.26zM188.2 504.3h2.26v2.29h-2.26zM201.7 504.3h2.26v2.29h-2.26zM299.0 504.3h2.26v2.29h-2.26zM317.0 504.3h2.26v2.29h-2.26zM301.2 506.5h2.26v2.29h-2.26zM158.8 508.8h2.26v2.29h-2.26zM199.5 508.8h4.52v2.29h-4.52zM289.9 508.8h2.26v2.29h-2.26zM170.1 511.1h4.52v2.29h-4.52zM242.4 511.1h2.26v2.29h-2.26zM251.5 511.1h2.26v2.29h-2.26zM260.5 511.1h2.26v2.29h-2.26zM271.8 511.1h2.26v2.29h-2.26zM154.2 513.4h2.26v2.29h-2.26zM158.8 513.4h2.26v2.29h-2.26zM219.8 513.4h2.26v2.29h-2.26zM242.4 513.4h2.26v2.29h-2.26zM246.9 513.4h4.52v2.29h-4.52zM256.0 513.4h2.26v2.29h-2.26zM287.6 513.4h2.26v2.29h-2.26zM154.2 515.7h2.26v2.29h-2.26zM158.8 515.7h2.26v2.29h-2.26zM181.4 515.7h2.26v2.29h-2.26zM228.9 515.7h2.26v2.29h-2.26zM253.7 515.7h2.26v2.29h-2.26zM258.3 515.7h2.26v2.29h-2.26zM152.0 518.0h4.52v2.29h-4.52zM276.3 518.0h2.26v2.29h-2.26zM156.5 520.3h2.26v2.29h-2.26zM165.5 520.3h2.26v2.29h-2.26zM185.9 520.3h2.26v2.29h-2.26zM204.0 520.3h2.26v2.29h-2.26zM222.1 520.3h2.26v2.29h-2.26zM303.5 520.3h2.26v2.29h-2.26zM197.2 522.5h2.26v2.29h-2.26zM204.0 522.5h2.26v2.29h-2.26zM256.0 522.5h2.26v2.29h-2.26zM312.5 522.5h2.26v2.29h-2.26zM317.0 522.5h2.26v2.29h-2.26zM149.7 524.8h2.26v2.29h-2.26zM156.5 524.8h2.26v2.29h-2.26zM181.4 524.8h2.26v2.29h-2.26zM190.4 524.8h2.26v2.29h-2.26zM235.6 524.8h2.26v2.29h-2.26zM271.8 524.8h2.26v2.29h-2.26zM312.5 524.8h2.26v2.29h-2.26zM181.4 527.1h2.26v2.29h-2.26zM204.0 527.1h2.26v2.29h-2.26zM246.9 527.1h2.26v2.29h-2.26zM265.0 527.1h2.26v2.29h-2.26zM276.3 527.1h2.26v2.29h-2.26zM287.6 527.1h2.26v2.29h-2.26zM299.0 527.1h2.26v2.29h-2.26zM305.7 527.1h2.26v2.29h-2.26zM192.7 529.4h2.26v2.29h-2.26zM278.6 529.4h2.26v2.29h-2.26zM285.4 529.4h2.26v2.29h-2.26zM299.0 529.4h2.26v2.29h-2.26zM303.5 529.4h2.26v2.29h-2.26zM308.0 529.4h2.26v2.29h-2.26zM158.8 531.7h2.26v2.29h-2.26zM206.2 531.7h2.26v2.29h-2.26zM228.9 531.7h2.26v2.29h-2.26zM240.2 531.7h2.26v2.29h-2.26zM294.4 531.7h2.26v2.29h-2.26zM305.7 531.7h2.26v2.29h-2.26zM310.3 531.7h4.52v2.29h-4.52zM308.0 534.0h4.52v2.29h-4.52zM147.5 536.3h2.26v2.29h-2.26zM152.0 536.3h2.26v2.29h-2.26zM156.5 536.3h2.26v2.29h-2.26zM163.3 536.3h9.04v2.29h-9.04zM176.9 536.3h4.52v2.29h-4.52zM183.6 536.3h15.83v2.29h-15.83zM208.5 536.3h2.26v2.29h-2.26zM222.1 536.3h2.26v2.29h-2.26zM233.4 536.3h2.26v2.29h-2.26zM258.3 536.3h2.26v2.29h-2.26zM271.8 536.3h2.26v2.29h-2.26zM287.6 536.3h6.78v2.29h-6.78zM310.3 536.3h2.26v2.29h-2.26zM174.6 538.5h2.26v2.29h-2.26zM217.6 538.5h2.26v2.29h-2.26zM237.9 538.5h2.26v2.29h-2.26zM265.0 538.5h2.26v2.29h-2.26zM149.7 540.8h2.26v2.29h-2.26zM305.7 540.8h2.26v2.29h-2.26zM179.1 543.1h2.26v2.29h-2.26zM199.5 543.1h2.26v2.29h-2.26zM267.3 543.1h2.26v2.29h-2.26zM280.9 543.1h2.26v2.29h-2.26zM244.7 545.4h2.26v2.29h-2.26zM305.7 545.4h2.26v2.29h-2.26zM314.8 545.4h2.26v2.29h-2.26zM237.9 547.7h2.26v2.29h-2.26zM242.4 547.7h2.26v2.29h-2.26zM299.0 547.7h2.26v2.29h-2.26zM163.3 550.0h2.26v2.29h-2.26zM276.3 550.0h2.26v2.29h-2.26zM285.4 550.0h2.26v2.29h-2.26zM308.0 550.0h4.52v2.29h-4.52zM149.7 552.3h4.52v2.29h-4.52zM158.8 552.3h2.26v2.29h-2.26zM170.1 552.3h2.26v2.29h-2.26zM190.4 552.3h2.26v2.29h-2.26zM208.5 552.3h2.26v2.29h-2.26zM219.8 552.3h2.26v2.29h-2.26zM224.3 552.3h2.26v2.29h-2.26zM242.4 552.3h2.26v2.29h-2.26zM246.9 552.3h4.52v2.29h-4.52zM274.1 552.3h2.26v2.29h-2.26zM285.4 552.3h2.26v2.29h-2.26zM289.9 552.3h2.26v2.29h-2.26zM303.5 552.3h2.26v2.29h-2.26zM145.2 554.5h2.26v2.29h-2.26zM154.2 554.5h2.26v2.29h-2.26zM158.8 554.5h4.52v2.29h-4.52zM165.5 554.5h4.52v2.29h-4.52zM181.4 554.5h2.26v2.29h-2.26zM206.2 554.5h2.26v2.29h-2.26zM213.0 554.5h2.26v2.29h-2.26zM224.3 554.5h2.26v2.29h-2.26zM231.1 554.5h2.26v2.29h-2.26zM253.7 554.5h2.26v2.29h-2.26zM274.1 554.5h2.26v2.29h-2.26zM278.6 554.5h4.52v2.29h-4.52zM287.6 554.5h2.26v2.29h-2.26zM292.2 554.5h2.26v2.29h-2.26zM317.0 554.5h2.26v2.29h-2.26zM183.6 556.8h2.26v2.29h-2.26zM208.5 556.8h2.26v2.29h-2.26zM215.3 556.8h4.52v2.29h-4.52zM237.9 556.8h2.26v2.29h-2.26zM262.8 556.8h2.26v2.29h-2.26zM269.6 556.8h2.26v2.29h-2.26zM292.2 556.8h2.26v2.29h-2.26zM303.5 556.8h2.26v2.29h-2.26zM312.5 556.8h2.26v2.29h-2.26zM154.2 559.1h2.26v2.29h-2.26zM235.6 559.1h2.26v2.29h-2.26zM249.2 559.1h2.26v2.29h-2.26zM289.9 559.1h2.26v2.29h-2.26zM299.0 559.1h2.26v2.29h-2.26zM147.5 561.4h2.26v2.29h-2.26zM233.4 561.4h2.26v2.29h-2.26zM265.0 561.4h2.26v2.29h-2.26zM303.5 561.4h2.26v2.29h-2.26zM249.2 563.7h2.26v2.29h-2.26zM256.0 563.7h2.26v2.29h-2.26zM296.7 563.7h2.26v2.29h-2.26zM305.7 563.7h2.26v2.29h-2.26zM317.0 563.7h2.26v2.29h-2.26zM163.3 566.0h2.26v2.29h-2.26zM231.1 566.0h2.26v2.29h-2.26zM258.3 566.0h2.26v2.29h-2.26zM310.3 566.0h2.26v2.29h-2.26zM147.5 568.3h2.26v2.29h-2.26zM194.9 568.3h2.26v2.29h-2.26zM210.8 568.3h2.26v2.29h-2.26zM244.7 568.3h2.26v2.29h-2.26zM251.5 568.3h2.26v2.29h-2.26zM303.5 568.3h2.26v2.29h-2.26zM310.3 568.3h4.52v2.29h-4.52zM317.0 568.3h2.26v2.29h-2.26zM294.4 570.5h4.52v2.29h-4.52zM312.5 570.5h2.26v2.29h-2.26zM174.6 572.8h2.26v2.29h-2.26zM213.0 572.8h2.26v2.29h-2.26zM217.6 572.8h2.26v2.29h-2.26zM265.0 572.8h2.26v2.29h-2.26zM299.0 572.8h2.26v2.29h-2.26zM308.0 572.8h2.26v2.29h-2.26zM314.8 572.8h2.26v2.29h-2.26zM172.3 575.1h2.26v2.29h-2.26zM179.1 575.1h2.26v2.29h-2.26zM219.8 575.1h2.26v2.29h-2.26zM235.6 575.1h2.26v2.29h-2.26zM242.4 575.1h2.26v2.29h-2.26zM276.3 575.1h2.26v2.29h-2.26zM287.6 575.1h2.26v2.29h-2.26zM296.7 575.1h2.26v2.29h-2.26zM312.5 575.1h2.26v2.29h-2.26zM147.5 577.4h2.26v2.29h-2.26zM154.2 577.4h2.26v2.29h-2.26zM161.0 577.4h6.78v2.29h-6.78zM170.1 577.4h6.78v2.29h-6.78zM194.9 577.4h2.26v2.29h-2.26zM201.7 577.4h2.26v2.29h-2.26zM219.8 577.4h4.52v2.29h-4.52zM246.9 577.4h2.26v2.29h-2.26zM256.0 577.4h2.26v2.29h-2.26zM262.8 577.4h4.52v2.29h-4.52zM289.9 577.4h4.52v2.29h-4.52zM149.7 579.7h2.26v2.29h-2.26zM165.5 579.7h2.26v2.29h-2.26zM179.1 579.7h2.26v2.29h-2.26zM183.6 579.7h2.26v2.29h-2.26zM192.7 579.7h2.26v2.29h-2.26zM204.0 579.7h2.26v2.29h-2.26zM222.1 579.7h4.52v2.29h-4.52zM228.9 579.7h4.52v2.29h-4.52zM235.6 579.7h2.26v2.29h-2.26zM240.2 579.7h2.26v2.29h-2.26zM249.2 579.7h4.52v2.29h-4.52zM260.5 579.7h4.52v2.29h-4.52zM267.3 579.7h2.26v2.29h-2.26zM271.8 579.7h4.52v2.29h-4.52zM278.6 579.7h2.26v2.29h-2.26zM294.4 579.7h2.26v2.29h-2.26zM152.0 582.0h2.26v2.29h-2.26zM156.5 582.0h2.26v2.29h-2.26zM183.6 582.0h4.52v2.29h-4.52zM192.7 582.0h2.26v2.29h-2.26zM197.2 582.0h4.52v2.29h-4.52zM210.8 582.0h2.26v2.29h-2.26zM219.8 582.0h4.52v2.29h-4.52zM226.6 582.0h4.52v2.29h-4.52zM233.4 582.0h2.26v2.29h-2.26zM240.2 582.0h2.26v2.29h-2.26zM256.0 582.0h2.26v2.29h-2.26zM269.6 582.0h2.26v2.29h-2.26zM278.6 582.0h2.26v2.29h-2.26zM285.4 582.0h2.26v2.29h-2.26zM289.9 582.0h2.26v2.29h-2.26zM296.7 582.0h2.26v2.29h-2.26zM308.0 582.0h2.26v2.29h-2.26zM181.4 584.3h2.26v2.29h-2.26zM210.8 584.3h2.26v2.29h-2.26zM249.2 584.3h2.26v2.29h-2.26zM283.1 584.3h2.26v2.29h-2.26zM292.2 584.3h2.26v2.29h-2.26zM308.0 584.3h4.52v2.29h-4.52zM242.4 586.5h2.26v2.29h-2.26zM278.6 586.5h2.26v2.29h-2.26zM296.7 586.5h2.26v2.29h-2.26zM301.2 586.5h2.26v2.29h-2.26zM206.2 588.8h2.26v2.29h-2.26zM217.6 588.8h2.26v2.29h-2.26zM242.4 588.8h2.26v2.29h-2.26zM308.0 588.8h2.26v2.29h-2.26zM172.3 591.1h2.26v2.29h-2.26zM244.7 591.1h2.26v2.29h-2.26zM271.8 591.1h2.26v2.29h-2.26zM296.7 591.1h2.26v2.29h-2.26zM314.8 591.1h4.52v2.29h-4.52zM170.1 593.4h2.26v2.29h-2.26zM188.2 593.4h4.52v2.29h-4.52zM226.6 593.4h2.26v2.29h-2.26zM276.3 593.4h2.26v2.29h-2.26zM292.2 593.4h4.52v2.29h-4.52zM299.0 593.4h2.26v2.29h-2.26zM303.5 593.4h4.52v2.29h-4.52zM310.3 593.4h2.26v2.29h-2.26zM156.5 595.7h2.26v2.29h-2.26zM185.9 595.7h2.26v2.29h-2.26zM249.2 595.7h2.26v2.29h-2.26zM278.6 595.7h2.26v2.29h-2.26zM317.0 595.7h2.26v2.29h-2.26zM154.2 598.0h2.26v2.29h-2.26zM167.8 598.0h2.26v2.29h-2.26zM188.2 598.0h2.26v2.29h-2.26zM258.3 598.0h2.26v2.29h-2.26zM296.7 598.0h2.26v2.29h-2.26zM301.2 598.0h4.52v2.29h-4.52zM174.6 600.3h2.26v2.29h-2.26zM190.4 600.3h2.26v2.29h-2.26zM262.8 600.3h2.26v2.29h-2.26zM274.1 600.3h2.26v2.29h-2.26zM294.4 600.3h2.26v2.29h-2.26zM308.0 600.3h6.78v2.29h-6.78zM172.3 602.5h2.26v2.29h-2.26zM190.4 602.5h2.26v2.29h-2.26zM258.3 602.5h2.26v2.29h-2.26zM274.1 602.5h2.26v2.29h-2.26zM317.0 602.5h2.26v2.29h-2.26zM269.6 604.8h4.52v2.29h-4.52zM276.3 604.8h2.26v2.29h-2.26zM287.6 604.8h2.26v2.29h-2.26zM296.7 604.8h2.26v2.29h-2.26zM308.0 604.8h2.26v2.29h-2.26zM156.5 607.1h2.26v2.29h-2.26zM167.8 607.1h2.26v2.29h-2.26zM183.6 607.1h2.26v2.29h-2.26zM197.2 607.1h2.26v2.29h-2.26zM201.7 607.1h2.26v2.29h-2.26zM206.2 607.1h2.26v2.29h-2.26zM215.3 607.1h2.26v2.29h-2.26zM228.9 607.1h4.52v2.29h-4.52zM249.2 607.1h2.26v2.29h-2.26zM262.8 607.1h2.26v2.29h-2.26zM278.6 607.1h2.26v2.29h-2.26zM289.9 607.1h4.52v2.29h-4.52zM296.7 607.1h2.26v2.29h-2.26zM305.7 607.1h2.26v2.29h-2.26zM317.0 607.1h2.26v2.29h-2.26zM163.3 609.4h2.26v2.26h-2.26zM185.9 609.4h2.26v2.26h-2.26zM194.9 609.4h2.26v2.26h-2.26zM199.5 609.4h2.26v2.26h-2.26zM206.2 609.4h2.26v2.26h-2.26zM222.1 609.4h2.26v2.26h-2.26zM231.1 609.4h2.26v2.26h-2.26zM242.4 609.4h2.26v2.26h-2.26zM246.9 609.4h2.26v2.26h-2.26zM253.7 609.4h4.52v2.26h-4.52zM260.5 609.4h2.26v2.26h-2.26zM269.6 609.4h2.26v2.26h-2.26zM278.6 609.4h2.26v2.26h-2.26zM292.2 609.4h2.26v2.26h-2.26zM296.7 609.4h2.26v2.26h-2.26zM305.7 609.4h4.52v2.26h-4.52zM314.8 609.4h2.26v2.26h-2.26zM165.5 611.7h2.26v2.26h-2.26zM183.6 611.7h2.26v2.26h-2.26zM188.2 611.7h4.52v2.26h-4.52zM201.7 611.7h2.26v2.26h-2.26zM208.5 611.7h2.26v2.26h-2.26zM217.6 611.7h2.26v2.26h-2.26zM224.3 611.7h2.26v2.26h-2.26zM235.6 611.7h2.26v2.26h-2.26zM262.8 611.7h2.26v2.26h-2.26zM267.3 611.7h6.78v2.26h-6.78zM287.6 611.7h2.26v2.26h-2.26zM301.2 611.7h2.26v2.26h-2.26zM308.0 611.7h2.26v2.26h-2.26zM312.5 611.7h4.52v2.26h-4.52zM158.8 613.9h2.26v2.26h-2.26zM176.9 613.9h2.26v2.26h-2.26zM185.9 613.9h2.26v2.26h-2.26zM217.6 613.9h2.26v2.26h-2.26zM222.1 613.9h2.26v2.26h-2.26zM235.6 613.9h2.26v2.26h-2.26zM251.5 613.9h2.26v2.26h-2.26zM256.0 613.9h2.26v2.26h-2.26zM265.0 613.9h2.26v2.26h-2.26zM285.4 613.9h2.26v2.26h-2.26zM308.0 613.9h2.26v2.26h-2.26zM147.5 616.2h4.52v2.26h-4.52zM161.0 616.2h2.26v2.26h-2.26zM165.5 616.2h4.52v2.26h-4.52zM174.6 616.2h2.26v2.26h-2.26zM181.4 616.2h2.26v2.26h-2.26zM190.4 616.2h2.26v2.26h-2.26zM208.5 616.2h2.26v2.26h-2.26zM222.1 616.2h2.26v2.26h-2.26zM228.9 616.2h2.26v2.26h-2.26zM235.6 616.2h2.26v2.26h-2.26zM258.3 616.2h2.26v2.26h-2.26zM269.6 616.2h4.52v2.26h-4.52zM278.6 616.2h2.26v2.26h-2.26zM299.0 616.2h4.52v2.26h-4.52zM308.0 616.2h2.26v2.26h-2.26zM145.2 618.4h2.26v2.26h-2.26zM152.0 618.4h2.26v2.26h-2.26zM208.5 618.4h2.26v2.26h-2.26zM217.6 618.4h2.26v2.26h-2.26zM226.6 618.4h2.26v2.26h-2.26zM231.1 618.4h4.52v2.26h-4.52zM242.4 618.4h9.04v2.26h-9.04zM256.0 618.4h2.26v2.26h-2.26zM262.8 618.4h2.26v2.26h-2.26zM274.1 618.4h2.26v2.26h-2.26zM296.7 618.4h4.52v2.26h-4.52zM303.5 618.4h2.26v2.26h-2.26zM308.0 618.4h2.26v2.26h-2.26zM163.3 620.7h2.26v2.26h-2.26zM174.6 620.7h2.26v2.26h-2.26zM197.2 620.7h6.78v2.26h-6.78zM217.6 620.7h2.26v2.26h-2.26zM222.1 620.7h2.26v2.26h-2.26zM237.9 620.7h6.78v2.26h-6.78zM258.3 620.7h2.26v2.26h-2.26zM262.8 620.7h4.52v2.26h-4.52zM301.2 620.7h2.26v2.26h-2.26zM161.0 622.9h2.26v2.26h-2.26zM192.7 622.9h2.26v2.26h-2.26zM199.5 622.9h2.26v2.26h-2.26zM208.5 622.9h2.26v2.26h-2.26zM222.1 622.9h4.52v2.26h-4.52zM233.4 622.9h2.26v2.26h-2.26zM237.9 622.9h2.26v2.26h-2.26zM244.7 622.9h2.26v2.26h-2.26zM251.5 622.9h2.26v2.26h-2.26zM258.3 622.9h2.26v2.26h-2.26zM265.0 622.9h2.26v2.26h-2.26zM280.9 622.9h2.26v2.26h-2.26zM308.0 622.9h2.26v2.26h-2.26zM179.1 625.2h4.52v2.26h-4.52zM197.2 625.2h2.26v2.26h-2.26zM231.1 625.2h2.26v2.26h-2.26zM258.3 625.2h2.26v2.26h-2.26zM278.6 625.2h2.26v2.26h-2.26zM294.4 625.2h4.52v2.26h-4.52zM303.5 625.2h2.26v2.26h-2.26zM312.5 625.2h4.52v2.26h-4.52zM145.2 627.5h2.26v2.26h-2.26zM154.2 627.5h2.26v2.26h-2.26zM158.8 627.5h4.52v2.26h-4.52zM167.8 627.5h2.26v2.26h-2.26zM172.3 627.5h2.26v2.26h-2.26zM181.4 627.5h2.26v2.26h-2.26zM188.2 627.5h2.26v2.26h-2.26zM201.7 627.5h2.26v2.26h-2.26zM206.2 627.5h4.52v2.26h-4.52zM215.3 627.5h4.52v2.26h-4.52zM228.9 627.5h2.26v2.26h-2.26zM233.4 627.5h2.26v2.26h-2.26zM242.4 627.5h2.26v2.26h-2.26zM253.7 627.5h2.26v2.26h-2.26zM269.6 627.5h2.26v2.26h-2.26zM274.1 627.5h2.26v2.26h-2.26zM299.0 627.5h2.26v2.26h-2.26zM305.7 627.5h4.52v2.26h-4.52zM154.2 629.7h2.26v2.26h-2.26zM158.8 629.7h2.26v2.26h-2.26zM172.3 629.7h2.26v2.26h-2.26zM179.1 629.7h6.78v2.26h-6.78zM192.7 629.7h2.26v2.26h-2.26zM197.2 629.7h4.52v2.26h-4.52zM215.3 629.7h4.52v2.26h-4.52zM222.1 629.7h2.26v2.26h-2.26zM235.6 629.7h4.52v2.26h-4.52zM242.4 629.7h2.26v2.26h-2.26zM246.9 629.7h4.52v2.26h-4.52zM253.7 629.7h4.52v2.26h-4.52zM280.9 629.7h2.26v2.26h-2.26zM301.2 629.7h4.52v2.26h-4.52zM145.2 632.0h2.26v2.26h-2.26zM149.7 632.0h2.26v2.26h-2.26zM165.5 632.0h2.26v2.26h-2.26zM188.2 632.0h2.26v2.26h-2.26zM199.5 632.0h2.26v2.26h-2.26zM219.8 632.0h2.26v2.26h-2.26zM269.6 632.0h2.26v2.26h-2.26zM314.8 632.0h2.26v2.26h-2.26zM154.2 634.2h4.52v2.26h-4.52zM161.0 634.2h2.26v2.26h-2.26zM179.1 634.2h2.26v2.26h-2.26zM190.4 634.2h2.26v2.26h-2.26zM201.7 634.2h2.26v2.26h-2.26zM206.2 634.2h2.26v2.26h-2.26zM226.6 634.2h4.52v2.26h-4.52zM242.4 634.2h2.26v2.26h-2.26zM246.9 634.2h2.26v2.26h-2.26zM253.7 634.2h2.26v2.26h-2.26zM260.5 634.2h2.26v2.26h-2.26zM289.9 634.2h2.26v2.26h-2.26zM303.5 634.2h2.26v2.26h-2.26zM310.3 634.2h4.52v2.26h-4.52zM154.2 636.5h2.26v2.26h-2.26zM158.8 636.5h4.52v2.26h-4.52zM194.9 636.5h2.26v2.26h-2.26zM201.7 636.5h4.52v2.26h-4.52zM208.5 636.5h2.26v2.26h-2.26zM219.8 636.5h4.52v2.26h-4.52zM237.9 636.5h2.26v2.26h-2.26zM251.5 636.5h4.52v2.26h-4.52zM269.6 636.5h2.26v2.26h-2.26zM287.6 636.5h2.26v2.26h-2.26zM301.2 636.5h2.26v2.26h-2.26zM305.7 636.5h2.26v2.26h-2.26zM312.5 636.5h2.26v2.26h-2.26zM154.2 638.7h2.26v2.26h-2.26zM163.3 638.7h2.26v2.26h-2.26zM167.8 638.7h4.52v2.26h-4.52zM176.9 638.7h2.26v2.26h-2.26zM183.6 638.7h2.26v2.26h-2.26zM190.4 638.7h2.26v2.26h-2.26zM217.6 638.7h2.26v2.26h-2.26zM226.6 638.7h2.26v2.26h-2.26zM235.6 638.7h2.26v2.26h-2.26zM240.2 638.7h2.26v2.26h-2.26zM244.7 638.7h2.26v2.26h-2.26zM249.2 638.7h2.26v2.26h-2.26zM253.7 638.7h2.26v2.26h-2.26zM262.8 638.7h4.52v2.26h-4.52zM280.9 638.7h2.26v2.26h-2.26zM285.4 638.7h2.26v2.26h-2.26zM303.5 638.7h2.26v2.26h-2.26zM314.8 638.7h2.26v2.26h-2.26zM145.2 641.0h4.52v2.26h-4.52zM152.0 641.0h4.52v2.26h-4.52zM167.8 641.0h2.26v2.26h-2.26zM172.3 641.0h9.04v2.26h-9.04zM188.2 641.0h2.26v2.26h-2.26zM204.0 641.0h2.26v2.26h-2.26zM215.3 641.0h6.78v2.26h-6.78zM224.3 641.0h4.52v2.26h-4.52zM231.1 641.0h4.52v2.26h-4.52zM237.9 641.0h2.26v2.26h-2.26zM244.7 641.0h2.26v2.26h-2.26zM253.7 641.0h2.26v2.26h-2.26zM262.8 641.0h4.52v2.26h-4.52zM269.6 641.0h2.26v2.26h-2.26zM305.7 641.0h4.52v2.26h-4.52zM147.5 643.3h2.26v2.26h-2.26zM163.3 643.3h2.26v2.26h-2.26zM183.6 643.3h4.52v2.26h-4.52zM192.7 643.3h9.04v2.26h-9.04zM213.0 643.3h2.26v2.26h-2.26zM222.1 643.3h2.26v2.26h-2.26zM231.1 643.3h2.26v2.26h-2.26zM240.2 643.3h2.26v2.26h-2.26zM244.7 643.3h2.26v2.26h-2.26zM256.0 643.3h2.26v2.26h-2.26zM265.0 643.3h2.26v2.26h-2.26zM280.9 643.3h2.26v2.26h-2.26zM305.7 643.3h2.26v2.26h-2.26zM317.0 643.3h2.26v2.26h-2.26zM147.5 645.5h2.26v2.26h-2.26zM185.9 645.5h6.78v2.26h-6.78zM197.2 645.5h2.26v2.26h-2.26zM206.2 645.5h2.26v2.26h-2.26zM217.6 645.5h2.26v2.26h-2.26zM228.9 645.5h4.52v2.26h-4.52zM237.9 645.5h2.26v2.26h-2.26zM251.5 645.5h2.26v2.26h-2.26zM256.0 645.5h2.26v2.26h-2.26zM278.6 645.5h2.26v2.26h-2.26zM312.5 645.5h6.78v2.26h-6.78zM154.2 647.8h2.26v2.26h-2.26zM165.5 647.8h2.26v2.26h-2.26zM170.1 647.8h2.26v2.26h-2.26zM176.9 647.8h2.26v2.26h-2.26zM204.0 647.8h2.26v2.26h-2.26zM215.3 647.8h2.26v2.26h-2.26zM224.3 647.8h2.26v2.26h-2.26zM237.9 647.8h2.26v2.26h-2.26zM242.4 647.8h2.26v2.26h-2.26zM246.9 647.8h2.26v2.26h-2.26zM267.3 647.8h2.26v2.26h-2.26zM285.4 647.8h2.26v2.26h-2.26zM296.7 647.8h4.52v2.26h-4.52zM317.0 647.8h2.26v2.26h-2.26zM147.5 650.0h2.26v2.26h-2.26zM154.2 650.0h2.26v2.26h-2.26zM158.8 650.0h6.78v2.26h-6.78zM167.8 650.0h4.52v2.26h-4.52zM181.4 650.0h2.26v2.26h-2.26zM190.4 650.0h2.26v2.26h-2.26zM194.9 650.0h4.52v2.26h-4.52zM208.5 650.0h2.26v2.26h-2.26zM213.0 650.0h4.52v2.26h-4.52zM235.6 650.0h2.26v2.26h-2.26zM244.7 650.0h2.26v2.26h-2.26zM249.2 650.0h6.78v2.26h-6.78zM258.3 650.0h2.26v2.26h-2.26zM265.0 650.0h4.52v2.26h-4.52zM289.9 650.0h2.26v2.26h-2.26zM308.0 650.0h2.26v2.26h-2.26zM314.8 650.0h2.26v2.26h-2.26zM163.3 652.3h2.26v2.26h-2.26zM181.4 652.3h4.52v2.26h-4.52zM197.2 652.3h2.26v2.26h-2.26zM204.0 652.3h2.26v2.26h-2.26zM208.5 652.3h2.26v2.26h-2.26zM215.3 652.3h2.26v2.26h-2.26zM233.4 652.3h2.26v2.26h-2.26zM260.5 652.3h2.26v2.26h-2.26zM294.4 652.3h2.26v2.26h-2.26zM305.7 652.3h2.26v2.26h-2.26zM158.8 654.5h2.26v2.26h-2.26zM181.4 654.5h2.26v2.26h-2.26zM188.2 654.5h2.26v2.26h-2.26zM199.5 654.5h2.26v2.26h-2.26zM204.0 654.5h2.26v2.26h-2.26zM213.0 654.5h2.26v2.26h-2.26zM240.2 654.5h4.52v2.26h-4.52zM249.2 654.5h2.26v2.26h-2.26zM256.0 654.5h2.26v2.26h-2.26zM260.5 654.5h4.52v2.26h-4.52zM305.7 654.5h2.26v2.26h-2.26zM312.5 654.5h2.26v2.26h-2.26zM208.5 656.8h2.26v2.13h-2.26zM262.8 656.8h2.26v2.13h-2.26zM274.1 656.8h2.26v2.13h-2.26zM278.6 656.8h2.26v2.13h-2.26zM158.8 658.9h2.26v2.13h-2.26zM174.6 658.9h2.26v2.13h-2.26zM197.2 658.9h2.26v2.13h-2.26zM271.8 658.9h2.26v2.13h-2.26zM278.6 658.9h2.26v2.13h-2.26zM161.0 661.1h2.26v2.13h-2.26zM185.9 661.1h2.26v2.13h-2.26zM244.7 661.1h2.26v2.13h-2.26zM308.0 661.1h2.26v2.13h-2.26zM240.2 663.2h2.26v2.13h-2.26zM283.1 663.2h2.26v2.13h-2.26zM310.3 663.2h4.52v2.13h-4.52zM165.5 665.3h2.26v2.13h-2.26zM183.6 665.3h2.26v2.13h-2.26zM210.8 665.3h4.52v2.13h-4.52zM233.4 665.3h2.26v2.13h-2.26zM265.0 665.3h2.26v2.13h-2.26zM289.9 665.3h2.26v2.13h-2.26zM305.7 665.3h2.26v2.13h-2.26zM312.5 665.3h2.26v2.13h-2.26zM156.5 667.5h2.26v2.13h-2.26zM188.2 667.5h2.26v2.13h-2.26zM204.0 667.5h2.26v2.13h-2.26zM231.1 667.5h2.26v2.13h-2.26zM276.3 667.5h2.26v2.13h-2.26zM308.0 667.5h2.26v2.13h-2.26zM145.2 669.6h2.26v2.13h-2.26zM172.3 669.6h2.26v2.13h-2.26zM188.2 669.6h2.26v2.13h-2.26zM271.8 669.6h2.26v2.13h-2.26zM280.9 669.6h2.26v2.13h-2.26zM305.7 669.6h2.26v2.13h-2.26zM149.7 671.7h2.26v2.13h-2.26zM154.2 671.7h4.52v2.13h-4.52zM161.0 671.7h2.26v2.13h-2.26zM167.8 671.7h2.26v2.13h-2.26zM197.2 671.7h2.26v2.13h-2.26zM226.6 671.7h2.26v2.13h-2.26zM265.0 671.7h2.26v2.13h-2.26zM296.7 671.7h2.26v2.13h-2.26zM312.5 671.7h2.26v2.13h-2.26zM317.0 671.7h2.26v2.13h-2.26zM145.2 673.8h2.26v2.13h-2.26zM149.7 673.8h4.52v2.13h-4.52zM156.5 673.8h2.26v2.13h-2.26zM192.7 673.8h2.26v2.13h-2.26zM242.4 673.8h2.26v2.13h-2.26zM249.2 673.8h2.26v2.13h-2.26zM287.6 673.8h2.26v2.13h-2.26zM147.5 676.0h2.26v2.13h-2.26zM152.0 676.0h2.26v2.13h-2.26zM156.5 676.0h9.04v2.13h-9.04zM167.8 676.0h2.26v2.13h-2.26zM246.9 676.0h2.26v2.13h-2.26zM276.3 676.0h2.26v2.13h-2.26zM308.0 676.0h2.26v2.13h-2.26zM152.0 678.1h2.26v2.13h-2.26zM163.3 678.1h2.26v2.13h-2.26zM170.1 678.1h2.26v2.13h-2.26zM262.8 678.1h2.26v2.13h-2.26zM296.7 678.1h4.52v2.13h-4.52zM310.3 678.1h2.26v2.13h-2.26zM147.5 680.2h4.52v2.13h-4.52zM161.0 680.2h2.26v2.13h-2.26zM172.3 680.2h2.26v2.13h-2.26zM251.5 680.2h2.26v2.13h-2.26zM274.1 680.2h2.26v2.13h-2.26zM280.9 680.2h4.52v2.13h-4.52zM314.8 680.2h2.26v2.13h-2.26zM149.7 682.4h2.26v2.13h-2.26zM156.5 682.4h2.26v2.13h-2.26zM161.0 682.4h2.26v2.13h-2.26zM165.5 682.4h2.26v2.13h-2.26zM172.3 682.4h6.78v2.13h-6.78zM181.4 682.4h4.52v2.13h-4.52zM190.4 682.4h2.26v2.13h-2.26zM197.2 682.4h2.26v2.13h-2.26zM204.0 682.4h4.52v2.13h-4.52zM226.6 682.4h2.26v2.13h-2.26zM237.9 682.4h2.26v2.13h-2.26zM242.4 682.4h2.26v2.13h-2.26zM246.9 682.4h2.26v2.13h-2.26zM258.3 682.4h4.52v2.13h-4.52zM287.6 682.4h4.52v2.13h-4.52zM301.2 682.4h2.26v2.13h-2.26zM314.8 682.4h2.26v2.13h-2.26zM158.8 684.5h2.26v2.13h-2.26zM163.3 684.5h4.52v2.13h-4.52zM170.1 684.5h4.52v2.13h-4.52zM179.1 684.5h2.26v2.13h-2.26zM201.7 684.5h2.26v2.13h-2.26zM217.6 684.5h2.26v2.13h-2.26zM240.2 684.5h2.26v2.13h-2.26zM251.5 684.5h2.26v2.13h-2.26zM262.8 684.5h2.26v2.13h-2.26zM301.2 684.5h2.26v2.13h-2.26zM149.7 686.6h2.26v2.13h-2.26zM158.8 686.6h2.26v2.13h-2.26zM215.3 686.6h2.26v2.13h-2.26zM222.1 686.6h2.26v2.13h-2.26zM260.5 686.6h2.26v2.13h-2.26zM267.3 686.6h2.26v2.13h-2.26zM271.8 686.6h2.26v2.13h-2.26zM156.5 688.8h4.52v2.13h-4.52zM274.1 688.8h2.26v2.13h-2.26zM283.1 688.8h2.26v2.13h-2.26zM296.7 688.8h2.26v2.13h-2.26zM314.8 688.8h2.26v2.13h-2.26zM145.2 690.9h2.26v2.13h-2.26zM161.0 690.9h2.26v2.13h-2.26zM174.6 690.9h2.26v2.13h-2.26zM181.4 690.9h2.26v2.13h-2.26zM185.9 690.9h2.26v2.13h-2.26zM192.7 690.9h6.78v2.13h-6.78zM204.0 690.9h2.26v2.13h-2.26zM219.8 690.9h2.26v2.13h-2.26zM224.3 690.9h2.26v2.13h-2.26zM231.1 690.9h2.26v2.13h-2.26zM235.6 690.9h4.52v2.13h-4.52zM242.4 690.9h6.78v2.13h-6.78zM258.3 690.9h2.26v2.13h-2.26zM262.8 690.9h2.26v2.13h-2.26zM292.2 690.9h4.52v2.13h-4.52zM147.5 693.0h2.26v2.13h-2.26zM156.5 693.0h2.26v2.13h-2.26zM156.5 695.2h2.26v2.13h-2.26zM163.3 695.2h2.26v2.13h-2.26zM176.9 695.2h2.26v2.13h-2.26zM192.7 695.2h2.26v2.13h-2.26zM210.8 695.2h2.26v2.13h-2.26zM269.6 695.2h4.52v2.13h-4.52zM280.9 695.2h2.26v2.13h-2.26zM147.5 697.3h2.26v2.13h-2.26zM158.8 697.3h2.26v2.13h-2.26zM188.2 697.3h2.26v2.13h-2.26zM271.8 697.3h2.26v2.13h-2.26zM289.9 697.3h2.26v2.13h-2.26zM303.5 697.3h2.26v2.13h-2.26zM145.2 699.4h2.26v2.13h-2.26zM152.0 699.4h2.26v2.13h-2.26zM161.0 699.4h4.52v2.13h-4.52zM181.4 699.4h2.26v2.13h-2.26zM265.0 699.4h2.26v2.13h-2.26zM296.7 699.4h2.26v2.13h-2.26zM305.7 699.4h2.26v2.13h-2.26zM145.2 701.5h2.26v2.13h-2.26zM285.4 701.5h2.26v2.13h-2.26zM292.2 701.5h2.26v2.13h-2.26zM145.2 703.7h2.26v2.13h-2.26zM149.7 703.7h2.26v2.13h-2.26zM154.2 703.7h2.26v2.13h-2.26zM210.8 703.7h2.26v2.13h-2.26zM253.7 703.7h2.26v2.13h-2.26zM158.8 705.8h2.26v2.13h-2.26zM210.8 705.8h2.26v2.13h-2.26zM219.8 705.8h2.26v2.13h-2.26zM317.0 705.8h2.26v2.13h-2.26zM224.3 707.9h2.26v2.13h-2.26zM246.9 707.9h2.26v2.13h-2.26zM280.9 707.9h2.26v2.13h-2.26zM285.4 707.9h2.26v2.13h-2.26zM176.9 710.1h2.26v2.13h-2.26zM190.4 710.1h2.26v2.13h-2.26zM199.5 710.1h2.26v2.13h-2.26zM222.1 710.1h2.26v2.13h-2.26zM276.3 710.1h2.26v2.13h-2.26z" fill="#1B72B8"/>
<path d="M201.7 497.4h2.26v2.29h-2.26zM208.5 497.4h2.26v2.29h-2.26zM269.6 497.4h2.26v2.29h-2.26zM274.1 497.4h2.26v2.29h-2.26zM289.9 497.4h2.26v2.29h-2.26zM301.2 497.4h2.26v2.29h-2.26zM317.0 499.7h2.26v2.29h-2.26zM226.6 502.0h2.26v2.29h-2.26zM314.8 502.0h2.26v2.29h-2.26zM296.7 508.8h2.26v2.29h-2.26zM310.3 508.8h2.26v2.29h-2.26zM197.2 520.3h2.26v2.29h-2.26zM287.6 520.3h2.26v2.29h-2.26zM163.3 531.7h2.26v2.29h-2.26zM222.1 531.7h2.26v2.29h-2.26zM265.0 536.3h2.26v2.29h-2.26zM308.0 536.3h2.26v2.29h-2.26zM292.2 538.5h2.26v2.29h-2.26zM197.2 543.1h2.26v2.29h-2.26zM240.2 545.4h2.26v2.29h-2.26zM194.9 547.7h2.26v2.29h-2.26zM296.7 550.0h2.26v2.29h-2.26zM154.2 552.3h4.52v2.29h-4.52zM172.3 552.3h2.26v2.29h-2.26zM181.4 552.3h2.26v2.29h-2.26zM222.1 552.3h2.26v2.29h-2.26zM228.9 552.3h2.26v2.29h-2.26zM269.6 552.3h2.26v2.29h-2.26zM174.6 554.5h2.26v2.29h-2.26zM147.5 556.8h2.26v2.29h-2.26zM317.0 559.1h2.26v2.29h-2.26zM235.6 561.4h2.26v2.29h-2.26zM242.4 561.4h2.26v2.29h-2.26zM172.3 566.0h2.26v2.29h-2.26zM285.4 566.0h2.26v2.29h-2.26zM289.9 566.0h2.26v2.29h-2.26zM181.4 570.5h2.26v2.29h-2.26zM305.7 572.8h2.26v2.29h-2.26zM262.8 575.1h2.26v2.29h-2.26zM242.4 577.4h2.26v2.29h-2.26zM267.3 577.4h2.26v2.29h-2.26zM199.5 579.7h2.26v2.29h-2.26zM289.9 579.7h2.26v2.29h-2.26zM161.0 582.0h2.26v2.29h-2.26zM213.0 582.0h2.26v2.29h-2.26zM276.3 582.0h2.26v2.29h-2.26zM179.1 588.8h2.26v2.29h-2.26zM165.5 591.1h2.26v2.29h-2.26zM301.2 593.4h2.26v2.29h-2.26zM308.0 595.7h2.26v2.29h-2.26zM299.0 602.5h2.26v2.29h-2.26zM267.3 604.8h2.26v2.29h-2.26zM176.9 607.1h2.26v2.29h-2.26zM210.8 607.1h4.52v2.29h-4.52zM224.3 607.1h2.26v2.29h-2.26zM244.7 607.1h2.26v2.29h-2.26zM256.0 607.1h2.26v2.29h-2.26zM294.4 607.1h2.26v2.29h-2.26zM147.5 609.4h2.26v2.26h-2.26zM154.2 609.4h2.26v2.26h-2.26zM174.6 609.4h2.26v2.26h-2.26zM310.3 609.4h2.26v2.26h-2.26zM256.0 611.7h2.26v2.26h-2.26zM183.6 613.9h2.26v2.26h-2.26zM210.8 613.9h2.26v2.26h-2.26zM269.6 613.9h2.26v2.26h-2.26zM305.7 613.9h2.26v2.26h-2.26zM317.0 613.9h2.26v2.26h-2.26zM285.4 616.2h4.52v2.26h-4.52zM305.7 616.2h2.26v2.26h-2.26zM172.3 618.4h2.26v2.26h-2.26zM147.5 620.7h2.26v2.26h-2.26zM314.8 620.7h2.26v2.26h-2.26zM174.6 622.9h2.26v2.26h-2.26zM301.2 625.2h2.26v2.26h-2.26zM192.7 627.5h2.26v2.26h-2.26zM231.1 629.7h2.26v2.26h-2.26zM251.5 629.7h2.26v2.26h-2.26zM213.0 632.0h2.26v2.26h-2.26zM235.6 632.0h2.26v2.26h-2.26zM296.7 632.0h2.26v2.26h-2.26zM163.3 634.2h2.26v2.26h-2.26zM199.5 634.2h2.26v2.26h-2.26zM314.8 634.2h4.52v2.26h-4.52zM303.5 636.5h2.26v2.26h-2.26zM181.4 638.7h2.26v2.26h-2.26zM206.2 638.7h2.26v2.26h-2.26zM165.5 643.3h2.26v2.26h-2.26zM190.4 643.3h2.26v2.26h-2.26zM260.5 643.3h2.26v2.26h-2.26zM285.4 643.3h2.26v2.26h-2.26zM188.2 647.8h2.26v2.26h-2.26zM188.2 650.0h2.26v2.26h-2.26zM149.7 652.3h2.26v2.26h-2.26zM276.3 652.3h2.26v2.26h-2.26zM312.5 652.3h2.26v2.26h-2.26zM240.2 656.8h2.26v2.13h-2.26zM305.7 656.8h2.26v2.13h-2.26zM163.3 667.5h2.26v2.13h-2.26zM172.3 676.0h2.26v2.13h-2.26zM158.8 678.1h2.26v2.13h-2.26zM167.8 678.1h2.26v2.13h-2.26zM154.2 682.4h2.26v2.13h-2.26zM179.1 682.4h2.26v2.13h-2.26zM188.2 682.4h2.26v2.13h-2.26zM217.6 682.4h4.52v2.13h-4.52zM253.7 682.4h2.26v2.13h-2.26zM262.8 682.4h2.26v2.13h-2.26zM161.0 684.5h2.26v2.13h-2.26zM210.8 686.6h2.26v2.13h-2.26zM310.3 686.6h2.26v2.13h-2.26zM147.5 690.9h4.52v2.13h-4.52zM183.6 690.9h2.26v2.13h-2.26zM303.5 690.9h2.26v2.13h-2.26zM149.7 693.0h2.26v2.13h-2.26zM165.5 693.0h2.26v2.13h-2.26zM312.5 693.0h2.26v2.13h-2.26zM158.8 695.2h2.26v2.13h-2.26zM240.2 695.2h2.26v2.13h-2.26zM167.8 697.3h4.52v2.13h-4.52zM249.2 697.3h2.26v2.13h-2.26zM158.8 699.4h2.26v2.13h-2.26zM222.1 699.4h2.26v2.13h-2.26zM152.0 701.5h2.26v2.13h-2.26zM224.3 701.5h2.26v2.13h-2.26zM240.2 701.5h2.26v2.13h-2.26zM172.3 703.7h2.26v2.13h-2.26zM278.6 705.8h2.26v2.13h-2.26zM256.0 710.1h2.26v2.13h-2.26z" fill="#5DB4E0"/>
<path d="M296.7 497.4h4.52v2.29h-4.52zM303.5 497.4h2.26v2.29h-2.26zM310.3 497.4h9.04v2.29h-9.04zM158.8 499.7h2.26v2.29h-2.26zM190.4 499.7h2.26v2.29h-2.26zM299.0 499.7h2.26v2.29h-2.26zM305.7 499.7h6.78v2.29h-6.78zM152.0 502.0h2.26v2.29h-2.26zM201.7 502.0h2.26v2.29h-2.26zM219.8 502.0h2.26v2.29h-2.26zM296.7 502.0h6.78v2.29h-6.78zM305.7 502.0h2.26v2.29h-2.26zM310.3 502.0h4.52v2.29h-4.52zM156.5 504.3h2.26v2.29h-2.26zM170.1 504.3h2.26v2.29h-2.26zM303.5 504.3h9.04v2.29h-9.04zM226.6 506.5h2.26v2.29h-2.26zM308.0 506.5h2.26v2.29h-2.26zM314.8 506.5h2.26v2.29h-2.26zM176.9 508.8h2.26v2.29h-2.26zM242.4 508.8h2.26v2.29h-2.26zM274.1 508.8h2.26v2.29h-2.26zM301.2 508.8h2.26v2.29h-2.26zM305.7 508.8h4.52v2.29h-4.52zM312.5 508.8h2.26v2.29h-2.26zM317.0 508.8h2.26v2.29h-2.26zM215.3 511.1h2.26v2.29h-2.26zM235.6 511.1h2.26v2.29h-2.26zM296.7 511.1h2.26v2.29h-2.26zM301.2 511.1h9.04v2.29h-9.04zM314.8 511.1h2.26v2.29h-2.26zM147.5 513.4h2.26v2.29h-2.26zM213.0 513.4h2.26v2.29h-2.26zM262.8 513.4h2.26v2.29h-2.26zM299.0 513.4h6.78v2.29h-6.78zM310.3 513.4h4.52v2.29h-4.52zM317.0 513.4h2.26v2.29h-2.26zM237.9 515.7h2.26v2.29h-2.26zM299.0 515.7h2.26v2.29h-2.26zM303.5 515.7h9.04v2.29h-9.04zM145.2 518.0h4.52v2.29h-4.52zM165.5 518.0h2.26v2.29h-2.26zM197.2 518.0h2.26v2.29h-2.26zM262.8 518.0h2.26v2.29h-2.26zM296.7 518.0h4.52v2.29h-4.52zM305.7 518.0h4.52v2.29h-4.52zM312.5 518.0h6.78v2.29h-6.78zM152.0 520.3h2.26v2.29h-2.26zM244.7 520.3h2.26v2.29h-2.26zM296.7 520.3h2.26v2.29h-2.26zM308.0 520.3h11.31v2.29h-11.31zM260.5 522.5h2.26v2.29h-2.26zM301.2 522.5h4.52v2.29h-4.52zM308.0 522.5h4.52v2.29h-4.52zM262.8 524.8h2.26v2.29h-2.26zM296.7 524.8h4.52v2.29h-4.52zM303.5 524.8h4.52v2.29h-4.52zM226.6 527.1h2.26v2.29h-2.26zM303.5 527.1h2.26v2.29h-2.26zM317.0 527.1h2.26v2.29h-2.26zM213.0 529.4h2.26v2.29h-2.26zM253.7 529.4h2.26v2.29h-2.26zM271.8 529.4h2.26v2.29h-2.26zM296.7 529.4h2.26v2.29h-2.26zM301.2 529.4h2.26v2.29h-2.26zM305.7 529.4h2.26v2.29h-2.26zM310.3 529.4h9.04v2.29h-9.04zM197.2 531.7h4.52v2.29h-4.52zM246.9 531.7h2.26v2.29h-2.26zM267.3 531.7h2.26v2.29h-2.26zM301.2 531.7h4.52v2.29h-4.52zM296.7 534.0h4.52v2.29h-4.52zM314.8 534.0h2.26v2.29h-2.26zM149.7 536.3h2.26v2.29h-2.26zM158.8 536.3h4.52v2.29h-4.52zM172.3 536.3h2.26v2.29h-2.26zM181.4 536.3h2.26v2.29h-2.26zM201.7 536.3h6.78v2.29h-6.78zM217.6 536.3h4.52v2.29h-4.52zM237.9 536.3h2.26v2.29h-2.26zM242.4 536.3h4.52v2.29h-4.52zM249.2 536.3h2.26v2.29h-2.26zM253.7 536.3h2.26v2.29h-2.26zM262.8 536.3h2.26v2.29h-2.26zM267.3 536.3h4.52v2.29h-4.52zM276.3 536.3h2.26v2.29h-2.26zM283.1 536.3h4.52v2.29h-4.52zM299.0 536.3h2.26v2.29h-2.26zM312.5 536.3h2.26v2.29h-2.26zM192.7 538.5h2.26v2.29h-2.26zM213.0 538.5h2.26v2.29h-2.26zM246.9 538.5h2.26v2.29h-2.26zM305.7 538.5h4.52v2.29h-4.52zM312.5 538.5h4.52v2.29h-4.52zM188.2 540.8h2.26v2.29h-2.26zM299.0 540.8h2.26v2.29h-2.26zM308.0 540.8h2.26v2.29h-2.26zM314.8 540.8h4.52v2.29h-4.52zM174.6 543.1h2.26v2.29h-2.26zM233.4 543.1h2.26v2.29h-2.26zM299.0 543.1h2.26v2.29h-2.26zM305.7 543.1h6.78v2.29h-6.78zM158.8 545.4h2.26v2.29h-2.26zM246.9 545.4h2.26v2.29h-2.26zM310.3 545.4h2.26v2.29h-2.26zM158.8 547.7h2.26v2.29h-2.26zM301.2 547.7h2.26v2.29h-2.26zM305.7 547.7h2.26v2.29h-2.26zM310.3 547.7h2.26v2.29h-2.26zM314.8 547.7h4.52v2.29h-4.52zM280.9 550.0h2.26v2.29h-2.26zM305.7 550.0h2.26v2.29h-2.26zM314.8 550.0h2.26v2.29h-2.26zM161.0 552.3h2.26v2.29h-2.26zM174.6 552.3h2.26v2.29h-2.26zM183.6 552.3h4.52v2.29h-4.52zM194.9 552.3h2.26v2.29h-2.26zM199.5 552.3h4.52v2.29h-4.52zM213.0 552.3h2.26v2.29h-2.26zM226.6 552.3h2.26v2.29h-2.26zM265.0 552.3h2.26v2.29h-2.26zM283.1 552.3h2.26v2.29h-2.26zM294.4 552.3h4.52v2.29h-4.52zM305.7 552.3h9.04v2.29h-9.04zM317.0 552.3h2.26v2.29h-2.26zM149.7 554.5h2.26v2.29h-2.26zM172.3 554.5h2.26v2.29h-2.26zM179.1 554.5h2.26v2.29h-2.26zM240.2 554.5h2.26v2.29h-2.26zM256.0 554.5h2.26v2.29h-2.26zM260.5 554.5h2.26v2.29h-2.26zM276.3 554.5h2.26v2.29h-2.26zM296.7 554.5h2.26v2.29h-2.26zM303.5 554.5h2.26v2.29h-2.26zM308.0 554.5h9.04v2.29h-9.04zM145.2 556.8h2.26v2.29h-2.26zM156.5 556.8h2.26v2.29h-2.26zM176.9 556.8h4.52v2.29h-4.52zM185.9 556.8h2.26v2.29h-2.26zM194.9 556.8h2.26v2.29h-2.26zM222.1 556.8h2.26v2.29h-2.26zM244.7 556.8h2.26v2.29h-2.26zM258.3 556.8h2.26v2.29h-2.26zM299.0 556.8h4.52v2.29h-4.52zM305.7 556.8h6.78v2.29h-6.78zM201.7 559.1h2.26v2.29h-2.26zM296.7 559.1h2.26v2.29h-2.26zM301.2 559.1h4.52v2.29h-4.52zM308.0 559.1h4.52v2.29h-4.52zM314.8 559.1h2.26v2.29h-2.26zM294.4 561.4h2.26v2.29h-2.26zM299.0 561.4h4.52v2.29h-4.52zM305.7 561.4h4.52v2.29h-4.52zM312.5 561.4h2.26v2.29h-2.26zM317.0 561.4h2.26v2.29h-2.26zM199.5 563.7h2.26v2.29h-2.26zM269.6 563.7h2.26v2.29h-2.26zM303.5 563.7h2.26v2.29h-2.26zM233.4 566.0h2.26v2.29h-2.26zM301.2 566.0h2.26v2.29h-2.26zM308.0 566.0h2.26v2.29h-2.26zM317.0 566.0h2.26v2.29h-2.26zM165.5 568.3h4.52v2.29h-4.52zM217.6 568.3h2.26v2.29h-2.26zM231.1 568.3h2.26v2.29h-2.26zM314.8 568.3h2.26v2.29h-2.26zM145.2 570.5h2.26v2.29h-2.26zM154.2 570.5h2.26v2.29h-2.26zM170.1 570.5h2.26v2.29h-2.26zM199.5 570.5h2.26v2.29h-2.26zM299.0 570.5h2.26v2.29h-2.26zM310.3 570.5h2.26v2.29h-2.26zM317.0 570.5h2.26v2.29h-2.26zM156.5 572.8h2.26v2.29h-2.26zM170.1 572.8h2.26v2.29h-2.26zM192.7 572.8h2.26v2.29h-2.26zM292.2 572.8h2.26v2.29h-2.26zM303.5 572.8h2.26v2.29h-2.26zM310.3 572.8h4.52v2.29h-4.52zM317.0 572.8h2.26v2.29h-2.26zM208.5 575.1h2.26v2.29h-2.26zM301.2 575.1h11.31v2.29h-11.31zM314.8 575.1h2.26v2.29h-2.26zM181.4 577.4h2.26v2.29h-2.26zM204.0 577.4h4.52v2.29h-4.52zM233.4 577.4h6.78v2.29h-6.78zM269.6 577.4h2.26v2.29h-2.26zM278.6 577.4h2.26v2.29h-2.26zM283.1 577.4h2.26v2.29h-2.26zM287.6 577.4h2.26v2.29h-2.26zM299.0 577.4h11.31v2.29h-11.31zM312.5 577.4h6.78v2.29h-6.78zM188.2 579.7h2.26v2.29h-2.26zM194.9 579.7h2.26v2.29h-2.26zM213.0 579.7h2.26v2.29h-2.26zM244.7 579.7h4.52v2.29h-4.52zM256.0 579.7h2.26v2.29h-2.26zM276.3 579.7h2.26v2.29h-2.26zM287.6 579.7h2.26v2.29h-2.26zM296.7 579.7h2.26v2.29h-2.26zM301.2 579.7h11.31v2.29h-11.31zM158.8 582.0h2.26v2.29h-2.26zM163.3 582.0h2.26v2.29h-2.26zM215.3 582.0h2.26v2.29h-2.26zM242.4 582.0h2.26v2.29h-2.26zM249.2 582.0h2.26v2.29h-2.26zM253.7 582.0h2.26v2.29h-2.26zM265.0 582.0h2.26v2.29h-2.26zM280.9 582.0h2.26v2.29h-2.26zM287.6 582.0h2.26v2.29h-2.26zM299.0 582.0h4.52v2.29h-4.52zM305.7 582.0h2.26v2.29h-2.26zM310.3 582.0h4.52v2.29h-4.52zM172.3 584.3h2.26v2.29h-2.26zM244.7 584.3h2.26v2.29h-2.26zM267.3 584.3h2.26v2.29h-2.26zM299.0 584.3h4.52v2.29h-4.52zM312.5 584.3h2.26v2.29h-2.26zM181.4 586.5h4.52v2.29h-4.52zM194.9 586.5h2.26v2.29h-2.26zM224.3 586.5h2.26v2.29h-2.26zM299.0 586.5h2.26v2.29h-2.26zM312.5 586.5h2.26v2.29h-2.26zM183.6 588.8h2.26v2.29h-2.26zM204.0 588.8h2.26v2.29h-2.26zM269.6 588.8h2.26v2.29h-2.26zM296.7 588.8h2.26v2.29h-2.26zM301.2 588.8h2.26v2.29h-2.26zM206.2 591.1h2.26v2.29h-2.26zM256.0 591.1h2.26v2.29h-2.26zM274.1 591.1h2.26v2.29h-2.26zM303.5 591.1h2.26v2.29h-2.26zM310.3 591.1h2.26v2.29h-2.26zM246.9 593.4h2.26v2.29h-2.26zM262.8 593.4h2.26v2.29h-2.26zM296.7 593.4h2.26v2.29h-2.26zM312.5 593.4h2.26v2.29h-2.26zM192.7 595.7h4.52v2.29h-4.52zM269.6 595.7h2.26v2.29h-2.26zM285.4 595.7h2.26v2.29h-2.26zM301.2 595.7h4.52v2.29h-4.52zM314.8 595.7h2.26v2.29h-2.26zM176.9 598.0h2.26v2.29h-2.26zM199.5 598.0h2.26v2.29h-2.26zM265.0 598.0h2.26v2.29h-2.26zM308.0 598.0h2.26v2.29h-2.26zM314.8 598.0h2.26v2.29h-2.26zM163.3 600.3h2.26v2.29h-2.26zM172.3 600.3h2.26v2.29h-2.26zM296.7 600.3h2.26v2.29h-2.26zM303.5 600.3h2.26v2.29h-2.26zM314.8 600.3h4.52v2.29h-4.52zM242.4 602.5h2.26v2.29h-2.26zM269.6 602.5h2.26v2.29h-2.26zM296.7 602.5h2.26v2.29h-2.26zM303.5 602.5h4.52v2.29h-4.52zM310.3 602.5h2.26v2.29h-2.26zM314.8 602.5h2.26v2.29h-2.26zM219.8 604.8h2.26v2.29h-2.26zM299.0 604.8h2.26v2.29h-2.26zM303.5 604.8h4.52v2.29h-4.52zM161.0 607.1h2.26v2.29h-2.26zM165.5 607.1h2.26v2.29h-2.26zM172.3 607.1h2.26v2.29h-2.26zM179.1 607.1h4.52v2.29h-4.52zM188.2 607.1h2.26v2.29h-2.26zM194.9 607.1h2.26v2.29h-2.26zM204.0 607.1h2.26v2.29h-2.26zM222.1 607.1h2.26v2.29h-2.26zM233.4 607.1h6.78v2.29h-6.78zM251.5 607.1h2.26v2.29h-2.26zM258.3 607.1h2.26v2.29h-2.26zM265.0 607.1h6.78v2.29h-6.78zM274.1 607.1h2.26v2.29h-2.26zM283.1 607.1h4.52v2.29h-4.52zM310.3 607.1h6.78v2.29h-6.78zM145.2 609.4h2.26v2.26h-2.26zM149.7 609.4h2.26v2.26h-2.26zM156.5 609.4h6.78v2.26h-6.78zM165.5 609.4h4.52v2.26h-4.52zM181.4 609.4h4.52v2.26h-4.52zM188.2 609.4h6.78v2.26h-6.78zM204.0 609.4h2.26v2.26h-2.26zM208.5 609.4h13.57v2.26h-13.57zM233.4 609.4h4.52v2.26h-4.52zM244.7 609.4h2.26v2.26h-2.26zM249.2 609.4h2.26v2.26h-2.26zM258.3 609.4h2.26v2.26h-2.26zM262.8 609.4h2.26v2.26h-2.26zM267.3 609.4h2.26v2.26h-2.26zM145.2 611.7h4.52v2.26h-4.52zM154.2 611.7h2.26v2.26h-2.26zM170.1 611.7h4.52v2.26h-4.52zM176.9 611.7h2.26v2.26h-2.26zM185.9 611.7h2.26v2.26h-2.26zM194.9 611.7h2.26v2.26h-2.26zM199.5 611.7h2.26v2.26h-2.26zM204.0 611.7h4.52v2.26h-4.52zM213.0 611.7h4.52v2.26h-4.52zM219.8 611.7h4.52v2.26h-4.52zM226.6 611.7h4.52v2.26h-4.52zM237.9 611.7h2.26v2.26h-2.26zM242.4 611.7h13.57v2.26h-13.57zM258.3 611.7h2.26v2.26h-2.26zM265.0 611.7h2.26v2.26h-2.26zM147.5 613.9h11.31v2.26h-11.31zM161.0 613.9h13.57v2.26h-13.57zM179.1 613.9h4.52v2.26h-4.52zM190.4 613.9h4.52v2.26h-4.52zM197.2 613.9h9.04v2.26h-9.04zM208.5 613.9h2.26v2.26h-2.26zM213.0 613.9h4.52v2.26h-4.52zM219.8 613.9h2.26v2.26h-2.26zM224.3 613.9h2.26v2.26h-2.26zM231.1 613.9h4.52v2.26h-4.52zM237.9 613.9h4.52v2.26h-4.52zM244.7 613.9h6.78v2.26h-6.78zM253.7 613.9h2.26v2.26h-2.26zM258.3 613.9h2.26v2.26h-2.26zM152.0 616.2h2.26v2.26h-2.26zM156.5 616.2h2.26v2.26h-2.26zM163.3 616.2h2.26v2.26h-2.26zM176.9 616.2h4.52v2.26h-4.52zM185.9 616.2h4.52v2.26h-4.52zM194.9 616.2h2.26v2.26h-2.26zM201.7 616.2h6.78v2.26h-6.78zM213.0 616.2h4.52v2.26h-4.52zM219.8 616.2h2.26v2.26h-2.26zM224.3 616.2h4.52v2.26h-4.52zM231.1 616.2h2.26v2.26h-2.26zM237.9 616.2h4.52v2.26h-4.52zM246.9 616.2h4.52v2.26h-4.52zM253.7 616.2h2.26v2.26h-2.26zM265.0 616.2h4.52v2.26h-4.52zM276.3 616.2h2.26v2.26h-2.26zM280.9 616.2h2.26v2.26h-2.26zM147.5 618.4h2.26v2.26h-2.26zM158.8 618.4h2.26v2.26h-2.26zM167.8 618.4h4.52v2.26h-4.52zM174.6 618.4h4.52v2.26h-4.52zM181.4 618.4h2.26v2.26h-2.26zM188.2 618.4h4.52v2.26h-4.52zM194.9 618.4h2.26v2.26h-2.26zM201.7 618.4h2.26v2.26h-2.26zM210.8 618.4h2.26v2.26h-2.26zM215.3 618.4h2.26v2.26h-2.26zM219.8 618.4h4.52v2.26h-4.52zM228.9 618.4h2.26v2.26h-2.26zM237.9 618.4h2.26v2.26h-2.26zM267.3 618.4h6.78v2.26h-6.78zM149.7 620.7h4.52v2.26h-4.52zM158.8 620.7h4.52v2.26h-4.52zM176.9 620.7h2.26v2.26h-2.26zM181.4 620.7h2.26v2.26h-2.26zM185.9 620.7h4.52v2.26h-4.52zM192.7 620.7h2.26v2.26h-2.26zM204.0 620.7h9.04v2.26h-9.04zM215.3 620.7h2.26v2.26h-2.26zM231.1 620.7h2.26v2.26h-2.26zM235.6 620.7h2.26v2.26h-2.26zM246.9 620.7h2.26v2.26h-2.26zM267.3 620.7h4.52v2.26h-4.52zM147.5 622.9h2.26v2.26h-2.26zM156.5 622.9h4.52v2.26h-4.52zM163.3 622.9h11.31v2.26h-11.31zM176.9 622.9h4.52v2.26h-4.52zM183.6 622.9h2.26v2.26h-2.26zM188.2 622.9h4.52v2.26h-4.52zM204.0 622.9h4.52v2.26h-4.52zM213.0 622.9h9.04v2.26h-9.04zM235.6 622.9h2.26v2.26h-2.26zM240.2 622.9h4.52v2.26h-4.52zM253.7 622.9h4.52v2.26h-4.52zM260.5 622.9h2.26v2.26h-2.26zM267.3 622.9h4.52v2.26h-4.52zM287.6 622.9h2.26v2.26h-2.26zM299.0 622.9h2.26v2.26h-2.26zM145.2 625.2h2.26v2.26h-2.26zM149.7 625.2h2.26v2.26h-2.26zM156.5 625.2h2.26v2.26h-2.26zM161.0 625.2h6.78v2.26h-6.78zM170.1 625.2h6.78v2.26h-6.78zM183.6 625.2h4.52v2.26h-4.52zM192.7 625.2h2.26v2.26h-2.26zM201.7 625.2h6.78v2.26h-6.78zM213.0 625.2h2.26v2.26h-2.26zM217.6 625.2h13.57v2.26h-13.57zM233.4 625.2h4.52v2.26h-4.52zM244.7 625.2h11.31v2.26h-11.31zM265.0 625.2h6.78v2.26h-6.78zM274.1 625.2h2.26v2.26h-2.26zM310.3 625.2h2.26v2.26h-2.26zM147.5 627.5h2.26v2.26h-2.26zM156.5 627.5h2.26v2.26h-2.26zM176.9 627.5h4.52v2.26h-4.52zM190.4 627.5h2.26v2.26h-2.26zM197.2 627.5h2.26v2.26h-2.26zM204.0 627.5h2.26v2.26h-2.26zM210.8 627.5h2.26v2.26h-2.26zM219.8 627.5h9.04v2.26h-9.04zM235.6 627.5h4.52v2.26h-4.52zM246.9 627.5h6.78v2.26h-6.78zM256.0 627.5h2.26v2.26h-2.26zM260.5 627.5h6.78v2.26h-6.78zM145.2 629.7h2.26v2.26h-2.26zM149.7 629.7h2.26v2.26h-2.26zM156.5 629.7h2.26v2.26h-2.26zM165.5 629.7h6.78v2.26h-6.78zM174.6 629.7h4.52v2.26h-4.52zM185.9 629.7h2.26v2.26h-2.26zM194.9 629.7h2.26v2.26h-2.26zM201.7 629.7h2.26v2.26h-2.26zM206.2 629.7h9.04v2.26h-9.04zM226.6 629.7h4.52v2.26h-4.52zM233.4 629.7h2.26v2.26h-2.26zM258.3 629.7h2.26v2.26h-2.26zM262.8 629.7h6.78v2.26h-6.78zM147.5 632.0h2.26v2.26h-2.26zM154.2 632.0h2.26v2.26h-2.26zM158.8 632.0h4.52v2.26h-4.52zM167.8 632.0h4.52v2.26h-4.52zM174.6 632.0h4.52v2.26h-4.52zM181.4 632.0h2.26v2.26h-2.26zM185.9 632.0h2.26v2.26h-2.26zM194.9 632.0h4.52v2.26h-4.52zM201.7 632.0h4.52v2.26h-4.52zM210.8 632.0h2.26v2.26h-2.26zM224.3 632.0h2.26v2.26h-2.26zM228.9 632.0h2.26v2.26h-2.26zM237.9 632.0h2.26v2.26h-2.26zM242.4 632.0h4.52v2.26h-4.52zM249.2 632.0h4.52v2.26h-4.52zM258.3 632.0h2.26v2.26h-2.26zM262.8 632.0h4.52v2.26h-4.52zM147.5 634.2h2.26v2.26h-2.26zM152.0 634.2h2.26v2.26h-2.26zM158.8 634.2h2.26v2.26h-2.26zM167.8 634.2h2.26v2.26h-2.26zM176.9 634.2h2.26v2.26h-2.26zM181.4 634.2h4.52v2.26h-4.52zM192.7 634.2h6.78v2.26h-6.78zM204.0 634.2h2.26v2.26h-2.26zM208.5 634.2h2.26v2.26h-2.26zM215.3 634.2h2.26v2.26h-2.26zM219.8 634.2h4.52v2.26h-4.52zM231.1 634.2h2.26v2.26h-2.26zM237.9 634.2h4.52v2.26h-4.52zM244.7 634.2h2.26v2.26h-2.26zM249.2 634.2h4.52v2.26h-4.52zM258.3 634.2h2.26v2.26h-2.26zM265.0 634.2h6.78v2.26h-6.78zM147.5 636.5h4.52v2.26h-4.52zM156.5 636.5h2.26v2.26h-2.26zM163.3 636.5h4.52v2.26h-4.52zM170.1 636.5h4.52v2.26h-4.52zM176.9 636.5h18.09v2.26h-18.09zM199.5 636.5h2.26v2.26h-2.26zM210.8 636.5h2.26v2.26h-2.26zM215.3 636.5h4.52v2.26h-4.52zM226.6 636.5h2.26v2.26h-2.26zM231.1 636.5h4.52v2.26h-4.52zM240.2 636.5h4.52v2.26h-4.52zM246.9 636.5h2.26v2.26h-2.26zM256.0 636.5h13.57v2.26h-13.57zM276.3 636.5h2.26v2.26h-2.26zM314.8 636.5h4.52v2.26h-4.52zM145.2 638.7h4.52v2.26h-4.52zM156.5 638.7h2.26v2.26h-2.26zM174.6 638.7h2.26v2.26h-2.26zM179.1 638.7h2.26v2.26h-2.26zM188.2 638.7h2.26v2.26h-2.26zM192.7 638.7h2.26v2.26h-2.26zM197.2 638.7h9.04v2.26h-9.04zM208.5 638.7h2.26v2.26h-2.26zM219.8 638.7h2.26v2.26h-2.26zM224.3 638.7h2.26v2.26h-2.26zM228.9 638.7h2.26v2.26h-2.26zM233.4 638.7h2.26v2.26h-2.26zM237.9 638.7h2.26v2.26h-2.26zM242.4 638.7h2.26v2.26h-2.26zM246.9 638.7h2.26v2.26h-2.26zM251.5 638.7h2.26v2.26h-2.26zM256.0 638.7h6.78v2.26h-6.78zM269.6 638.7h2.26v2.26h-2.26zM156.5 641.0h4.52v2.26h-4.52zM163.3 641.0h2.26v2.26h-2.26zM181.4 641.0h2.26v2.26h-2.26zM190.4 641.0h2.26v2.26h-2.26zM194.9 641.0h4.52v2.26h-4.52zM201.7 641.0h2.26v2.26h-2.26zM206.2 641.0h4.52v2.26h-4.52zM222.1 641.0h2.26v2.26h-2.26zM228.9 641.0h2.26v2.26h-2.26zM242.4 641.0h2.26v2.26h-2.26zM249.2 641.0h4.52v2.26h-4.52zM260.5 641.0h2.26v2.26h-2.26zM267.3 641.0h2.26v2.26h-2.26zM310.3 641.0h2.26v2.26h-2.26zM145.2 643.3h2.26v2.26h-2.26zM149.7 643.3h2.26v2.26h-2.26zM154.2 643.3h4.52v2.26h-4.52zM170.1 643.3h9.04v2.26h-9.04zM181.4 643.3h2.26v2.26h-2.26zM201.7 643.3h9.04v2.26h-9.04zM215.3 643.3h2.26v2.26h-2.26zM219.8 643.3h2.26v2.26h-2.26zM226.6 643.3h2.26v2.26h-2.26zM233.4 643.3h4.52v2.26h-4.52zM269.6 643.3h2.26v2.26h-2.26zM289.9 643.3h2.26v2.26h-2.26zM312.5 643.3h2.26v2.26h-2.26zM145.2 645.5h2.26v2.26h-2.26zM152.0 645.5h4.52v2.26h-4.52zM158.8 645.5h6.78v2.26h-6.78zM167.8 645.5h2.26v2.26h-2.26zM176.9 645.5h9.04v2.26h-9.04zM192.7 645.5h4.52v2.26h-4.52zM199.5 645.5h2.26v2.26h-2.26zM204.0 645.5h2.26v2.26h-2.26zM210.8 645.5h2.26v2.26h-2.26zM224.3 645.5h4.52v2.26h-4.52zM233.4 645.5h4.52v2.26h-4.52zM240.2 645.5h4.52v2.26h-4.52zM249.2 645.5h2.26v2.26h-2.26zM253.7 645.5h2.26v2.26h-2.26zM258.3 645.5h13.57v2.26h-13.57zM274.1 645.5h4.52v2.26h-4.52zM301.2 645.5h2.26v2.26h-2.26zM145.2 647.8h6.78v2.26h-6.78zM156.5 647.8h2.26v2.26h-2.26zM161.0 647.8h2.26v2.26h-2.26zM167.8 647.8h2.26v2.26h-2.26zM172.3 647.8h4.52v2.26h-4.52zM181.4 647.8h6.78v2.26h-6.78zM190.4 647.8h6.78v2.26h-6.78zM199.5 647.8h4.52v2.26h-4.52zM226.6 647.8h6.78v2.26h-6.78zM235.6 647.8h2.26v2.26h-2.26zM251.5 647.8h4.52v2.26h-4.52zM260.5 647.8h2.26v2.26h-2.26zM156.5 650.0h2.26v2.26h-2.26zM165.5 650.0h2.26v2.26h-2.26zM172.3 650.0h6.78v2.26h-6.78zM183.6 650.0h4.52v2.26h-4.52zM199.5 650.0h9.04v2.26h-9.04zM210.8 650.0h2.26v2.26h-2.26zM219.8 650.0h2.26v2.26h-2.26zM224.3 650.0h11.31v2.26h-11.31zM237.9 650.0h4.52v2.26h-4.52zM256.0 650.0h2.26v2.26h-2.26zM262.8 650.0h2.26v2.26h-2.26zM147.5 652.3h2.26v2.26h-2.26zM152.0 652.3h2.26v2.26h-2.26zM158.8 652.3h2.26v2.26h-2.26zM165.5 652.3h4.52v2.26h-4.52zM174.6 652.3h2.26v2.26h-2.26zM179.1 652.3h2.26v2.26h-2.26zM185.9 652.3h2.26v2.26h-2.26zM190.4 652.3h6.78v2.26h-6.78zM199.5 652.3h2.26v2.26h-2.26zM210.8 652.3h4.52v2.26h-4.52zM217.6 652.3h9.04v2.26h-9.04zM231.1 652.3h2.26v2.26h-2.26zM237.9 652.3h6.78v2.26h-6.78zM246.9 652.3h6.78v2.26h-6.78zM258.3 652.3h2.26v2.26h-2.26zM262.8 652.3h2.26v2.26h-2.26zM269.6 652.3h2.26v2.26h-2.26zM145.2 654.5h6.78v2.26h-6.78zM161.0 654.5h4.52v2.26h-4.52zM170.1 654.5h2.26v2.26h-2.26zM174.6 654.5h2.26v2.26h-2.26zM179.1 654.5h2.26v2.26h-2.26zM190.4 654.5h2.26v2.26h-2.26zM194.9 654.5h4.52v2.26h-4.52zM201.7 654.5h2.26v2.26h-2.26zM206.2 654.5h2.26v2.26h-2.26zM215.3 654.5h4.52v2.26h-4.52zM224.3 654.5h2.26v2.26h-2.26zM233.4 654.5h2.26v2.26h-2.26zM244.7 654.5h2.26v2.26h-2.26zM251.5 654.5h2.26v2.26h-2.26zM258.3 654.5h2.26v2.26h-2.26zM265.0 654.5h6.78v2.26h-6.78zM301.2 654.5h2.26v2.26h-2.26zM314.8 654.5h2.26v2.26h-2.26zM152.0 656.8h2.26v2.13h-2.26zM172.3 656.8h2.26v2.13h-2.26zM206.2 656.8h2.26v2.13h-2.26zM276.3 656.8h2.26v2.13h-2.26zM283.1 656.8h4.52v2.13h-4.52zM289.9 656.8h4.52v2.13h-4.52zM172.3 658.9h2.26v2.13h-2.26zM237.9 658.9h2.26v2.13h-2.26zM258.3 658.9h2.26v2.13h-2.26zM280.9 658.9h2.26v2.13h-2.26zM296.7 658.9h2.26v2.13h-2.26zM147.5 661.1h2.26v2.13h-2.26zM172.3 661.1h2.26v2.13h-2.26zM271.8 661.1h4.52v2.13h-4.52zM278.6 661.1h6.78v2.13h-6.78zM289.9 661.1h4.52v2.13h-4.52zM312.5 661.1h2.26v2.13h-2.26zM170.1 663.2h2.26v2.13h-2.26zM192.7 663.2h2.26v2.13h-2.26zM235.6 663.2h2.26v2.13h-2.26zM274.1 663.2h2.26v2.13h-2.26zM278.6 663.2h4.52v2.13h-4.52zM285.4 663.2h2.26v2.13h-2.26zM289.9 663.2h2.26v2.13h-2.26zM314.8 663.2h2.26v2.13h-2.26zM145.2 665.3h9.04v2.13h-9.04zM271.8 665.3h2.26v2.13h-2.26zM278.6 665.3h9.04v2.13h-9.04zM292.2 665.3h4.52v2.13h-4.52zM145.2 667.5h2.26v2.13h-2.26zM152.0 667.5h2.26v2.13h-2.26zM251.5 667.5h2.26v2.13h-2.26zM271.8 667.5h4.52v2.13h-4.52zM278.6 667.5h2.26v2.13h-2.26zM283.1 667.5h2.26v2.13h-2.26zM289.9 667.5h4.52v2.13h-4.52zM274.1 669.6h2.26v2.13h-2.26zM283.1 669.6h2.26v2.13h-2.26zM287.6 669.6h2.26v2.13h-2.26zM294.4 669.6h2.26v2.13h-2.26zM163.3 671.7h2.26v2.13h-2.26zM172.3 671.7h2.26v2.13h-2.26zM181.4 671.7h4.52v2.13h-4.52zM192.7 671.7h2.26v2.13h-2.26zM269.6 671.7h6.78v2.13h-6.78zM278.6 671.7h2.26v2.13h-2.26zM285.4 671.7h4.52v2.13h-4.52zM292.2 671.7h4.52v2.13h-4.52zM299.0 671.7h2.26v2.13h-2.26zM314.8 671.7h2.26v2.13h-2.26zM154.2 673.8h2.26v2.13h-2.26zM167.8 673.8h2.26v2.13h-2.26zM233.4 673.8h2.26v2.13h-2.26zM271.8 673.8h4.52v2.13h-4.52zM278.6 673.8h6.78v2.13h-6.78zM289.9 673.8h2.26v2.13h-2.26zM294.4 673.8h4.52v2.13h-4.52zM308.0 673.8h2.26v2.13h-2.26zM165.5 676.0h2.26v2.13h-2.26zM228.9 676.0h2.26v2.13h-2.26zM271.8 676.0h4.52v2.13h-4.52zM278.6 676.0h2.26v2.13h-2.26zM283.1 676.0h2.26v2.13h-2.26zM289.9 676.0h4.52v2.13h-4.52zM147.5 678.1h4.52v2.13h-4.52zM154.2 678.1h4.52v2.13h-4.52zM172.3 678.1h2.26v2.13h-2.26zM271.8 678.1h2.26v2.13h-2.26zM278.6 678.1h4.52v2.13h-4.52zM285.4 678.1h4.52v2.13h-4.52zM292.2 678.1h4.52v2.13h-4.52zM152.0 680.2h2.26v2.13h-2.26zM156.5 680.2h4.52v2.13h-4.52zM163.3 680.2h9.04v2.13h-9.04zM276.3 680.2h4.52v2.13h-4.52zM287.6 680.2h6.78v2.13h-6.78zM145.2 682.4h4.52v2.13h-4.52zM152.0 682.4h2.26v2.13h-2.26zM158.8 682.4h2.26v2.13h-2.26zM163.3 682.4h2.26v2.13h-2.26zM167.8 682.4h2.26v2.13h-2.26zM194.9 682.4h2.26v2.13h-2.26zM210.8 682.4h4.52v2.13h-4.52zM235.6 682.4h2.26v2.13h-2.26zM271.8 682.4h4.52v2.13h-4.52zM278.6 682.4h4.52v2.13h-4.52zM292.2 682.4h4.52v2.13h-4.52zM145.2 684.5h6.78v2.13h-6.78zM167.8 684.5h2.26v2.13h-2.26zM219.8 684.5h2.26v2.13h-2.26zM265.0 684.5h2.26v2.13h-2.26zM271.8 684.5h9.04v2.13h-9.04zM283.1 684.5h2.26v2.13h-2.26zM292.2 684.5h4.52v2.13h-4.52zM145.2 686.6h4.52v2.13h-4.52zM156.5 686.6h2.26v2.13h-2.26zM161.0 686.6h6.78v2.13h-6.78zM170.1 686.6h4.52v2.13h-4.52zM276.3 686.6h13.57v2.13h-13.57zM292.2 686.6h4.52v2.13h-4.52zM145.2 688.8h6.78v2.13h-6.78zM154.2 688.8h2.26v2.13h-2.26zM161.0 688.8h2.26v2.13h-2.26zM165.5 688.8h9.04v2.13h-9.04zM271.8 688.8h2.26v2.13h-2.26zM280.9 688.8h2.26v2.13h-2.26zM287.6 688.8h4.52v2.13h-4.52zM294.4 688.8h2.26v2.13h-2.26zM152.0 690.9h9.04v2.13h-9.04zM163.3 690.9h11.31v2.13h-11.31zM253.7 690.9h2.26v2.13h-2.26zM260.5 690.9h2.26v2.13h-2.26zM271.8 690.9h2.26v2.13h-2.26zM278.6 690.9h4.52v2.13h-4.52zM287.6 690.9h4.52v2.13h-4.52zM145.2 693.0h2.26v2.13h-2.26zM152.0 693.0h2.26v2.13h-2.26zM158.8 693.0h4.52v2.13h-4.52zM167.8 693.0h2.26v2.13h-2.26zM172.3 693.0h2.26v2.13h-2.26zM222.1 693.0h2.26v2.13h-2.26zM260.5 693.0h2.26v2.13h-2.26zM276.3 693.0h4.52v2.13h-4.52zM287.6 693.0h4.52v2.13h-4.52zM145.2 695.2h2.26v2.13h-2.26zM149.7 695.2h6.78v2.13h-6.78zM161.0 695.2h2.26v2.13h-2.26zM170.1 695.2h4.52v2.13h-4.52zM188.2 695.2h2.26v2.13h-2.26zM199.5 695.2h2.26v2.13h-2.26zM228.9 695.2h2.26v2.13h-2.26zM274.1 695.2h2.26v2.13h-2.26zM278.6 695.2h2.26v2.13h-2.26zM285.4 695.2h2.26v2.13h-2.26zM294.4 695.2h2.26v2.13h-2.26zM149.7 697.3h6.78v2.13h-6.78zM165.5 697.3h2.26v2.13h-2.26zM199.5 697.3h2.26v2.13h-2.26zM274.1 697.3h6.78v2.13h-6.78zM285.4 697.3h2.26v2.13h-2.26zM292.2 697.3h2.26v2.13h-2.26zM156.5 699.4h2.26v2.13h-2.26zM167.8 699.4h2.26v2.13h-2.26zM208.5 699.4h2.26v2.13h-2.26zM228.9 699.4h2.26v2.13h-2.26zM271.8 699.4h2.26v2.13h-2.26zM280.9 699.4h6.78v2.13h-6.78zM289.9 699.4h4.52v2.13h-4.52zM147.5 701.5h4.52v2.13h-4.52zM158.8 701.5h2.26v2.13h-2.26zM274.1 701.5h4.52v2.13h-4.52zM280.9 701.5h4.52v2.13h-4.52zM287.6 701.5h4.52v2.13h-4.52zM161.0 703.7h4.52v2.13h-4.52zM167.8 703.7h2.26v2.13h-2.26zM242.4 703.7h2.26v2.13h-2.26zM246.9 703.7h2.26v2.13h-2.26zM274.1 703.7h2.26v2.13h-2.26zM278.6 703.7h4.52v2.13h-4.52zM289.9 703.7h2.26v2.13h-2.26zM294.4 703.7h2.26v2.13h-2.26zM172.3 705.8h4.52v2.13h-4.52zM190.4 705.8h2.26v2.13h-2.26zM194.9 705.8h2.26v2.13h-2.26zM271.8 705.8h2.26v2.13h-2.26zM283.1 705.8h6.78v2.13h-6.78zM299.0 705.8h2.26v2.13h-2.26zM305.7 705.8h2.26v2.13h-2.26zM269.6 707.9h2.26v2.13h-2.26zM283.1 707.9h2.26v2.13h-2.26zM289.9 707.9h2.26v2.13h-2.26zM294.4 707.9h2.26v2.13h-2.26zM170.1 710.1h2.26v2.13h-2.26zM231.1 710.1h2.26v2.13h-2.26zM240.2 710.1h2.26v2.13h-2.26zM271.8 710.1h4.52v2.13h-4.52zM292.2 710.1h4.52v2.13h-4.52z" fill="#F46516"/>
<path d="M308.0 497.4h2.26v2.29h-2.26zM285.4 499.7h2.26v2.29h-2.26zM314.8 499.7h2.26v2.29h-2.26zM314.8 504.3h2.26v2.29h-2.26zM312.5 506.5h2.26v2.29h-2.26zM256.0 511.1h2.26v2.29h-2.26zM312.5 511.1h2.26v2.29h-2.26zM292.2 513.4h2.26v2.29h-2.26zM312.5 515.7h2.26v2.29h-2.26zM310.3 518.0h2.26v2.29h-2.26zM183.6 524.8h2.26v2.29h-2.26zM301.2 527.1h2.26v2.29h-2.26zM308.0 527.1h2.26v2.29h-2.26zM224.3 531.7h2.26v2.29h-2.26zM242.4 534.0h2.26v2.29h-2.26zM145.2 536.3h2.26v2.29h-2.26zM199.5 536.3h2.26v2.29h-2.26zM317.0 536.3h2.26v2.29h-2.26zM213.0 545.4h2.26v2.29h-2.26zM299.0 545.4h2.26v2.29h-2.26zM258.3 547.7h2.26v2.29h-2.26zM312.5 550.0h2.26v2.29h-2.26zM226.6 554.5h2.26v2.29h-2.26zM197.2 556.8h2.26v2.29h-2.26zM206.2 556.8h2.26v2.29h-2.26zM314.8 556.8h2.26v2.29h-2.26zM217.6 577.4h2.26v2.29h-2.26zM317.0 579.7h2.26v2.29h-2.26zM303.5 582.0h2.26v2.29h-2.26zM314.8 588.8h2.26v2.29h-2.26zM299.0 591.1h2.26v2.29h-2.26zM308.0 591.1h2.26v2.29h-2.26zM299.0 598.0h2.26v2.29h-2.26zM312.5 598.0h2.26v2.29h-2.26zM190.4 607.1h2.26v2.29h-2.26zM260.5 607.1h2.26v2.29h-2.26zM170.1 609.4h2.26v2.26h-2.26zM149.7 611.7h2.26v2.26h-2.26zM181.4 611.7h2.26v2.26h-2.26zM194.9 613.9h2.26v2.26h-2.26zM242.4 613.9h2.26v2.26h-2.26zM267.3 613.9h2.26v2.26h-2.26zM199.5 616.2h2.26v2.26h-2.26zM165.5 618.4h2.26v2.26h-2.26zM185.9 618.4h2.26v2.26h-2.26zM240.2 618.4h2.26v2.26h-2.26zM251.5 618.4h2.26v2.26h-2.26zM190.4 620.7h2.26v2.26h-2.26zM194.9 622.9h2.26v2.26h-2.26zM226.6 622.9h2.26v2.26h-2.26zM262.8 622.9h2.26v2.26h-2.26zM285.4 622.9h2.26v2.26h-2.26zM147.5 625.2h2.26v2.26h-2.26zM152.0 625.2h2.26v2.26h-2.26zM190.4 625.2h2.26v2.26h-2.26zM149.7 627.5h2.26v2.26h-2.26zM194.9 627.5h2.26v2.26h-2.26zM303.5 627.5h2.26v2.26h-2.26zM172.3 632.0h2.26v2.26h-2.26zM217.6 632.0h2.26v2.26h-2.26zM260.5 632.0h2.26v2.26h-2.26zM170.1 634.2h6.78v2.26h-6.78zM224.3 634.2h2.26v2.26h-2.26zM256.0 634.2h2.26v2.26h-2.26zM145.2 636.5h2.26v2.26h-2.26zM152.0 636.5h2.26v2.26h-2.26zM224.3 636.5h2.26v2.26h-2.26zM235.6 636.5h2.26v2.26h-2.26zM244.7 636.5h2.26v2.26h-2.26zM278.6 636.5h2.26v2.26h-2.26zM149.7 638.7h2.26v2.26h-2.26zM194.9 638.7h2.26v2.26h-2.26zM267.3 638.7h2.26v2.26h-2.26zM161.0 641.0h2.26v2.26h-2.26zM235.6 641.0h2.26v2.26h-2.26zM240.2 641.0h2.26v2.26h-2.26zM246.9 641.0h2.26v2.26h-2.26zM156.5 645.5h2.26v2.26h-2.26zM170.1 645.5h2.26v2.26h-2.26zM174.6 645.5h2.26v2.26h-2.26zM215.3 645.5h2.26v2.26h-2.26zM213.0 647.8h2.26v2.26h-2.26zM219.8 647.8h2.26v2.26h-2.26zM244.7 647.8h2.26v2.26h-2.26zM310.3 647.8h2.26v2.26h-2.26zM192.7 650.0h2.26v2.26h-2.26zM226.6 652.3h2.26v2.26h-2.26zM256.0 652.3h2.26v2.26h-2.26zM185.9 654.5h2.26v2.26h-2.26zM192.7 654.5h2.26v2.26h-2.26zM210.8 654.5h2.26v2.26h-2.26zM219.8 654.5h2.26v2.26h-2.26zM292.2 658.9h2.26v2.13h-2.26zM271.8 663.2h2.26v2.13h-2.26zM217.6 665.3h2.26v2.13h-2.26zM276.3 671.7h2.26v2.13h-2.26zM219.8 673.8h2.26v2.13h-2.26zM165.5 678.1h2.26v2.13h-2.26zM283.1 678.1h2.26v2.13h-2.26zM154.2 680.2h2.26v2.13h-2.26zM262.8 680.2h2.26v2.13h-2.26zM156.5 684.5h2.26v2.13h-2.26zM154.2 686.6h2.26v2.13h-2.26zM167.8 686.6h2.26v2.13h-2.26zM274.1 686.6h2.26v2.13h-2.26zM280.9 693.0h2.26v2.13h-2.26zM147.5 695.2h2.26v2.13h-2.26zM183.6 695.2h2.26v2.13h-2.26zM244.7 695.2h2.26v2.13h-2.26zM165.5 701.5h2.26v2.13h-2.26zM170.1 701.5h2.26v2.13h-2.26zM158.8 703.7h2.26v2.13h-2.26zM280.9 710.1h2.26v2.13h-2.26z" fill="#F9A36C"/>
<g stroke="#444" stroke-width="1.1" fill="none">
<line x1="140.5" y1="497.4" x2="140.5" y2="712.2"/>
<line x1="135" y1="497.4" x2="144.2" y2="497.4"/>
<line x1="135" y1="610.0" x2="144.2" y2="610.0"/>
<line x1="135" y1="657.2" x2="144.2" y2="657.2"/>
<line x1="135" y1="712.2" x2="144.2" y2="712.2"/>
</g>
<path d="M138.1 501.7L140.5 497.4L142.9 501.7Z" fill="#000"/>
<path d="M138.1 604.9000000000001L140.5 609.2L142.9 604.9000000000001Z" fill="#000"/>
<path d="M138.1 615.0999999999999L140.5 610.8L142.9 615.0999999999999Z" fill="#000"/>
<path d="M138.1 652.1L140.5 656.4L142.9 652.1Z" fill="#000"/>
<path d="M138.1 662.3L140.5 658.0L142.9 662.3Z" fill="#000"/>
<path d="M138.1 707.9000000000001L140.5 712.2L142.9 707.9000000000001Z" fill="#000"/>
<text transform="translate(135.3,556.0) rotate(-90)" font-size="12" font-weight="bold" fill="#000" text-anchor="middle" font-family="Liberation Sans, sans-serif">49</text>
<text transform="translate(135.3,630.7) rotate(-90)" font-size="12" font-weight="bold" fill="#000" text-anchor="middle" font-family="Liberation Sans, sans-serif">21</text>
<text transform="translate(135.3,680.7) rotate(-90)" font-size="12" font-weight="bold" fill="#000" text-anchor="middle" font-family="Liberation Sans, sans-serif">26</text>
<rect x="331.7" y="497.92" width="16.6" height="5.61" fill="#F46516"/>
<rect x="331.7" y="510.79" width="16.6" height="4.44" fill="#F46516"/>
<rect x="331.7" y="517.22" width="16.6" height="11.16" fill="#F46516"/>
<rect x="331.7" y="528.33" width="16.6" height="2.24" fill="#F6E8E2"/>
<rect x="331.7" y="530.53" width="16.6" height="5.75" fill="#F46516"/>
<rect x="331.7" y="536.23" width="16.6" height="5.90" fill="#F9B48A"/>
<rect x="331.7" y="542.08" width="16.6" height="3.85" fill="#F46516"/>
<rect x="331.7" y="545.88" width="16.6" height="5.90" fill="#A3D7F0"/>
<rect x="331.7" y="551.73" width="16.6" height="12.33" fill="#F46516"/>
<rect x="331.7" y="566.93" width="16.6" height="5.31" fill="#F46516"/>
<rect x="331.7" y="572.19" width="16.6" height="2.10" fill="#A3D7F0"/>
<rect x="331.7" y="574.24" width="16.6" height="8.24" fill="#F46516"/>
<rect x="331.7" y="585.20" width="16.6" height="6.63" fill="#F46516"/>
<rect x="331.7" y="591.78" width="16.6" height="5.61" fill="#F6E8E2"/>
<rect x="331.7" y="597.34" width="16.6" height="2.71" fill="#F46516"/>
<rect x="331.7" y="600.00" width="16.6" height="6.17" fill="#F6E8E2"/>
<rect x="331.7" y="606.12" width="16.6" height="4.03" fill="#F46516"/>
<rect x="331.7" y="611.31" width="16.6" height="3.41" fill="#F46516"/>
<rect x="331.7" y="615.29" width="16.6" height="3.41" fill="#F46516"/>
<rect x="331.7" y="618.65" width="16.6" height="1.88" fill="#F6E8E2"/>
<rect x="331.7" y="620.49" width="16.6" height="5.25" fill="#33AAE2"/>
<rect x="331.7" y="625.69" width="16.6" height="5.25" fill="#F9B48A"/>
<rect x="331.7" y="632.42" width="16.6" height="3.11" fill="#F9B48A"/>
<rect x="331.7" y="635.47" width="16.6" height="4.64" fill="#F9B48A"/>
<rect x="331.7" y="640.06" width="16.6" height="5.25" fill="#F6E8E2"/>
<rect x="331.7" y="645.26" width="16.6" height="4.94" fill="#F46516"/>
<rect x="331.7" y="652.29" width="16.6" height="3.11" fill="#F46516"/>
<rect x="331.7" y="655.35" width="16.6" height="5.25" fill="#F6E8E2"/>
<rect x="331.7" y="660.55" width="16.6" height="3.41" fill="#F46516"/>
<rect x="331.7" y="674.01" width="16.6" height="3.41" fill="#F46516"/>
<rect x="331.7" y="679.51" width="16.6" height="4.33" fill="#F46516"/>
<rect x="331.7" y="683.79" width="16.6" height="4.64" fill="#F9B48A"/>
<rect x="331.7" y="688.38" width="16.6" height="3.11" fill="#F46516"/>
<rect x="331.7" y="691.44" width="16.6" height="3.41" fill="#F6E8E2"/>
<rect x="331.7" y="694.80" width="16.6" height="4.94" fill="#F46516"/>
<rect x="331.7" y="699.69" width="16.6" height="2.50" fill="#A3D7F0"/>
<rect x="331.7" y="702.14" width="16.6" height="4.94" fill="#F9B48A"/>
<rect x="331.7" y="707.03" width="16.6" height="3.41" fill="#F46516"/>
<rect x="348.3" y="497.92" width="16.2" height="3.70" fill="#F46516"/>
<rect x="348.3" y="501.58" width="16.2" height="2.24" fill="#33AAE2"/>
<rect x="348.3" y="503.77" width="16.2" height="2.24" fill="#F46516"/>
<rect x="348.3" y="505.96" width="16.2" height="2.97" fill="#33AAE2"/>
<rect x="348.3" y="508.89" width="16.2" height="2.97" fill="#A3D7F0"/>
<rect x="348.3" y="514.30" width="16.2" height="2.68" fill="#F6E8E2"/>
<rect x="348.3" y="516.93" width="16.2" height="2.54" fill="#F46516"/>
<rect x="348.3" y="519.42" width="16.2" height="9.55" fill="#A3D7F0"/>
<rect x="348.3" y="528.92" width="16.2" height="2.97" fill="#E9894E"/>
<rect x="348.3" y="534.77" width="16.2" height="3.85" fill="#F46516"/>
<rect x="348.3" y="538.57" width="16.2" height="2.97" fill="#33AAE2"/>
<rect x="348.3" y="541.49" width="16.2" height="2.97" fill="#A3D7F0"/>
<rect x="348.3" y="544.42" width="16.2" height="2.83" fill="#F46516"/>
<rect x="348.3" y="548.80" width="16.2" height="2.97" fill="#33AAE2"/>
<rect x="348.3" y="551.73" width="16.2" height="3.27" fill="#F46516"/>
<rect x="348.3" y="554.94" width="16.2" height="2.97" fill="#33AAE2"/>
<rect x="348.3" y="557.87" width="16.2" height="2.68" fill="#F46516"/>
<rect x="348.3" y="563.42" width="16.2" height="4.73" fill="#A3D7F0"/>
<rect x="348.3" y="568.10" width="16.2" height="4.44" fill="#F9B48A"/>
<rect x="348.3" y="574.68" width="16.2" height="2.54" fill="#F9B48A"/>
<rect x="348.3" y="577.16" width="16.2" height="3.56" fill="#33AAE2"/>
<rect x="348.3" y="583.60" width="16.2" height="5.31" fill="#F46516"/>
<rect x="348.3" y="592.37" width="16.2" height="3.85" fill="#33AAE2"/>
<rect x="348.3" y="596.17" width="16.2" height="3.88" fill="#F46516"/>
<rect x="348.3" y="600.00" width="16.2" height="2.80" fill="#F46516"/>
<rect x="348.3" y="604.59" width="16.2" height="3.41" fill="#33AAE2"/>
<rect x="348.3" y="607.95" width="16.2" height="3.11" fill="#A3D7F0"/>
<rect x="348.3" y="611.01" width="16.2" height="3.11" fill="#F46516"/>
<rect x="348.3" y="614.07" width="16.2" height="3.11" fill="#33AAE2"/>
<rect x="348.3" y="617.13" width="16.2" height="3.72" fill="#F46516"/>
<rect x="348.3" y="620.80" width="16.2" height="4.94" fill="#F6E8E2"/>
<rect x="348.3" y="625.69" width="16.2" height="2.19" fill="#F46516"/>
<rect x="348.3" y="627.83" width="16.2" height="4.64" fill="#33AAE2"/>
<rect x="348.3" y="632.42" width="16.2" height="9.22" fill="#F46516"/>
<rect x="348.3" y="641.59" width="16.2" height="4.03" fill="#33AAE2"/>
<rect x="348.3" y="645.57" width="16.2" height="3.72" fill="#F46516"/>
<rect x="348.3" y="649.24" width="16.2" height="3.11" fill="#33AAE2"/>
<rect x="348.3" y="652.29" width="16.2" height="3.41" fill="#F9B48A"/>
<rect x="348.3" y="655.66" width="16.2" height="5.25" fill="#33AAE2"/>
<rect x="348.3" y="663.91" width="16.2" height="3.72" fill="#33AAE2"/>
<rect x="348.3" y="667.58" width="16.2" height="4.64" fill="#5FA8CC"/>
<rect x="348.3" y="672.17" width="16.2" height="4.64" fill="#F46516"/>
<rect x="348.3" y="676.76" width="16.2" height="3.11" fill="#5FA8CC"/>
<rect x="348.3" y="679.82" width="16.2" height="4.03" fill="#F46516"/>
<rect x="348.3" y="683.79" width="16.2" height="3.11" fill="#33AAE2"/>
<rect x="348.3" y="686.85" width="16.2" height="3.72" fill="#F46516"/>
<rect x="348.3" y="690.52" width="16.2" height="4.03" fill="#33AAE2"/>
<rect x="348.3" y="694.50" width="16.2" height="5.25" fill="#F9B48A"/>
<rect x="348.3" y="699.69" width="16.2" height="6.17" fill="#A3D7F0"/>
<rect x="348.3" y="705.81" width="16.2" height="4.64" fill="#F46516"/>
<rect x="364.5" y="497.92" width="16.4" height="6.19" fill="#F9B48A"/>
<rect x="364.5" y="504.06" width="16.4" height="2.97" fill="#A3D7F0"/>
<rect x="364.5" y="508.74" width="16.4" height="2.68" fill="#F9B48A"/>
<rect x="364.5" y="511.37" width="16.4" height="3.70" fill="#E9894E"/>
<rect x="364.5" y="515.03" width="16.4" height="3.41" fill="#5FA8CC"/>
<rect x="364.5" y="518.39" width="16.4" height="2.39" fill="#F46516"/>
<rect x="364.5" y="520.73" width="16.4" height="8.53" fill="#F6E8E2"/>
<rect x="364.5" y="529.21" width="16.4" height="3.27" fill="#5FA8CC"/>
<rect x="364.5" y="536.23" width="16.4" height="2.97" fill="#A3D7F0"/>
<rect x="364.5" y="539.15" width="16.4" height="4.44" fill="#F6E8E2"/>
<rect x="364.5" y="543.54" width="16.4" height="2.97" fill="#F46516"/>
<rect x="364.5" y="546.46" width="16.4" height="5.90" fill="#F6E8E2"/>
<rect x="364.5" y="552.31" width="16.4" height="2.97" fill="#F46516"/>
<rect x="364.5" y="557.57" width="16.4" height="6.48" fill="#F46516"/>
<rect x="364.5" y="564.01" width="16.4" height="4.44" fill="#F9B48A"/>
<rect x="364.5" y="572.78" width="16.4" height="4.44" fill="#F9B48A"/>
<rect x="364.5" y="577.16" width="16.4" height="2.97" fill="#F46516"/>
<rect x="364.5" y="580.09" width="16.4" height="5.17" fill="#D7CBC3"/>
<rect x="364.5" y="589.44" width="16.4" height="2.39" fill="#F46516"/>
<rect x="364.5" y="591.78" width="16.4" height="5.02" fill="#F6E8E2"/>
<rect x="364.5" y="596.75" width="16.4" height="3.30" fill="#F46516"/>
<rect x="364.5" y="600.00" width="16.4" height="4.94" fill="#D7CBC3"/>
<rect x="364.5" y="608.26" width="16.4" height="3.11" fill="#F6E8E2"/>
<rect x="364.5" y="611.31" width="16.4" height="5.86" fill="#F46516"/>
<rect x="364.5" y="617.13" width="16.4" height="4.03" fill="#F9B48A"/>
<rect x="364.5" y="621.10" width="16.4" height="4.64" fill="#F6E8E2"/>
<rect x="364.5" y="625.69" width="16.4" height="3.11" fill="#F46516"/>
<rect x="364.5" y="633.33" width="16.4" height="7.70" fill="#F46516"/>
<rect x="364.5" y="640.98" width="16.4" height="5.25" fill="#E9894E"/>
<rect x="364.5" y="646.18" width="16.4" height="4.03" fill="#F46516"/>
<rect x="364.5" y="650.15" width="16.4" height="3.11" fill="#F9B48A"/>
<rect x="364.5" y="653.21" width="16.4" height="3.72" fill="#F46516"/>
<rect x="364.5" y="656.88" width="16.4" height="4.03" fill="#F6E8E2"/>
<rect x="364.5" y="660.86" width="16.4" height="4.03" fill="#F46516"/>
<rect x="364.5" y="664.83" width="16.4" height="7.39" fill="#F9B48A"/>
<rect x="364.5" y="672.17" width="16.4" height="11.67" fill="#F46516"/>
<rect x="364.5" y="683.79" width="16.4" height="6.78" fill="#D7CBC3"/>
<rect x="364.5" y="690.52" width="16.4" height="3.11" fill="#F46516"/>
<rect x="364.5" y="695.41" width="16.4" height="4.33" fill="#F46516"/>
<rect x="364.5" y="699.69" width="16.4" height="2.50" fill="#5FA8CC"/>
<rect x="364.5" y="702.14" width="16.4" height="8.31" fill="#F46516"/>
<rect x="389.3" y="497.8" width="32.6" height="216.0" fill="#15AEEA"/>
<rect x="389.3" y="504.55" width="16.2" height="2.30" fill="#F7600E"/>
<rect x="389.3" y="529.30" width="16.2" height="2.30" fill="#F7600E"/>
<rect x="389.3" y="536.05" width="16.2" height="2.30" fill="#F7600E"/>
<rect x="389.3" y="547.30" width="16.2" height="2.30" fill="#F7600E"/>
<rect x="389.3" y="549.55" width="16.2" height="2.30" fill="#F7600E"/>
<rect x="389.3" y="563.05" width="16.2" height="2.30" fill="#F7600E"/>
<rect x="389.3" y="572.05" width="16.2" height="2.30" fill="#F7600E"/>
<rect x="389.3" y="583.30" width="16.2" height="2.30" fill="#F7600E"/>
<rect x="389.3" y="585.55" width="16.2" height="2.30" fill="#F7600E"/>
<rect x="389.3" y="599.05" width="16.2" height="2.30" fill="#F7600E"/>
<rect x="389.3" y="601.30" width="16.2" height="2.30" fill="#F7600E"/>
<rect x="389.3" y="619.30" width="16.2" height="2.30" fill="#F7600E"/>
<rect x="389.3" y="621.55" width="16.2" height="2.30" fill="#F7600E"/>
<rect x="389.3" y="626.05" width="16.2" height="2.30" fill="#F7600E"/>
<rect x="389.3" y="628.30" width="16.2" height="2.30" fill="#F7600E"/>
<rect x="389.3" y="632.80" width="16.2" height="2.30" fill="#F7600E"/>
<rect x="389.3" y="635.05" width="16.2" height="2.30" fill="#F7600E"/>
<rect x="389.3" y="637.30" width="16.2" height="2.30" fill="#F7600E"/>
<rect x="389.3" y="639.55" width="16.2" height="2.30" fill="#F7600E"/>
<rect x="389.3" y="641.80" width="16.2" height="2.30" fill="#F7600E"/>
<rect x="389.3" y="671.05" width="16.2" height="2.30" fill="#F7600E"/>
<rect x="389.3" y="675.55" width="16.2" height="2.30" fill="#F7600E"/>
<rect x="389.3" y="680.05" width="16.2" height="2.30" fill="#F7600E"/>
<rect x="389.3" y="689.05" width="16.2" height="2.30" fill="#F7600E"/>
<rect x="389.3" y="700.30" width="16.2" height="2.30" fill="#F7600E"/>
<rect x="389.3" y="515.80" width="16.2" height="1.57" fill="#FCE9DC"/>
<rect x="389.3" y="623.80" width="16.2" height="1.57" fill="#FCE9DC"/>
<rect x="405.5" y="509.05" width="16.4" height="2.30" fill="#F7600E"/>
<rect x="405.5" y="547.30" width="16.4" height="2.30" fill="#F7600E"/>
<rect x="405.5" y="549.55" width="16.4" height="2.30" fill="#F7600E"/>
<rect x="405.5" y="563.05" width="16.4" height="2.30" fill="#F7600E"/>
<rect x="405.5" y="572.05" width="16.4" height="2.30" fill="#F7600E"/>
<rect x="405.5" y="599.05" width="16.4" height="2.30" fill="#F7600E"/>
<rect x="405.5" y="603.55" width="16.4" height="2.30" fill="#F7600E"/>
<rect x="405.5" y="610.30" width="16.4" height="2.30" fill="#F7600E"/>
<rect x="405.5" y="612.55" width="16.4" height="2.30" fill="#F7600E"/>
<rect x="405.5" y="614.80" width="16.4" height="2.30" fill="#F7600E"/>
<rect x="405.5" y="617.05" width="16.4" height="2.30" fill="#F7600E"/>
<rect x="405.5" y="619.30" width="16.4" height="2.30" fill="#F7600E"/>
<rect x="405.5" y="621.55" width="16.4" height="2.30" fill="#F7600E"/>
<rect x="405.5" y="623.80" width="16.4" height="2.30" fill="#F7600E"/>
<rect x="405.5" y="626.05" width="16.4" height="2.30" fill="#F7600E"/>
<rect x="405.5" y="628.30" width="16.4" height="2.30" fill="#F7600E"/>
<rect x="405.5" y="632.80" width="16.4" height="2.30" fill="#F7600E"/>
<rect x="405.5" y="635.05" width="16.4" height="2.30" fill="#F7600E"/>
<rect x="405.5" y="637.30" width="16.4" height="2.30" fill="#F7600E"/>
<rect x="405.5" y="639.55" width="16.4" height="2.30" fill="#F7600E"/>
<rect x="405.5" y="641.80" width="16.4" height="2.30" fill="#F7600E"/>
<rect x="405.5" y="644.05" width="16.4" height="2.30" fill="#F7600E"/>
<rect x="405.5" y="646.30" width="16.4" height="2.30" fill="#F7600E"/>
<rect x="405.5" y="650.80" width="16.4" height="2.30" fill="#F7600E"/>
<rect x="405.5" y="655.30" width="16.4" height="2.30" fill="#F7600E"/>
<rect x="405.5" y="659.80" width="16.4" height="2.30" fill="#F7600E"/>
<rect x="405.5" y="664.30" width="16.4" height="2.30" fill="#F7600E"/>
<rect x="405.5" y="668.80" width="16.4" height="2.30" fill="#F7600E"/>
<rect x="405.5" y="675.55" width="16.4" height="2.30" fill="#F7600E"/>
<rect x="405.5" y="677.80" width="16.4" height="2.30" fill="#F7600E"/>
<rect x="405.5" y="680.05" width="16.4" height="2.30" fill="#F7600E"/>
<rect x="405.5" y="682.30" width="16.4" height="2.30" fill="#F7600E"/>
<rect x="405.5" y="684.55" width="16.4" height="2.30" fill="#F7600E"/>
<rect x="405.5" y="691.30" width="16.4" height="2.30" fill="#F7600E"/>
<rect x="405.5" y="695.80" width="16.4" height="2.30" fill="#F7600E"/>
<rect x="405.5" y="700.30" width="16.4" height="2.30" fill="#F7600E"/>
<rect x="405.5" y="704.80" width="16.4" height="2.30" fill="#F7600E"/>
<rect x="405.5" y="709.30" width="16.4" height="2.30" fill="#F7600E"/>
<rect x="405.5" y="506.80" width="16.4" height="1.57" fill="#FCE9DC"/>
<rect x="405.5" y="513.55" width="16.4" height="1.57" fill="#FCE9DC"/>
<rect x="405.5" y="558.55" width="16.4" height="1.57" fill="#FCE9DC"/>
<rect x="405.5" y="567.55" width="16.4" height="1.57" fill="#FCE9DC"/>
<rect x="405.5" y="583.30" width="16.4" height="1.57" fill="#FCE9DC"/>
<rect x="405.5" y="596.80" width="16.4" height="1.57" fill="#FCE9DC"/>
<rect x="405.5" y="693.55" width="16.4" height="1.57" fill="#FCE9DC"/>
<rect x="405.5" y="702.55" width="16.4" height="1.57" fill="#FCE9DC"/>
<text transform="translate(342.0,493.4) rotate(-57)" font-size="11.4" font-weight="bold" fill="#000" style="word-spacing:-1px" font-family="Liberation Sans, sans-serif">D 0</text>
<text transform="translate(356.4,493.2) rotate(-57)" font-size="11.4" font-weight="bold" fill="#000" style="word-spacing:-1px" font-family="Liberation Sans, sans-serif">D 4</text>
<text transform="translate(371.0,493.4) rotate(-57)" font-size="11.4" font-weight="bold" fill="#000" style="word-spacing:-1px" font-family="Liberation Sans, sans-serif">D 7</text>
<text transform="translate(399.0,495.2) rotate(-57)" font-size="11.4" font-weight="bold" fill="#000" style="word-spacing:-1px" font-family="Liberation Sans, sans-serif">D4/D0</text>
<text transform="translate(414.3,495.6) rotate(-57)" font-size="11.4" font-weight="bold" fill="#000" style="word-spacing:-1px" font-family="Liberation Sans, sans-serif">D7/D0</text>
<line x1="423.8" y1="499.6" x2="432.8" y2="499.6" stroke="#666" stroke-width="1.3"/>
<text x="435.6" y="502.5" font-size="11.6" font-weight="bold" fill="#000" font-family="Liberation Sans, sans-serif">Scgb1a1</text>
<line x1="423.8" y1="515.0" x2="432.8" y2="515.0" stroke="#666" stroke-width="1.3"/>
<text x="435.6" y="517.9" font-size="11.6" font-weight="bold" fill="#000" font-family="Liberation Sans, sans-serif">Cyp2f2</text>
<line x1="423.8" y1="613.9" x2="432.8" y2="613.9" stroke="#666" stroke-width="1.3"/>
<text x="435.6" y="616.8" font-size="11.6" font-weight="bold" fill="#000" font-family="Liberation Sans, sans-serif">Pdpn</text>
<line x1="423.8" y1="650.9" x2="432.8" y2="650.9" stroke="#666" stroke-width="1.3"/>
<text x="435.6" y="653.8" font-size="11.6" font-weight="bold" fill="#000" font-family="Liberation Sans, sans-serif">Ager</text>
<line x1="423.8" y1="660.9" x2="432.8" y2="660.9" stroke="#666" stroke-width="1.3"/>
<text x="435.6" y="663.8" font-size="11.6" font-weight="bold" fill="#000" font-family="Liberation Sans, sans-serif">Il33</text>
<line x1="423.8" y1="688.0" x2="432.8" y2="688.0" stroke="#666" stroke-width="1.3"/>
<text x="435.6" y="690.9" font-size="11.6" font-weight="bold" fill="#000" font-family="Liberation Sans, sans-serif">Fabp5</text>
<line x1="423.8" y1="704.6" x2="432.8" y2="704.6" stroke="#666" stroke-width="1.3"/>
<text x="435.6" y="707.5" font-size="11.6" font-weight="bold" fill="#000" font-family="Liberation Sans, sans-serif">Etv5</text>
<defs><linearGradient id="g1" x1="0" x2="1" y1="0" y2="0"><stop offset="0" stop-color="#0A7CC0"/><stop offset="0.15" stop-color="#2E92CC"/><stop offset="0.45" stop-color="#FFFFFF"/><stop offset="0.55" stop-color="#FFFFFF"/><stop offset="0.85" stop-color="#F88A48"/><stop offset="1" stop-color="#FA6A0A"/></linearGradient></defs>
<defs><linearGradient id="g2" x1="0" x2="1" y1="0" y2="0"><stop offset="0" stop-color="#0A7CC0"/><stop offset="0.15" stop-color="#2E92CC"/><stop offset="0.45" stop-color="#FFFFFF"/><stop offset="0.55" stop-color="#FFFFFF"/><stop offset="0.85" stop-color="#F88A48"/><stop offset="1" stop-color="#FA6A0A"/></linearGradient></defs>
<rect x="175" y="731.6" width="55.5" height="10.2" fill="url(#g1)"/>
<rect x="326.1" y="731" width="45.1" height="10.9" fill="url(#g2)"/>
<rect x="391.7" y="732" width="37.3" height="10.8" fill="url(#g2)"/>
<text x="167.2" y="730.6" font-size="10.6" font-weight="bold" fill="#000" font-family="Liberation Sans, sans-serif">-1</text>
<text x="227" y="730.6" font-size="10.6" font-weight="bold" fill="#000" font-family="Liberation Sans, sans-serif">1</text>
<text x="326.1" y="728.2" font-size="10.6" font-weight="bold" fill="#000" font-family="Liberation Sans, sans-serif">0</text>
<text x="347.6" y="728.2" font-size="10.6" font-weight="bold" fill="#000" font-family="Liberation Sans, sans-serif">4</text>
<text x="366.6" y="728.2" font-size="10.6" font-weight="bold" fill="#000" font-family="Liberation Sans, sans-serif">8</text>
<text x="386.2" y="728.2" font-size="10.6" font-weight="bold" fill="#000" font-family="Liberation Sans, sans-serif">-1</text>
<text x="425.2" y="728.2" font-size="10.6" font-weight="bold" fill="#000" font-family="Liberation Sans, sans-serif">1</text>
</svg>
</body></html>
